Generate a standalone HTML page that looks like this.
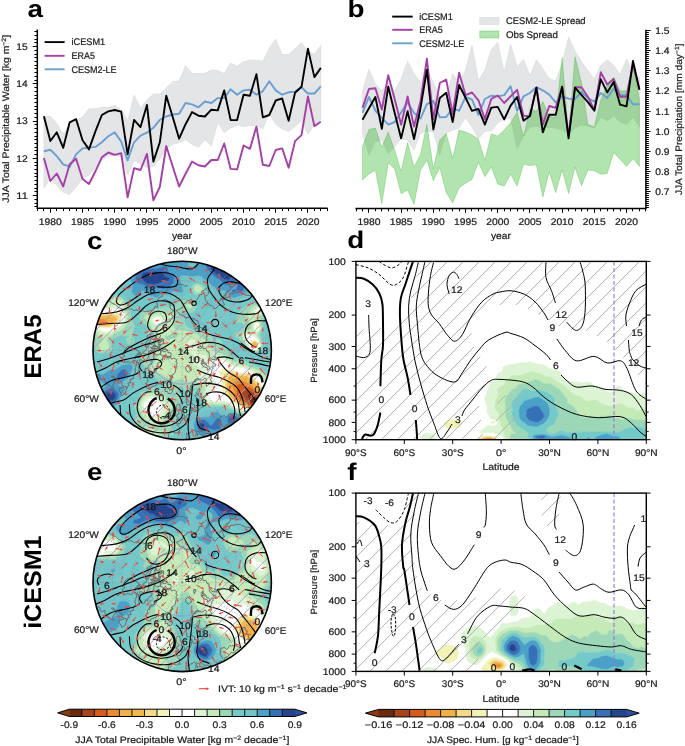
<!DOCTYPE html>
<html><head><meta charset="utf-8"><style>
html,body{margin:0;padding:0;background:#fff;}
svg{display:block;will-change:transform;}
text{font-family:'Liberation Sans',sans-serif;text-rendering:geometricPrecision;}
text:not([font-weight]){stroke:#1a1a1a;stroke-width:0.22px;}
text[font-weight]{stroke:none;}
</style></head><body>
<svg width="685" height="746" viewBox="0 0 685 746">
<rect width="685" height="746" fill="#ffffff"/>
<path d="M43.90,117.00 L50.34,116.20 L56.78,123.60 L63.22,133.90 L69.66,124.30 L76.10,120.60 L82.54,117.00 L88.98,108.80 L95.42,108.80 L101.86,107.30 L108.30,107.30 L114.74,105.40 L121.18,109.70 L127.62,120.60 L134.06,95.20 L140.50,108.50 L146.94,100.00 L153.38,94.00 L159.82,94.00 L166.26,88.00 L172.70,81.70 L179.14,80.90 L185.58,65.50 L192.02,73.30 L198.46,73.60 L204.90,73.60 L211.34,69.90 L217.78,70.60 L224.22,73.60 L230.66,63.00 L237.10,66.20 L243.54,61.80 L249.98,60.20 L256.42,60.20 L262.86,61.40 L269.30,48.10 L275.74,39.20 L282.18,54.60 L288.62,54.60 L295.06,48.80 L301.50,42.60 L307.94,51.40 L314.38,54.30 L320.82,45.50 L320.82,119.40 L314.38,125.40 L307.94,133.90 L301.50,120.60 L295.06,126.60 L288.62,131.40 L282.18,129.00 L275.74,124.20 L269.30,113.30 L262.86,129.00 L256.42,125.40 L249.98,125.40 L243.54,126.60 L237.10,125.10 L230.66,128.00 L224.22,132.50 L217.78,122.20 L211.34,145.70 L204.90,139.80 L198.46,147.20 L192.02,144.30 L185.58,139.80 L179.14,142.80 L172.70,144.30 L166.26,148.40 L159.82,159.20 L153.38,166.50 L146.94,167.70 L140.50,164.00 L134.06,160.40 L127.62,175.00 L121.18,156.80 L114.74,155.60 L108.30,155.60 L101.86,160.40 L95.42,167.70 L88.98,175.20 L82.54,178.20 L76.10,187.00 L69.66,194.40 L63.22,192.20 L56.78,185.50 L50.34,178.20 L43.90,187.80 Z" fill="#e4e5e6" stroke="#d6d6d6" stroke-width="0.6"/>
<path d="M43.90,151.30 L50.34,149.80 L56.78,156.10 L63.22,164.30 L69.66,166.70 L76.10,154.40 L82.54,148.40 L88.98,147.60 L95.42,146.90 L101.86,142.30 L108.30,136.30 L114.74,132.40 L121.18,141.60 L127.62,160.40 L134.06,142.30 L140.50,135.60 L146.94,132.70 L153.38,127.80 L159.82,119.90 L166.26,116.50 L172.70,114.50 L179.14,113.80 L185.58,103.00 L192.02,104.40 L198.46,107.30 L204.90,101.50 L211.34,103.00 L217.78,98.10 L224.22,98.10 L230.66,89.20 L237.10,94.70 L243.54,90.40 L249.98,89.70 L256.42,94.70 L262.86,91.10 L269.30,81.20 L275.74,90.40 L282.18,94.70 L288.62,92.30 L295.06,91.60 L301.50,87.20 L307.94,93.50 L314.38,93.50 L320.82,86.30" fill="none" stroke="#6a9fd2" stroke-width="1.9" stroke-linejoin="round"/>
<path d="M43.90,158.00 L50.34,181.00 L56.78,173.50 L63.22,186.50 L69.66,164.30 L76.10,158.70 L82.54,179.00 L88.98,184.00 L95.42,171.30 L101.86,157.30 L108.30,152.50 L114.74,154.90 L121.18,153.20 L127.62,197.40 L134.06,168.20 L140.50,170.00 L146.94,153.90 L153.38,200.30 L159.82,187.00 L166.26,146.00 L172.70,166.50 L179.14,186.50 L185.58,173.70 L192.02,161.60 L198.46,165.30 L204.90,166.50 L211.34,160.00 L217.78,160.00 L224.22,143.50 L230.66,168.90 L237.10,169.40 L243.54,145.50 L249.98,148.80 L256.42,126.60 L262.86,164.80 L269.30,166.00 L275.74,150.00 L282.18,148.40 L288.62,167.70 L295.06,141.10 L301.50,135.10 L307.94,96.40 L314.38,126.10 L320.82,121.80" fill="none" stroke="#a53fa8" stroke-width="1.9" stroke-linejoin="round"/>
<path d="M43.90,116.30 L50.34,141.00 L56.78,132.30 L63.22,147.80 L69.66,122.30 L76.10,119.20 L82.54,140.20 L88.98,149.40 L95.42,131.40 L101.86,115.00 L108.30,111.40 L114.74,110.00 L121.18,111.60 L127.62,154.40 L134.06,119.90 L140.50,127.10 L146.94,104.90 L153.38,161.60 L159.82,142.30 L166.26,95.70 L172.70,117.00 L179.14,138.70 L185.58,124.20 L192.02,112.10 L198.46,115.70 L204.90,116.50 L211.34,109.70 L217.78,110.40 L224.22,90.40 L230.66,120.10 L237.10,120.10 L243.54,94.70 L249.98,95.70 L256.42,74.20 L262.86,117.40 L269.30,115.00 L275.74,100.50 L282.18,98.40 L288.62,120.80 L295.06,92.80 L301.50,86.80 L307.94,48.60 L314.38,77.10 L320.82,67.90" fill="none" stroke="#000000" stroke-width="1.9" stroke-linejoin="round"/>
<path d="M37.3,29.5 L37.3,208.2 L327.6,208.2" fill="none" stroke="#000" stroke-width="1.5"/>
<line x1="34.40" y1="206.50" x2="37.3" y2="206.50" stroke="#000" stroke-width="1.0"/>
<line x1="34.40" y1="203.50" x2="37.3" y2="203.50" stroke="#000" stroke-width="1.0"/>
<line x1="34.40" y1="199.50" x2="37.3" y2="199.50" stroke="#000" stroke-width="1.0"/>
<line x1="32.80" y1="195.50" x2="37.3" y2="195.50" stroke="#000" stroke-width="1.0"/>
<line x1="34.40" y1="191.50" x2="37.3" y2="191.50" stroke="#000" stroke-width="1.0"/>
<line x1="34.40" y1="188.50" x2="37.3" y2="188.50" stroke="#000" stroke-width="1.0"/>
<line x1="34.40" y1="184.50" x2="37.3" y2="184.50" stroke="#000" stroke-width="1.0"/>
<line x1="34.40" y1="180.50" x2="37.3" y2="180.50" stroke="#000" stroke-width="1.0"/>
<line x1="34.40" y1="176.50" x2="37.3" y2="176.50" stroke="#000" stroke-width="1.0"/>
<line x1="34.40" y1="173.50" x2="37.3" y2="173.50" stroke="#000" stroke-width="1.0"/>
<line x1="34.40" y1="169.50" x2="37.3" y2="169.50" stroke="#000" stroke-width="1.0"/>
<line x1="34.40" y1="165.50" x2="37.3" y2="165.50" stroke="#000" stroke-width="1.0"/>
<line x1="34.40" y1="162.50" x2="37.3" y2="162.50" stroke="#000" stroke-width="1.0"/>
<line x1="32.80" y1="158.50" x2="37.3" y2="158.50" stroke="#000" stroke-width="1.0"/>
<line x1="34.40" y1="154.50" x2="37.3" y2="154.50" stroke="#000" stroke-width="1.0"/>
<line x1="34.40" y1="150.50" x2="37.3" y2="150.50" stroke="#000" stroke-width="1.0"/>
<line x1="34.40" y1="147.50" x2="37.3" y2="147.50" stroke="#000" stroke-width="1.0"/>
<line x1="34.40" y1="143.50" x2="37.3" y2="143.50" stroke="#000" stroke-width="1.0"/>
<line x1="34.40" y1="139.50" x2="37.3" y2="139.50" stroke="#000" stroke-width="1.0"/>
<line x1="34.40" y1="136.50" x2="37.3" y2="136.50" stroke="#000" stroke-width="1.0"/>
<line x1="34.40" y1="132.50" x2="37.3" y2="132.50" stroke="#000" stroke-width="1.0"/>
<line x1="34.40" y1="128.50" x2="37.3" y2="128.50" stroke="#000" stroke-width="1.0"/>
<line x1="34.40" y1="124.50" x2="37.3" y2="124.50" stroke="#000" stroke-width="1.0"/>
<line x1="32.80" y1="121.50" x2="37.3" y2="121.50" stroke="#000" stroke-width="1.0"/>
<line x1="34.40" y1="117.50" x2="37.3" y2="117.50" stroke="#000" stroke-width="1.0"/>
<line x1="34.40" y1="113.50" x2="37.3" y2="113.50" stroke="#000" stroke-width="1.0"/>
<line x1="34.40" y1="109.50" x2="37.3" y2="109.50" stroke="#000" stroke-width="1.0"/>
<line x1="34.40" y1="106.50" x2="37.3" y2="106.50" stroke="#000" stroke-width="1.0"/>
<line x1="34.40" y1="102.50" x2="37.3" y2="102.50" stroke="#000" stroke-width="1.0"/>
<line x1="34.40" y1="98.50" x2="37.3" y2="98.50" stroke="#000" stroke-width="1.0"/>
<line x1="34.40" y1="95.50" x2="37.3" y2="95.50" stroke="#000" stroke-width="1.0"/>
<line x1="34.40" y1="91.50" x2="37.3" y2="91.50" stroke="#000" stroke-width="1.0"/>
<line x1="34.40" y1="87.50" x2="37.3" y2="87.50" stroke="#000" stroke-width="1.0"/>
<line x1="32.80" y1="83.50" x2="37.3" y2="83.50" stroke="#000" stroke-width="1.0"/>
<line x1="34.40" y1="80.50" x2="37.3" y2="80.50" stroke="#000" stroke-width="1.0"/>
<line x1="34.40" y1="76.50" x2="37.3" y2="76.50" stroke="#000" stroke-width="1.0"/>
<line x1="34.40" y1="72.50" x2="37.3" y2="72.50" stroke="#000" stroke-width="1.0"/>
<line x1="34.40" y1="68.50" x2="37.3" y2="68.50" stroke="#000" stroke-width="1.0"/>
<line x1="34.40" y1="65.50" x2="37.3" y2="65.50" stroke="#000" stroke-width="1.0"/>
<line x1="34.40" y1="61.50" x2="37.3" y2="61.50" stroke="#000" stroke-width="1.0"/>
<line x1="34.40" y1="57.50" x2="37.3" y2="57.50" stroke="#000" stroke-width="1.0"/>
<line x1="34.40" y1="54.50" x2="37.3" y2="54.50" stroke="#000" stroke-width="1.0"/>
<line x1="34.40" y1="50.50" x2="37.3" y2="50.50" stroke="#000" stroke-width="1.0"/>
<line x1="32.80" y1="46.50" x2="37.3" y2="46.50" stroke="#000" stroke-width="1.0"/>
<line x1="34.40" y1="42.50" x2="37.3" y2="42.50" stroke="#000" stroke-width="1.0"/>
<line x1="34.40" y1="39.50" x2="37.3" y2="39.50" stroke="#000" stroke-width="1.0"/>
<line x1="34.40" y1="35.50" x2="37.3" y2="35.50" stroke="#000" stroke-width="1.0"/>
<line x1="34.40" y1="31.50" x2="37.3" y2="31.50" stroke="#000" stroke-width="1.0"/>
<text x="27.80" y="198.90" font-size="9.63" text-anchor="end" style="" fill="#1a1a1a" textLength="11.45" lengthAdjust="spacingAndGlyphs">11</text>
<text x="27.80" y="161.65" font-size="9.63" text-anchor="end" style="" fill="#1a1a1a" textLength="11.45" lengthAdjust="spacingAndGlyphs">12</text>
<text x="27.80" y="124.40" font-size="9.63" text-anchor="end" style="" fill="#1a1a1a" textLength="11.45" lengthAdjust="spacingAndGlyphs">13</text>
<text x="27.80" y="87.15" font-size="9.63" text-anchor="end" style="" fill="#1a1a1a" textLength="11.45" lengthAdjust="spacingAndGlyphs">14</text>
<text x="27.80" y="49.90" font-size="9.63" text-anchor="end" style="" fill="#1a1a1a" textLength="11.45" lengthAdjust="spacingAndGlyphs">15</text>
<line x1="37.50" y1="208.2" x2="37.50" y2="211.10" stroke="#000" stroke-width="1.0"/>
<line x1="43.50" y1="208.2" x2="43.50" y2="211.10" stroke="#000" stroke-width="1.0"/>
<line x1="50.50" y1="208.2" x2="50.50" y2="212.70" stroke="#000" stroke-width="1.0"/>
<line x1="56.50" y1="208.2" x2="56.50" y2="211.10" stroke="#000" stroke-width="1.0"/>
<line x1="63.50" y1="208.2" x2="63.50" y2="211.10" stroke="#000" stroke-width="1.0"/>
<line x1="69.50" y1="208.2" x2="69.50" y2="211.10" stroke="#000" stroke-width="1.0"/>
<line x1="76.50" y1="208.2" x2="76.50" y2="211.10" stroke="#000" stroke-width="1.0"/>
<line x1="82.50" y1="208.2" x2="82.50" y2="212.70" stroke="#000" stroke-width="1.0"/>
<line x1="88.50" y1="208.2" x2="88.50" y2="211.10" stroke="#000" stroke-width="1.0"/>
<line x1="95.50" y1="208.2" x2="95.50" y2="211.10" stroke="#000" stroke-width="1.0"/>
<line x1="101.50" y1="208.2" x2="101.50" y2="211.10" stroke="#000" stroke-width="1.0"/>
<line x1="108.50" y1="208.2" x2="108.50" y2="211.10" stroke="#000" stroke-width="1.0"/>
<line x1="114.50" y1="208.2" x2="114.50" y2="212.70" stroke="#000" stroke-width="1.0"/>
<line x1="121.50" y1="208.2" x2="121.50" y2="211.10" stroke="#000" stroke-width="1.0"/>
<line x1="127.50" y1="208.2" x2="127.50" y2="211.10" stroke="#000" stroke-width="1.0"/>
<line x1="134.50" y1="208.2" x2="134.50" y2="211.10" stroke="#000" stroke-width="1.0"/>
<line x1="140.50" y1="208.2" x2="140.50" y2="211.10" stroke="#000" stroke-width="1.0"/>
<line x1="146.50" y1="208.2" x2="146.50" y2="212.70" stroke="#000" stroke-width="1.0"/>
<line x1="153.50" y1="208.2" x2="153.50" y2="211.10" stroke="#000" stroke-width="1.0"/>
<line x1="159.50" y1="208.2" x2="159.50" y2="211.10" stroke="#000" stroke-width="1.0"/>
<line x1="166.50" y1="208.2" x2="166.50" y2="211.10" stroke="#000" stroke-width="1.0"/>
<line x1="172.50" y1="208.2" x2="172.50" y2="211.10" stroke="#000" stroke-width="1.0"/>
<line x1="179.50" y1="208.2" x2="179.50" y2="212.70" stroke="#000" stroke-width="1.0"/>
<line x1="185.50" y1="208.2" x2="185.50" y2="211.10" stroke="#000" stroke-width="1.0"/>
<line x1="192.50" y1="208.2" x2="192.50" y2="211.10" stroke="#000" stroke-width="1.0"/>
<line x1="198.50" y1="208.2" x2="198.50" y2="211.10" stroke="#000" stroke-width="1.0"/>
<line x1="204.50" y1="208.2" x2="204.50" y2="211.10" stroke="#000" stroke-width="1.0"/>
<line x1="211.50" y1="208.2" x2="211.50" y2="212.70" stroke="#000" stroke-width="1.0"/>
<line x1="217.50" y1="208.2" x2="217.50" y2="211.10" stroke="#000" stroke-width="1.0"/>
<line x1="224.50" y1="208.2" x2="224.50" y2="211.10" stroke="#000" stroke-width="1.0"/>
<line x1="230.50" y1="208.2" x2="230.50" y2="211.10" stroke="#000" stroke-width="1.0"/>
<line x1="237.50" y1="208.2" x2="237.50" y2="211.10" stroke="#000" stroke-width="1.0"/>
<line x1="243.50" y1="208.2" x2="243.50" y2="212.70" stroke="#000" stroke-width="1.0"/>
<line x1="249.50" y1="208.2" x2="249.50" y2="211.10" stroke="#000" stroke-width="1.0"/>
<line x1="256.50" y1="208.2" x2="256.50" y2="211.10" stroke="#000" stroke-width="1.0"/>
<line x1="262.50" y1="208.2" x2="262.50" y2="211.10" stroke="#000" stroke-width="1.0"/>
<line x1="269.50" y1="208.2" x2="269.50" y2="211.10" stroke="#000" stroke-width="1.0"/>
<line x1="275.50" y1="208.2" x2="275.50" y2="212.70" stroke="#000" stroke-width="1.0"/>
<line x1="282.50" y1="208.2" x2="282.50" y2="211.10" stroke="#000" stroke-width="1.0"/>
<line x1="288.50" y1="208.2" x2="288.50" y2="211.10" stroke="#000" stroke-width="1.0"/>
<line x1="295.50" y1="208.2" x2="295.50" y2="211.10" stroke="#000" stroke-width="1.0"/>
<line x1="301.50" y1="208.2" x2="301.50" y2="211.10" stroke="#000" stroke-width="1.0"/>
<line x1="307.50" y1="208.2" x2="307.50" y2="212.70" stroke="#000" stroke-width="1.0"/>
<line x1="314.50" y1="208.2" x2="314.50" y2="211.10" stroke="#000" stroke-width="1.0"/>
<line x1="320.50" y1="208.2" x2="320.50" y2="211.10" stroke="#000" stroke-width="1.0"/>
<line x1="327.50" y1="208.2" x2="327.50" y2="211.10" stroke="#000" stroke-width="1.0"/>
<text x="50.34" y="224.50" font-size="9.63" text-anchor="middle" style="" fill="#1a1a1a" textLength="22.91" lengthAdjust="spacingAndGlyphs">1980</text>
<text x="82.54" y="224.50" font-size="9.63" text-anchor="middle" style="" fill="#1a1a1a" textLength="22.91" lengthAdjust="spacingAndGlyphs">1985</text>
<text x="114.74" y="224.50" font-size="9.63" text-anchor="middle" style="" fill="#1a1a1a" textLength="22.91" lengthAdjust="spacingAndGlyphs">1990</text>
<text x="146.94" y="224.50" font-size="9.63" text-anchor="middle" style="" fill="#1a1a1a" textLength="22.91" lengthAdjust="spacingAndGlyphs">1995</text>
<text x="179.14" y="224.50" font-size="9.63" text-anchor="middle" style="" fill="#1a1a1a" textLength="22.91" lengthAdjust="spacingAndGlyphs">2000</text>
<text x="211.34" y="224.50" font-size="9.63" text-anchor="middle" style="" fill="#1a1a1a" textLength="22.91" lengthAdjust="spacingAndGlyphs">2005</text>
<text x="243.54" y="224.50" font-size="9.63" text-anchor="middle" style="" fill="#1a1a1a" textLength="22.91" lengthAdjust="spacingAndGlyphs">2010</text>
<text x="275.74" y="224.50" font-size="9.63" text-anchor="middle" style="" fill="#1a1a1a" textLength="22.91" lengthAdjust="spacingAndGlyphs">2015</text>
<text x="307.94" y="224.50" font-size="9.63" text-anchor="middle" style="" fill="#1a1a1a" textLength="22.91" lengthAdjust="spacingAndGlyphs">2020</text>

<text x="0" y="0" font-size="9.45" fill="#262626" text-anchor="middle" textLength="167.8" lengthAdjust="spacingAndGlyphs" transform="translate(8.7,118.8) rotate(-90)">JJA Total Precipitable Water [kg m<tspan font-size="6.3" dy="-3.2">−2</tspan><tspan dy="3.2">]</tspan></text>
<line x1="44.6" y1="42.1" x2="64.6" y2="42.1" stroke="#000000" stroke-width="1.9"/>
<text x="71.50" y="45.40" font-size="9.63" text-anchor="start" style="" fill="#1a1a1a" textLength="33.68" lengthAdjust="spacingAndGlyphs">iCESM1</text>
<line x1="44.6" y1="55.8" x2="64.6" y2="55.8" stroke="#a53fa8" stroke-width="1.9"/>
<text x="71.50" y="59.10" font-size="9.63" text-anchor="start" style="" fill="#1a1a1a" textLength="23.46" lengthAdjust="spacingAndGlyphs">ERA5</text>
<line x1="44.6" y1="69.3" x2="64.6" y2="69.3" stroke="#6a9fd2" stroke-width="1.9"/>
<text x="71.50" y="72.60" font-size="9.63" text-anchor="start" style="" fill="#1a1a1a" textLength="45.12" lengthAdjust="spacingAndGlyphs">CESM2-LE</text>
<path d="M362.50,91.00 L368.94,69.20 L375.38,84.00 L381.82,91.00 L388.26,82.30 L394.70,91.00 L401.14,78.80 L407.58,61.30 L414.02,73.60 L420.46,82.30 L426.90,70.00 L433.34,82.30 L439.78,96.30 L446.22,97.50 L452.66,73.90 L459.10,83.00 L465.54,70.00 L471.98,45.60 L478.42,80.40 L484.86,70.00 L491.30,49.60 L497.74,42.30 L504.18,72.60 L510.62,44.30 L517.06,66.60 L523.50,59.40 L529.94,75.80 L536.38,59.70 L542.82,68.80 L549.26,78.40 L555.70,81.00 L562.14,63.50 L568.58,37.30 L575.02,51.30 L581.46,61.80 L587.90,70.50 L594.34,79.30 L600.78,65.30 L607.22,59.70 L613.66,65.30 L620.10,74.90 L626.54,59.20 L632.98,72.30 L639.42,77.50 L639.42,126.90 L632.98,117.00 L626.54,124.40 L620.10,122.00 L613.66,115.80 L607.22,120.70 L600.78,117.00 L594.34,128.00 L587.90,126.00 L581.46,125.00 L575.02,128.00 L568.58,134.00 L562.14,130.00 L555.70,128.00 L549.26,127.00 L542.82,128.00 L536.38,126.00 L529.94,127.00 L523.50,136.00 L517.06,148.50 L510.62,118.00 L504.18,119.00 L497.74,122.90 L491.30,130.80 L484.86,131.40 L478.42,138.70 L471.98,126.80 L465.54,117.60 L459.10,128.00 L452.66,130.00 L446.22,133.00 L439.78,154.40 L433.34,132.00 L426.90,130.80 L420.46,133.40 L414.02,149.80 L407.58,140.00 L401.14,138.70 L394.70,146.50 L388.26,153.80 L381.82,140.00 L375.38,141.30 L368.94,155.10 L362.50,133.40 Z" fill="#e4e5e6" stroke="#d6d6d6" stroke-width="0.6"/>
<path d="M362.50,146.50 L368.94,129.50 L375.38,128.10 L381.82,147.20 L388.26,132.10 L394.70,150.50 L401.14,171.50 L407.58,142.60 L414.02,166.90 L420.46,154.40 L426.90,124.50 L433.34,168.90 L439.78,140.00 L446.22,133.40 L452.66,158.40 L459.10,130.10 L465.54,132.10 L471.98,134.70 L478.42,139.30 L484.86,160.30 L491.30,134.00 L497.74,136.00 L504.18,130.10 L510.62,122.90 L517.06,112.00 L523.50,136.00 L529.94,109.50 L536.38,111.30 L542.82,101.60 L549.26,116.50 L555.70,117.40 L562.14,57.40 L568.58,133.00 L575.02,56.80 L581.46,82.30 L587.90,124.40 L594.34,126.90 L600.78,100.00 L607.22,84.70 L613.66,77.30 L620.10,91.00 L626.54,91.00 L632.98,62.40 L639.42,99.60 L639.42,166.40 L632.98,158.60 L626.54,166.40 L620.10,159.40 L613.66,152.40 L607.22,173.40 L600.78,174.30 L594.34,170.80 L587.90,169.90 L581.46,185.70 L575.02,167.30 L568.58,193.60 L562.14,169.90 L555.70,192.70 L549.26,171.70 L542.82,197.10 L536.38,164.70 L529.94,165.60 L523.50,164.30 L517.06,186.00 L510.62,174.10 L504.18,186.00 L497.74,184.00 L491.30,166.90 L484.86,176.80 L478.42,162.30 L471.98,179.40 L465.54,183.30 L459.10,187.90 L452.66,203.00 L446.22,192.50 L439.78,167.60 L433.34,180.70 L426.90,160.30 L420.46,170.20 L414.02,204.40 L407.58,189.90 L401.14,193.80 L394.70,168.90 L388.26,163.00 L381.82,203.70 L375.38,170.20 L368.94,174.10 L362.50,180.00 Z" fill="#13ad0a" fill-opacity="0.33" stroke="#13ad0a" stroke-opacity="0.33" stroke-width="0.8"/>
<path d="M362.50,112.90 L368.94,97.00 L375.38,110.60 L381.82,117.90 L388.26,124.70 L394.70,122.00 L401.14,112.40 L407.58,102.20 L414.02,112.90 L420.46,118.60 L426.90,104.20 L433.34,101.00 L439.78,117.40 L446.22,117.00 L452.66,108.20 L459.10,110.80 L465.54,96.80 L471.98,99.70 L478.42,114.80 L484.86,99.00 L491.30,95.70 L497.74,96.40 L504.18,95.10 L510.62,86.30 L517.06,110.80 L523.50,96.40 L529.94,93.00 L536.38,87.10 L542.82,90.30 L549.26,94.60 L555.70,102.50 L562.14,96.40 L568.58,98.70 L575.02,99.00 L581.46,92.00 L587.90,98.10 L594.34,101.60 L600.78,92.90 L607.22,98.10 L613.66,88.50 L620.10,95.20 L626.54,95.20 L632.98,104.30 L639.42,104.30" fill="none" stroke="#6a9fd2" stroke-width="1.9" stroke-linejoin="round"/>
<path d="M362.50,107.90 L368.94,89.00 L375.38,88.30 L381.82,109.50 L388.26,75.30 L394.70,99.20 L401.14,124.70 L407.58,96.50 L414.02,126.60 L420.46,101.50 L426.90,58.70 L433.34,119.30 L439.78,83.00 L446.22,79.70 L452.66,114.10 L459.10,72.70 L465.54,95.10 L471.98,92.50 L478.42,100.30 L484.86,119.10 L491.30,99.00 L497.74,95.50 L504.18,103.00 L510.62,96.40 L517.06,89.80 L523.50,115.70 L529.94,116.30 L536.38,87.60 L542.82,124.40 L549.26,106.00 L555.70,107.80 L562.14,86.80 L568.58,135.80 L575.02,87.10 L581.46,87.20 L587.90,96.80 L594.34,109.90 L600.78,72.30 L607.22,84.50 L613.66,78.90 L620.10,96.80 L626.54,96.80 L632.98,64.40 L639.42,89.80" fill="none" stroke="#a53fa8" stroke-width="1.9" stroke-linejoin="round"/>
<path d="M362.50,119.70 L368.94,108.30 L375.38,97.00 L381.82,128.80 L388.26,86.70 L394.70,112.90 L401.14,138.40 L407.58,111.10 L414.02,139.10 L420.46,108.30 L426.90,69.60 L433.34,129.50 L439.78,98.00 L446.22,92.80 L452.66,122.00 L459.10,85.00 L465.54,97.70 L471.98,110.80 L478.42,108.90 L484.86,124.60 L491.30,107.60 L497.74,106.90 L504.18,119.40 L510.62,105.60 L517.06,97.00 L523.50,120.70 L529.94,116.00 L536.38,87.60 L542.82,132.30 L549.26,114.80 L555.70,114.80 L562.14,86.80 L568.58,138.40 L575.02,87.60 L581.46,95.00 L587.90,102.10 L594.34,110.80 L600.78,79.30 L607.22,92.40 L613.66,81.90 L620.10,104.70 L626.54,106.40 L632.98,60.90 L639.42,89.80" fill="none" stroke="#000000" stroke-width="1.9" stroke-linejoin="round"/>
<path d="M355.4,208.4 L645.9,208.4 L645.9,29.8" fill="none" stroke="#000" stroke-width="1.5"/>
<line x1="645.9" y1="207.50" x2="648.90" y2="207.50" stroke="#000" stroke-width="1.0"/>
<line x1="645.9" y1="205.50" x2="648.90" y2="205.50" stroke="#000" stroke-width="1.0"/>
<line x1="645.9" y1="203.50" x2="648.90" y2="203.50" stroke="#000" stroke-width="1.0"/>
<line x1="645.9" y1="201.50" x2="648.90" y2="201.50" stroke="#000" stroke-width="1.0"/>
<line x1="645.9" y1="199.50" x2="648.90" y2="199.50" stroke="#000" stroke-width="1.0"/>
<line x1="645.9" y1="197.50" x2="648.90" y2="197.50" stroke="#000" stroke-width="1.0"/>
<line x1="645.9" y1="195.50" x2="648.90" y2="195.50" stroke="#000" stroke-width="1.0"/>
<line x1="645.9" y1="193.50" x2="648.90" y2="193.50" stroke="#000" stroke-width="1.0"/>
<line x1="645.9" y1="191.50" x2="650.60" y2="191.50" stroke="#000" stroke-width="1.0"/>
<line x1="645.9" y1="189.50" x2="648.90" y2="189.50" stroke="#000" stroke-width="1.0"/>
<line x1="645.9" y1="187.50" x2="648.90" y2="187.50" stroke="#000" stroke-width="1.0"/>
<line x1="645.9" y1="185.50" x2="648.90" y2="185.50" stroke="#000" stroke-width="1.0"/>
<line x1="645.9" y1="183.50" x2="648.90" y2="183.50" stroke="#000" stroke-width="1.0"/>
<line x1="645.9" y1="181.50" x2="648.90" y2="181.50" stroke="#000" stroke-width="1.0"/>
<line x1="645.9" y1="179.50" x2="648.90" y2="179.50" stroke="#000" stroke-width="1.0"/>
<line x1="645.9" y1="177.50" x2="648.90" y2="177.50" stroke="#000" stroke-width="1.0"/>
<line x1="645.9" y1="175.50" x2="648.90" y2="175.50" stroke="#000" stroke-width="1.0"/>
<line x1="645.9" y1="173.50" x2="648.90" y2="173.50" stroke="#000" stroke-width="1.0"/>
<line x1="645.9" y1="171.50" x2="650.60" y2="171.50" stroke="#000" stroke-width="1.0"/>
<line x1="645.9" y1="169.50" x2="648.90" y2="169.50" stroke="#000" stroke-width="1.0"/>
<line x1="645.9" y1="167.50" x2="648.90" y2="167.50" stroke="#000" stroke-width="1.0"/>
<line x1="645.9" y1="165.50" x2="648.90" y2="165.50" stroke="#000" stroke-width="1.0"/>
<line x1="645.9" y1="163.50" x2="648.90" y2="163.50" stroke="#000" stroke-width="1.0"/>
<line x1="645.9" y1="161.50" x2="648.90" y2="161.50" stroke="#000" stroke-width="1.0"/>
<line x1="645.9" y1="159.50" x2="648.90" y2="159.50" stroke="#000" stroke-width="1.0"/>
<line x1="645.9" y1="157.50" x2="648.90" y2="157.50" stroke="#000" stroke-width="1.0"/>
<line x1="645.9" y1="155.50" x2="648.90" y2="155.50" stroke="#000" stroke-width="1.0"/>
<line x1="645.9" y1="153.50" x2="648.90" y2="153.50" stroke="#000" stroke-width="1.0"/>
<line x1="645.9" y1="151.50" x2="650.60" y2="151.50" stroke="#000" stroke-width="1.0"/>
<line x1="645.9" y1="149.50" x2="648.90" y2="149.50" stroke="#000" stroke-width="1.0"/>
<line x1="645.9" y1="147.50" x2="648.90" y2="147.50" stroke="#000" stroke-width="1.0"/>
<line x1="645.9" y1="145.50" x2="648.90" y2="145.50" stroke="#000" stroke-width="1.0"/>
<line x1="645.9" y1="143.50" x2="648.90" y2="143.50" stroke="#000" stroke-width="1.0"/>
<line x1="645.9" y1="141.50" x2="648.90" y2="141.50" stroke="#000" stroke-width="1.0"/>
<line x1="645.9" y1="139.50" x2="648.90" y2="139.50" stroke="#000" stroke-width="1.0"/>
<line x1="645.9" y1="137.50" x2="648.90" y2="137.50" stroke="#000" stroke-width="1.0"/>
<line x1="645.9" y1="135.50" x2="648.90" y2="135.50" stroke="#000" stroke-width="1.0"/>
<line x1="645.9" y1="133.50" x2="648.90" y2="133.50" stroke="#000" stroke-width="1.0"/>
<line x1="645.9" y1="131.50" x2="650.60" y2="131.50" stroke="#000" stroke-width="1.0"/>
<line x1="645.9" y1="129.50" x2="648.90" y2="129.50" stroke="#000" stroke-width="1.0"/>
<line x1="645.9" y1="127.50" x2="648.90" y2="127.50" stroke="#000" stroke-width="1.0"/>
<line x1="645.9" y1="125.50" x2="648.90" y2="125.50" stroke="#000" stroke-width="1.0"/>
<line x1="645.9" y1="123.50" x2="648.90" y2="123.50" stroke="#000" stroke-width="1.0"/>
<line x1="645.9" y1="121.50" x2="648.90" y2="121.50" stroke="#000" stroke-width="1.0"/>
<line x1="645.9" y1="119.50" x2="648.90" y2="119.50" stroke="#000" stroke-width="1.0"/>
<line x1="645.9" y1="117.50" x2="648.90" y2="117.50" stroke="#000" stroke-width="1.0"/>
<line x1="645.9" y1="115.50" x2="648.90" y2="115.50" stroke="#000" stroke-width="1.0"/>
<line x1="645.9" y1="113.50" x2="648.90" y2="113.50" stroke="#000" stroke-width="1.0"/>
<line x1="645.9" y1="111.50" x2="650.60" y2="111.50" stroke="#000" stroke-width="1.0"/>
<line x1="645.9" y1="109.50" x2="648.90" y2="109.50" stroke="#000" stroke-width="1.0"/>
<line x1="645.9" y1="107.50" x2="648.90" y2="107.50" stroke="#000" stroke-width="1.0"/>
<line x1="645.9" y1="105.50" x2="648.90" y2="105.50" stroke="#000" stroke-width="1.0"/>
<line x1="645.9" y1="103.50" x2="648.90" y2="103.50" stroke="#000" stroke-width="1.0"/>
<line x1="645.9" y1="101.50" x2="648.90" y2="101.50" stroke="#000" stroke-width="1.0"/>
<line x1="645.9" y1="99.50" x2="648.90" y2="99.50" stroke="#000" stroke-width="1.0"/>
<line x1="645.9" y1="97.50" x2="648.90" y2="97.50" stroke="#000" stroke-width="1.0"/>
<line x1="645.9" y1="95.50" x2="648.90" y2="95.50" stroke="#000" stroke-width="1.0"/>
<line x1="645.9" y1="93.50" x2="648.90" y2="93.50" stroke="#000" stroke-width="1.0"/>
<line x1="645.9" y1="91.50" x2="650.60" y2="91.50" stroke="#000" stroke-width="1.0"/>
<line x1="645.9" y1="89.50" x2="648.90" y2="89.50" stroke="#000" stroke-width="1.0"/>
<line x1="645.9" y1="87.50" x2="648.90" y2="87.50" stroke="#000" stroke-width="1.0"/>
<line x1="645.9" y1="85.50" x2="648.90" y2="85.50" stroke="#000" stroke-width="1.0"/>
<line x1="645.9" y1="83.50" x2="648.90" y2="83.50" stroke="#000" stroke-width="1.0"/>
<line x1="645.9" y1="81.50" x2="648.90" y2="81.50" stroke="#000" stroke-width="1.0"/>
<line x1="645.9" y1="79.50" x2="648.90" y2="79.50" stroke="#000" stroke-width="1.0"/>
<line x1="645.9" y1="76.50" x2="648.90" y2="76.50" stroke="#000" stroke-width="1.0"/>
<line x1="645.9" y1="74.50" x2="648.90" y2="74.50" stroke="#000" stroke-width="1.0"/>
<line x1="645.9" y1="72.50" x2="648.90" y2="72.50" stroke="#000" stroke-width="1.0"/>
<line x1="645.9" y1="70.50" x2="650.60" y2="70.50" stroke="#000" stroke-width="1.0"/>
<line x1="645.9" y1="68.50" x2="648.90" y2="68.50" stroke="#000" stroke-width="1.0"/>
<line x1="645.9" y1="66.50" x2="648.90" y2="66.50" stroke="#000" stroke-width="1.0"/>
<line x1="645.9" y1="64.50" x2="648.90" y2="64.50" stroke="#000" stroke-width="1.0"/>
<line x1="645.9" y1="62.50" x2="648.90" y2="62.50" stroke="#000" stroke-width="1.0"/>
<line x1="645.9" y1="60.50" x2="648.90" y2="60.50" stroke="#000" stroke-width="1.0"/>
<line x1="645.9" y1="58.50" x2="648.90" y2="58.50" stroke="#000" stroke-width="1.0"/>
<line x1="645.9" y1="56.50" x2="648.90" y2="56.50" stroke="#000" stroke-width="1.0"/>
<line x1="645.9" y1="54.50" x2="648.90" y2="54.50" stroke="#000" stroke-width="1.0"/>
<line x1="645.9" y1="52.50" x2="648.90" y2="52.50" stroke="#000" stroke-width="1.0"/>
<line x1="645.9" y1="50.50" x2="650.60" y2="50.50" stroke="#000" stroke-width="1.0"/>
<line x1="645.9" y1="48.50" x2="648.90" y2="48.50" stroke="#000" stroke-width="1.0"/>
<line x1="645.9" y1="46.50" x2="648.90" y2="46.50" stroke="#000" stroke-width="1.0"/>
<line x1="645.9" y1="44.50" x2="648.90" y2="44.50" stroke="#000" stroke-width="1.0"/>
<line x1="645.9" y1="42.50" x2="648.90" y2="42.50" stroke="#000" stroke-width="1.0"/>
<line x1="645.9" y1="40.50" x2="648.90" y2="40.50" stroke="#000" stroke-width="1.0"/>
<line x1="645.9" y1="38.50" x2="648.90" y2="38.50" stroke="#000" stroke-width="1.0"/>
<line x1="645.9" y1="36.50" x2="648.90" y2="36.50" stroke="#000" stroke-width="1.0"/>
<line x1="645.9" y1="34.50" x2="648.90" y2="34.50" stroke="#000" stroke-width="1.0"/>
<line x1="645.9" y1="32.50" x2="648.90" y2="32.50" stroke="#000" stroke-width="1.0"/>
<line x1="645.9" y1="30.50" x2="650.60" y2="30.50" stroke="#000" stroke-width="1.0"/>
<text x="655.30" y="195.15" font-size="9.63" text-anchor="start" style="" fill="#1a1a1a" textLength="14.31" lengthAdjust="spacingAndGlyphs">0.7</text>
<text x="655.30" y="175.00" font-size="9.63" text-anchor="start" style="" fill="#1a1a1a" textLength="14.31" lengthAdjust="spacingAndGlyphs">0.8</text>
<text x="655.30" y="154.85" font-size="9.63" text-anchor="start" style="" fill="#1a1a1a" textLength="14.31" lengthAdjust="spacingAndGlyphs">0.9</text>
<text x="655.30" y="134.70" font-size="9.63" text-anchor="start" style="" fill="#1a1a1a" textLength="14.31" lengthAdjust="spacingAndGlyphs">1.0</text>
<text x="655.30" y="114.55" font-size="9.63" text-anchor="start" style="" fill="#1a1a1a" textLength="14.31" lengthAdjust="spacingAndGlyphs">1.1</text>
<text x="655.30" y="94.40" font-size="9.63" text-anchor="start" style="" fill="#1a1a1a" textLength="14.31" lengthAdjust="spacingAndGlyphs">1.2</text>
<text x="655.30" y="74.25" font-size="9.63" text-anchor="start" style="" fill="#1a1a1a" textLength="14.31" lengthAdjust="spacingAndGlyphs">1.3</text>
<text x="655.30" y="54.10" font-size="9.63" text-anchor="start" style="" fill="#1a1a1a" textLength="14.31" lengthAdjust="spacingAndGlyphs">1.4</text>
<text x="655.30" y="33.95" font-size="9.63" text-anchor="start" style="" fill="#1a1a1a" textLength="14.31" lengthAdjust="spacingAndGlyphs">1.5</text>
<line x1="356.50" y1="208.4" x2="356.50" y2="211.30" stroke="#000" stroke-width="1.0"/>
<line x1="362.50" y1="208.4" x2="362.50" y2="211.30" stroke="#000" stroke-width="1.0"/>
<line x1="368.50" y1="208.4" x2="368.50" y2="212.90" stroke="#000" stroke-width="1.0"/>
<line x1="375.50" y1="208.4" x2="375.50" y2="211.30" stroke="#000" stroke-width="1.0"/>
<line x1="381.50" y1="208.4" x2="381.50" y2="211.30" stroke="#000" stroke-width="1.0"/>
<line x1="388.50" y1="208.4" x2="388.50" y2="211.30" stroke="#000" stroke-width="1.0"/>
<line x1="394.50" y1="208.4" x2="394.50" y2="211.30" stroke="#000" stroke-width="1.0"/>
<line x1="401.50" y1="208.4" x2="401.50" y2="212.90" stroke="#000" stroke-width="1.0"/>
<line x1="407.50" y1="208.4" x2="407.50" y2="211.30" stroke="#000" stroke-width="1.0"/>
<line x1="414.50" y1="208.4" x2="414.50" y2="211.30" stroke="#000" stroke-width="1.0"/>
<line x1="420.50" y1="208.4" x2="420.50" y2="211.30" stroke="#000" stroke-width="1.0"/>
<line x1="426.50" y1="208.4" x2="426.50" y2="211.30" stroke="#000" stroke-width="1.0"/>
<line x1="433.50" y1="208.4" x2="433.50" y2="212.90" stroke="#000" stroke-width="1.0"/>
<line x1="439.50" y1="208.4" x2="439.50" y2="211.30" stroke="#000" stroke-width="1.0"/>
<line x1="446.50" y1="208.4" x2="446.50" y2="211.30" stroke="#000" stroke-width="1.0"/>
<line x1="452.50" y1="208.4" x2="452.50" y2="211.30" stroke="#000" stroke-width="1.0"/>
<line x1="459.50" y1="208.4" x2="459.50" y2="211.30" stroke="#000" stroke-width="1.0"/>
<line x1="465.50" y1="208.4" x2="465.50" y2="212.90" stroke="#000" stroke-width="1.0"/>
<line x1="471.50" y1="208.4" x2="471.50" y2="211.30" stroke="#000" stroke-width="1.0"/>
<line x1="478.50" y1="208.4" x2="478.50" y2="211.30" stroke="#000" stroke-width="1.0"/>
<line x1="484.50" y1="208.4" x2="484.50" y2="211.30" stroke="#000" stroke-width="1.0"/>
<line x1="491.50" y1="208.4" x2="491.50" y2="211.30" stroke="#000" stroke-width="1.0"/>
<line x1="497.50" y1="208.4" x2="497.50" y2="212.90" stroke="#000" stroke-width="1.0"/>
<line x1="504.50" y1="208.4" x2="504.50" y2="211.30" stroke="#000" stroke-width="1.0"/>
<line x1="510.50" y1="208.4" x2="510.50" y2="211.30" stroke="#000" stroke-width="1.0"/>
<line x1="517.50" y1="208.4" x2="517.50" y2="211.30" stroke="#000" stroke-width="1.0"/>
<line x1="523.50" y1="208.4" x2="523.50" y2="211.30" stroke="#000" stroke-width="1.0"/>
<line x1="529.50" y1="208.4" x2="529.50" y2="212.90" stroke="#000" stroke-width="1.0"/>
<line x1="536.50" y1="208.4" x2="536.50" y2="211.30" stroke="#000" stroke-width="1.0"/>
<line x1="542.50" y1="208.4" x2="542.50" y2="211.30" stroke="#000" stroke-width="1.0"/>
<line x1="549.50" y1="208.4" x2="549.50" y2="211.30" stroke="#000" stroke-width="1.0"/>
<line x1="555.50" y1="208.4" x2="555.50" y2="211.30" stroke="#000" stroke-width="1.0"/>
<line x1="562.50" y1="208.4" x2="562.50" y2="212.90" stroke="#000" stroke-width="1.0"/>
<line x1="568.50" y1="208.4" x2="568.50" y2="211.30" stroke="#000" stroke-width="1.0"/>
<line x1="575.50" y1="208.4" x2="575.50" y2="211.30" stroke="#000" stroke-width="1.0"/>
<line x1="581.50" y1="208.4" x2="581.50" y2="211.30" stroke="#000" stroke-width="1.0"/>
<line x1="587.50" y1="208.4" x2="587.50" y2="211.30" stroke="#000" stroke-width="1.0"/>
<line x1="594.50" y1="208.4" x2="594.50" y2="212.90" stroke="#000" stroke-width="1.0"/>
<line x1="600.50" y1="208.4" x2="600.50" y2="211.30" stroke="#000" stroke-width="1.0"/>
<line x1="607.50" y1="208.4" x2="607.50" y2="211.30" stroke="#000" stroke-width="1.0"/>
<line x1="613.50" y1="208.4" x2="613.50" y2="211.30" stroke="#000" stroke-width="1.0"/>
<line x1="620.50" y1="208.4" x2="620.50" y2="211.30" stroke="#000" stroke-width="1.0"/>
<line x1="626.50" y1="208.4" x2="626.50" y2="212.90" stroke="#000" stroke-width="1.0"/>
<line x1="632.50" y1="208.4" x2="632.50" y2="211.30" stroke="#000" stroke-width="1.0"/>
<line x1="639.50" y1="208.4" x2="639.50" y2="211.30" stroke="#000" stroke-width="1.0"/>
<line x1="645.50" y1="208.4" x2="645.50" y2="211.30" stroke="#000" stroke-width="1.0"/>
<text x="368.94" y="224.50" font-size="9.63" text-anchor="middle" style="" fill="#1a1a1a" textLength="22.91" lengthAdjust="spacingAndGlyphs">1980</text>
<text x="401.14" y="224.50" font-size="9.63" text-anchor="middle" style="" fill="#1a1a1a" textLength="22.91" lengthAdjust="spacingAndGlyphs">1985</text>
<text x="433.34" y="224.50" font-size="9.63" text-anchor="middle" style="" fill="#1a1a1a" textLength="22.91" lengthAdjust="spacingAndGlyphs">1990</text>
<text x="465.54" y="224.50" font-size="9.63" text-anchor="middle" style="" fill="#1a1a1a" textLength="22.91" lengthAdjust="spacingAndGlyphs">1995</text>
<text x="497.74" y="224.50" font-size="9.63" text-anchor="middle" style="" fill="#1a1a1a" textLength="22.91" lengthAdjust="spacingAndGlyphs">2000</text>
<text x="529.94" y="224.50" font-size="9.63" text-anchor="middle" style="" fill="#1a1a1a" textLength="22.91" lengthAdjust="spacingAndGlyphs">2005</text>
<text x="562.14" y="224.50" font-size="9.63" text-anchor="middle" style="" fill="#1a1a1a" textLength="22.91" lengthAdjust="spacingAndGlyphs">2010</text>
<text x="594.34" y="224.50" font-size="9.63" text-anchor="middle" style="" fill="#1a1a1a" textLength="22.91" lengthAdjust="spacingAndGlyphs">2015</text>
<text x="626.54" y="224.50" font-size="9.63" text-anchor="middle" style="" fill="#1a1a1a" textLength="22.91" lengthAdjust="spacingAndGlyphs">2020</text>
<text x="0" y="0" font-size="9.45" fill="#262626" text-anchor="middle" textLength="151.6" lengthAdjust="spacingAndGlyphs" transform="translate(681.8,119.3) rotate(-90)">JJA Total Precipitation [mm day<tspan font-size="6.3" dy="-3.2">−1</tspan><tspan dy="3.2">]</tspan></text>
<line x1="392.2" y1="16.6" x2="412.7" y2="16.6" stroke="#000000" stroke-width="1.9"/>
<text x="419.20" y="19.90" font-size="9.63" text-anchor="start" style="" fill="#1a1a1a" textLength="33.68" lengthAdjust="spacingAndGlyphs">iCESM1</text>
<line x1="392.2" y1="29.8" x2="412.7" y2="29.8" stroke="#a53fa8" stroke-width="1.9"/>
<text x="419.20" y="33.10" font-size="9.63" text-anchor="start" style="" fill="#1a1a1a" textLength="23.46" lengthAdjust="spacingAndGlyphs">ERA5</text>
<line x1="392.2" y1="43.3" x2="412.7" y2="43.3" stroke="#6a9fd2" stroke-width="1.9"/>
<text x="419.20" y="46.60" font-size="9.63" text-anchor="start" style="" fill="#1a1a1a" textLength="45.12" lengthAdjust="spacingAndGlyphs">CESM2-LE</text>
<rect x="479.8" y="17.5" width="19.1" height="7" fill="#e4e5e6" stroke="#d6d6d6" stroke-width="0.6"/>
<rect x="479.8" y="31" width="19.1" height="7" fill="#13ad0a" fill-opacity="0.33" stroke="#13ad0a" stroke-opacity="0.33" stroke-width="0.8"/>
<text x="505.90" y="24.30" font-size="9.63" text-anchor="start" style="" fill="#1a1a1a" textLength="79.68" lengthAdjust="spacingAndGlyphs">CESM2-LE Spread</text>
<text x="505.90" y="37.80" font-size="9.63" text-anchor="start" style="" fill="#1a1a1a" textLength="52.04" lengthAdjust="spacingAndGlyphs">Obs Spread</text>
<path d="M57.70,712.85 L69.80,709.20 L69.80,716.50 Z" fill="#8a3a14"/>
<path d="M306.90,712.85 L294.30,709.20 L294.30,716.50 Z" fill="#2b509e"/>
<rect x="69.30" y="709.20" width="12.83" height="7.30" fill="#6b2a0e"/>
<rect x="81.83" y="709.20" width="12.83" height="7.30" fill="#a8441a"/>
<rect x="94.36" y="709.20" width="12.83" height="7.30" fill="#d65c1c"/>
<rect x="106.88" y="709.20" width="12.83" height="7.30" fill="#ec8a30"/>
<rect x="119.41" y="709.20" width="12.83" height="7.30" fill="#f0b048"/>
<rect x="131.94" y="709.20" width="12.83" height="7.30" fill="#f1b84e"/>
<rect x="144.47" y="709.20" width="12.83" height="7.30" fill="#f2da88"/>
<rect x="156.99" y="709.20" width="12.83" height="7.30" fill="#f3f3b8"/>
<rect x="169.52" y="709.20" width="12.83" height="7.30" fill="#ffffff"/>
<rect x="182.05" y="709.20" width="12.83" height="7.30" fill="#ffffff"/>
<rect x="194.58" y="709.20" width="12.83" height="7.30" fill="#ddf4d4"/>
<rect x="207.11" y="709.20" width="12.83" height="7.30" fill="#c4eab8"/>
<rect x="219.63" y="709.20" width="12.83" height="7.30" fill="#9cd8b8"/>
<rect x="232.16" y="709.20" width="12.83" height="7.30" fill="#74cac8"/>
<rect x="244.69" y="709.20" width="12.83" height="7.30" fill="#72c4c8"/>
<rect x="257.22" y="709.20" width="12.83" height="7.30" fill="#4ba0c8"/>
<rect x="269.74" y="709.20" width="12.83" height="7.30" fill="#3670b6"/>
<rect x="282.27" y="709.20" width="12.83" height="7.30" fill="#24458c"/>
<line x1="81.83" y1="709.20" x2="81.83" y2="716.50" stroke="#000" stroke-width="0.9"/>
<line x1="94.36" y1="709.20" x2="94.36" y2="716.50" stroke="#000" stroke-width="0.9"/>
<line x1="106.88" y1="709.20" x2="106.88" y2="716.50" stroke="#000" stroke-width="0.9"/>
<line x1="119.41" y1="709.20" x2="119.41" y2="716.50" stroke="#000" stroke-width="0.9"/>
<line x1="131.94" y1="709.20" x2="131.94" y2="716.50" stroke="#000" stroke-width="0.9"/>
<line x1="144.47" y1="709.20" x2="144.47" y2="716.50" stroke="#000" stroke-width="0.9"/>
<line x1="156.99" y1="709.20" x2="156.99" y2="716.50" stroke="#000" stroke-width="0.9"/>
<line x1="169.52" y1="709.20" x2="169.52" y2="716.50" stroke="#000" stroke-width="0.9"/>
<line x1="182.05" y1="709.20" x2="182.05" y2="716.50" stroke="#000" stroke-width="0.9"/>
<line x1="194.58" y1="709.20" x2="194.58" y2="716.50" stroke="#000" stroke-width="0.9"/>
<line x1="207.11" y1="709.20" x2="207.11" y2="716.50" stroke="#000" stroke-width="0.9"/>
<line x1="219.63" y1="709.20" x2="219.63" y2="716.50" stroke="#000" stroke-width="0.9"/>
<line x1="232.16" y1="709.20" x2="232.16" y2="716.50" stroke="#000" stroke-width="0.9"/>
<line x1="244.69" y1="709.20" x2="244.69" y2="716.50" stroke="#000" stroke-width="0.9"/>
<line x1="257.22" y1="709.20" x2="257.22" y2="716.50" stroke="#000" stroke-width="0.9"/>
<line x1="269.74" y1="709.20" x2="269.74" y2="716.50" stroke="#000" stroke-width="0.9"/>
<line x1="282.27" y1="709.20" x2="282.27" y2="716.50" stroke="#000" stroke-width="0.9"/>
<path d="M57.70,712.85 L69.30,709.20 L294.80,709.20 L306.90,712.85 L294.80,716.50 L69.30,716.50 Z" fill="none" stroke="#000" stroke-width="1.0"/>
<text x="69.30" y="728.40" font-size="9.50" text-anchor="middle" style="" fill="#1a1a1a" textLength="17.56" lengthAdjust="spacingAndGlyphs">-0.9</text>
<text x="106.88" y="728.40" font-size="9.50" text-anchor="middle" style="" fill="#1a1a1a" textLength="17.56" lengthAdjust="spacingAndGlyphs">-0.6</text>
<text x="144.46" y="728.40" font-size="9.50" text-anchor="middle" style="" fill="#1a1a1a" textLength="17.56" lengthAdjust="spacingAndGlyphs">-0.3</text>
<text x="182.04" y="728.40" font-size="9.50" text-anchor="middle" style="" fill="#1a1a1a" textLength="14.31" lengthAdjust="spacingAndGlyphs">0.0</text>
<text x="219.62" y="728.40" font-size="9.50" text-anchor="middle" style="" fill="#1a1a1a" textLength="14.31" lengthAdjust="spacingAndGlyphs">0.3</text>
<text x="257.20" y="728.40" font-size="9.50" text-anchor="middle" style="" fill="#1a1a1a" textLength="14.31" lengthAdjust="spacingAndGlyphs">0.6</text>
<text x="294.78" y="728.40" font-size="9.50" text-anchor="middle" style="" fill="#1a1a1a" textLength="14.31" lengthAdjust="spacingAndGlyphs">0.9</text>
<text x="182.25" y="743.2" font-size="9.45" fill="#1a1a1a" text-anchor="middle" textLength="214.1" lengthAdjust="spacingAndGlyphs">JJA Total Precipitable Water [kg m<tspan font-size="6.3" dy="-3.2">−2</tspan><tspan dy="3.2"> decade</tspan><tspan font-size="6.3" dy="-3.2">−1</tspan><tspan dy="3.2">]</tspan></text>
<path d="M365.40,713.15 L379.10,709.40 L379.10,716.90 Z" fill="#8a3a14"/>
<path d="M639.20,713.15 L626.10,709.40 L626.10,716.90 Z" fill="#2b509e"/>
<rect x="378.60" y="709.40" width="15.80" height="7.50" fill="#6b2a0e"/>
<rect x="394.10" y="709.40" width="15.80" height="7.50" fill="#a8441a"/>
<rect x="409.60" y="709.40" width="15.80" height="7.50" fill="#d65c1c"/>
<rect x="425.10" y="709.40" width="15.80" height="7.50" fill="#ec8a30"/>
<rect x="440.60" y="709.40" width="15.80" height="7.50" fill="#f0b048"/>
<rect x="456.10" y="709.40" width="15.80" height="7.50" fill="#f2da88"/>
<rect x="471.60" y="709.40" width="15.80" height="7.50" fill="#f3f3b8"/>
<rect x="487.10" y="709.40" width="15.80" height="7.50" fill="#ffffff"/>
<rect x="502.60" y="709.40" width="15.80" height="7.50" fill="#ffffff"/>
<rect x="518.10" y="709.40" width="15.80" height="7.50" fill="#ddf4d4"/>
<rect x="533.60" y="709.40" width="15.80" height="7.50" fill="#c4eab8"/>
<rect x="549.10" y="709.40" width="15.80" height="7.50" fill="#9cd8b8"/>
<rect x="564.60" y="709.40" width="15.80" height="7.50" fill="#74cac8"/>
<rect x="580.10" y="709.40" width="15.80" height="7.50" fill="#4ba0c8"/>
<rect x="595.60" y="709.40" width="15.80" height="7.50" fill="#3670b6"/>
<rect x="611.10" y="709.40" width="15.80" height="7.50" fill="#24458c"/>
<line x1="394.10" y1="709.40" x2="394.10" y2="716.90" stroke="#000" stroke-width="0.9"/>
<line x1="409.60" y1="709.40" x2="409.60" y2="716.90" stroke="#000" stroke-width="0.9"/>
<line x1="425.10" y1="709.40" x2="425.10" y2="716.90" stroke="#000" stroke-width="0.9"/>
<line x1="440.60" y1="709.40" x2="440.60" y2="716.90" stroke="#000" stroke-width="0.9"/>
<line x1="456.10" y1="709.40" x2="456.10" y2="716.90" stroke="#000" stroke-width="0.9"/>
<line x1="471.60" y1="709.40" x2="471.60" y2="716.90" stroke="#000" stroke-width="0.9"/>
<line x1="487.10" y1="709.40" x2="487.10" y2="716.90" stroke="#000" stroke-width="0.9"/>
<line x1="502.60" y1="709.40" x2="502.60" y2="716.90" stroke="#000" stroke-width="0.9"/>
<line x1="518.10" y1="709.40" x2="518.10" y2="716.90" stroke="#000" stroke-width="0.9"/>
<line x1="533.60" y1="709.40" x2="533.60" y2="716.90" stroke="#000" stroke-width="0.9"/>
<line x1="549.10" y1="709.40" x2="549.10" y2="716.90" stroke="#000" stroke-width="0.9"/>
<line x1="564.60" y1="709.40" x2="564.60" y2="716.90" stroke="#000" stroke-width="0.9"/>
<line x1="580.10" y1="709.40" x2="580.10" y2="716.90" stroke="#000" stroke-width="0.9"/>
<line x1="595.60" y1="709.40" x2="595.60" y2="716.90" stroke="#000" stroke-width="0.9"/>
<line x1="611.10" y1="709.40" x2="611.10" y2="716.90" stroke="#000" stroke-width="0.9"/>
<path d="M365.40,713.15 L378.60,709.40 L626.60,709.40 L639.20,713.15 L626.60,716.90 L378.60,716.90 Z" fill="none" stroke="#000" stroke-width="1.0"/>
<text x="378.60" y="728.40" font-size="9.50" text-anchor="middle" style="" fill="#1a1a1a" textLength="27.58" lengthAdjust="spacingAndGlyphs">−0.16</text>
<text x="409.60" y="728.40" font-size="9.50" text-anchor="middle" style="" fill="#1a1a1a" textLength="27.58" lengthAdjust="spacingAndGlyphs">−0.12</text>
<text x="440.60" y="728.40" font-size="9.50" text-anchor="middle" style="" fill="#1a1a1a" textLength="27.58" lengthAdjust="spacingAndGlyphs">−0.08</text>
<text x="471.60" y="728.40" font-size="9.50" text-anchor="middle" style="" fill="#1a1a1a" textLength="27.58" lengthAdjust="spacingAndGlyphs">−0.04</text>
<text x="502.60" y="728.40" font-size="9.50" text-anchor="middle" style="" fill="#1a1a1a" textLength="20.04" lengthAdjust="spacingAndGlyphs">0.00</text>
<text x="533.60" y="728.40" font-size="9.50" text-anchor="middle" style="" fill="#1a1a1a" textLength="20.04" lengthAdjust="spacingAndGlyphs">0.04</text>
<text x="564.60" y="728.40" font-size="9.50" text-anchor="middle" style="" fill="#1a1a1a" textLength="20.04" lengthAdjust="spacingAndGlyphs">0.08</text>
<text x="595.60" y="728.40" font-size="9.50" text-anchor="middle" style="" fill="#1a1a1a" textLength="20.04" lengthAdjust="spacingAndGlyphs">0.12</text>
<text x="626.60" y="728.40" font-size="9.50" text-anchor="middle" style="" fill="#1a1a1a" textLength="20.04" lengthAdjust="spacingAndGlyphs">0.16</text>
<text x="502.95" y="743.2" font-size="9.45" fill="#1a1a1a" text-anchor="middle" textLength="151.9" lengthAdjust="spacingAndGlyphs">JJA Spec. Hum. [g kg<tspan font-size="6.3" dy="-3.2">−1</tspan><tspan dy="3.2"> decade</tspan><tspan font-size="6.3" dy="-3.2">−1</tspan><tspan dy="3.2">]</tspan></text>
<text x="0" y="0" font-size="24" font-weight="bold" fill="#000" transform="translate(27.6,17.4) scale(1.16,1)">a</text>
<text x="0" y="0" font-size="24" font-weight="bold" fill="#000" transform="translate(347.6,17.2) scale(1.16,1)">b</text>
<text x="0" y="0" font-size="24" font-weight="bold" fill="#000" transform="translate(86.9,248.6) scale(1.16,1)">c</text>
<text x="0" y="0" font-size="24" font-weight="bold" fill="#000" transform="translate(347.2,248.4) scale(1.16,1)">d</text>
<text x="0" y="0" font-size="24" font-weight="bold" fill="#000" transform="translate(86.9,479.6) scale(1.16,1)">e</text>
<text x="0" y="0" font-size="24" font-weight="bold" fill="#000" transform="translate(347.3,479.5) scale(1.16,1)">f</text>
<text x="182.00" y="239.00" font-size="9.63" text-anchor="middle" style="" fill="#1a1a1a" textLength="20.08" lengthAdjust="spacingAndGlyphs">year</text>
<text x="501.00" y="239.00" font-size="9.63" text-anchor="middle" style="" fill="#1a1a1a" textLength="20.08" lengthAdjust="spacingAndGlyphs">year</text>
<text x="0" y="0" font-size="24" font-weight="bold" fill="#000" text-anchor="middle" transform="translate(41.2,346.5) rotate(-90)">ERA5</text>
<text x="0" y="0" font-size="24" font-weight="bold" fill="#000" text-anchor="middle" textLength="93.3" lengthAdjust="spacingAndGlyphs" transform="translate(41.0,582.2) rotate(-90)">iCESM1</text>
<clipPath id="clipc"><circle cx="182.2" cy="350.5" r="89.2"/></clipPath>
<g clip-path="url(#clipc)">
<path fill="#6b2a0e" stroke="#6b2a0e" stroke-width="0.5" fill-rule="evenodd" d="M249.1,393.3 252.0,393.8 257.0,398.5 259.0,402.3 258.0,405.0 256.0,405.5 254.0,405.1 252.0,403.7 249.2,400.3 247.5,396.3 247.9,394.3 249.1,393.3Z"/>
<path fill="#a8441a" stroke="#a8441a" stroke-width="0.5" fill-rule="evenodd" d="M245.0,390.3 248.0,389.8 251.0,390.4 257.0,395.8 259.6,399.3 260.7,402.3 260.6,404.3 259.3,406.3 257.0,407.1 252.9,406.3 244.7,399.3 241.9,393.3 242.6,391.3 245.0,390.3ZM250.0,393.2 248.0,394.2 247.6,395.3 248.5,399.3 253.0,404.5 256.0,405.5 258.0,405.0 259.0,402.3 257.6,399.3 253.0,394.5 250.0,393.2Z"/>
<path fill="#d65c1c" stroke="#d65c1c" stroke-width="0.5" fill-rule="evenodd" d="M237.5,384.3 239.0,383.6 241.0,383.6 245.0,385.6 250.0,387.0 253.0,389.0 258.1,394.3 261.0,399.2 262.1,403.3 261.0,406.5 258.0,408.1 253.0,407.5 242.6,401.3 239.1,398.3 237.3,396.3 236.6,394.3 236.5,386.3 237.5,384.3ZM245.0,390.3 242.6,391.3 241.9,393.3 244.7,399.3 252.9,406.3 257.0,407.1 259.3,406.3 260.6,404.3 260.7,402.3 259.6,399.3 257.5,396.3 251.0,390.4 248.0,389.8 245.0,390.3Z"/>
<path fill="#ec8a30" stroke="#ec8a30" stroke-width="0.5" fill-rule="evenodd" d="M99.4,319.3 101.0,318.7 104.0,319.0 106.3,320.3 106.7,321.3 104.7,323.3 101.0,323.9 98.7,322.3 98.6,320.3 99.4,319.3ZM237.5,380.3 242.8,380.3 251.0,384.5 258.9,392.3 260.7,395.3 263.2,402.3 263.1,405.3 261.8,407.3 258.0,409.1 252.0,408.1 241.0,402.4 235.3,397.3 233.7,394.3 233.5,390.3 231.9,385.3 233.0,382.3 235.0,380.9 237.5,380.3ZM238.0,384.0 236.5,386.3 236.6,394.3 237.3,396.3 239.0,398.2 242.6,401.3 253.0,407.5 258.0,408.1 261.0,406.5 262.1,403.3 261.0,399.2 258.1,394.3 253.0,389.0 250.0,387.0 245.0,385.6 241.0,383.6 238.0,384.0Z"/>
<path fill="#f0b048" stroke="#f0b048" stroke-width="0.5" fill-rule="evenodd" d="M100.4,317.3 107.0,316.4 110.0,316.6 113.7,318.3 113.9,320.3 112.0,322.7 109.0,324.3 101.0,325.3 98.0,323.7 97.0,321.3 98.0,318.7 100.4,317.3ZM100.0,319.0 99.0,319.7 98.4,321.3 100.0,323.5 102.0,324.0 104.0,323.6 106.7,321.3 104.9,319.3 102.0,318.7 100.0,319.0ZM253.2,343.3 255.0,342.4 256.0,342.7 257.1,344.3 256.5,346.3 255.0,347.0 253.3,346.3 252.8,345.3 253.2,343.3ZM231.8,378.3 234.0,377.4 245.0,377.7 247.0,378.5 253.0,383.2 260.5,391.3 261.7,393.3 264.6,403.3 264.4,405.3 263.3,407.3 261.0,409.1 259.0,409.8 253.0,409.3 241.0,404.0 234.1,398.3 231.0,394.3 228.9,387.3 229.5,382.3 231.8,378.3ZM238.0,380.2 234.0,381.4 232.1,384.3 232.0,386.3 233.5,390.3 233.7,394.3 235.3,397.3 241.0,402.4 252.0,408.1 258.0,409.1 261.8,407.3 263.1,405.3 263.2,402.3 260.7,395.3 259.0,392.4 251.0,384.5 242.8,380.3 238.0,380.2Z"/>
<path fill="#f1b84e" stroke="#f1b84e" stroke-width="0.5" fill-rule="evenodd" d="M103.5,315.3 109.0,314.4 113.5,315.3 117.0,317.2 117.5,319.3 115.3,322.3 111.0,325.4 107.0,326.2 100.0,326.0 98.0,325.0 96.5,323.3 96.0,321.3 96.4,319.3 99.0,316.6 103.5,315.3ZM101.0,317.1 98.0,318.7 97.0,321.3 98.0,323.7 101.0,325.3 109.0,324.3 112.0,322.7 113.9,320.3 113.7,318.3 110.0,316.6 101.0,317.1ZM252.6,342.3 255.0,341.4 257.0,342.3 258.0,344.3 257.0,347.1 255.0,347.9 253.0,347.3 251.7,345.3 252.6,342.3ZM254.0,342.6 252.7,344.3 253.0,345.9 254.0,346.8 256.0,346.7 257.1,345.3 257.0,343.9 256.0,342.7 254.0,342.6ZM230.6,374.3 233.0,373.7 239.0,375.7 247.0,375.7 254.7,382.3 261.9,390.3 263.0,392.3 266.1,403.3 265.4,406.3 263.9,408.3 262.0,409.7 259.0,410.7 256.0,410.7 251.0,409.5 240.0,404.8 230.8,397.3 227.4,391.3 226.5,385.3 228.0,377.8 230.6,374.3ZM232.0,378.1 229.5,382.3 228.9,387.3 231.0,394.3 234.1,398.3 241.0,404.0 253.0,409.3 259.0,409.8 261.0,409.1 263.3,407.3 264.4,405.3 264.6,403.3 261.7,393.3 260.5,391.3 253.0,383.2 247.0,378.5 245.0,377.7 234.0,377.4 232.0,378.1Z"/>
<path fill="#f2da88" stroke="#f2da88" stroke-width="0.5" fill-rule="evenodd" d="M106.1,313.3 110.0,312.8 117.0,314.4 119.8,317.3 119.4,320.3 115.2,324.3 110.0,327.2 102.0,327.2 98.6,326.3 95.6,323.3 95.2,320.3 96.0,318.1 99.0,315.3 106.1,313.3ZM104.0,315.2 99.0,316.6 96.4,319.3 96.0,321.3 96.5,323.3 98.0,325.0 100.0,326.0 107.0,326.2 111.0,325.4 115.3,322.3 117.5,319.3 117.0,317.2 113.5,315.3 109.0,314.4 104.0,315.2ZM252.2,341.3 255.0,340.5 257.9,342.3 258.6,345.3 257.0,348.0 254.0,348.5 251.9,347.3 250.8,344.3 252.2,341.3ZM253.0,341.9 251.7,344.3 252.1,346.3 254.0,347.8 256.8,347.3 258.0,345.3 257.0,342.3 255.0,341.4 253.0,341.9ZM230.8,371.3 234.0,371.7 240.0,373.9 245.0,373.7 248.0,374.3 256.2,381.3 263.1,389.3 264.6,392.3 265.5,397.3 267.6,403.3 266.9,406.3 264.5,409.3 262.0,410.8 259.0,411.6 251.0,410.3 240.0,406.1 228.6,397.3 224.9,390.3 223.5,374.3 225.0,372.9 230.8,371.3ZM231.0,374.1 228.2,377.3 226.5,385.3 227.4,391.3 230.8,397.3 240.0,404.8 251.0,409.5 256.0,410.7 259.0,410.7 262.0,409.7 263.9,408.3 265.4,406.3 266.1,403.3 263.0,392.3 261.9,390.3 254.7,382.3 247.0,375.7 239.0,375.7 233.0,373.7 231.0,374.1Z"/>
<path fill="#f3f3b8" stroke="#f3f3b8" stroke-width="0.5" fill-rule="evenodd" d="M105.1,312.3 110.0,311.4 118.0,312.8 120.0,314.2 121.4,316.3 121.7,318.3 121.2,320.3 118.0,323.8 111.0,328.3 108.0,328.8 103.0,328.3 98.0,326.9 95.9,325.3 94.7,323.3 94.4,320.3 95.4,317.3 99.0,314.0 105.1,312.3ZM107.0,313.1 100.0,314.9 96.5,317.3 95.2,321.3 95.6,323.3 97.1,325.3 101.0,327.1 109.4,327.3 113.0,325.8 118.7,321.3 120.0,318.3 119.3,316.3 118.0,315.0 111.0,313.0 107.0,313.1ZM255.8,325.3 257.0,324.6 258.0,325.0 258.6,326.3 258.4,328.3 257.0,329.4 255.6,328.3 255.8,325.3ZM251.7,340.3 255.0,339.6 258.0,341.4 259.1,343.3 259.3,345.3 257.6,348.3 256.0,349.1 254.0,349.1 251.1,347.3 250.0,343.3 251.7,340.3ZM253.0,340.8 250.9,343.3 251.3,346.3 253.4,348.3 256.4,348.3 258.4,346.3 258.4,343.3 256.0,340.8 253.0,340.8ZM222.8,368.3 224.0,367.9 233.0,369.7 240.0,371.9 247.0,372.4 250.0,373.9 257.7,380.3 265.0,389.3 267.1,397.3 269.0,401.5 268.8,405.3 266.0,409.5 263.5,411.3 260.0,412.4 257.0,412.5 252.0,411.5 239.9,407.3 228.4,399.3 221.9,392.3 221.7,381.3 218.8,373.3 220.0,370.7 222.8,368.3ZM231.0,371.3 225.0,372.9 223.5,374.3 224.9,390.3 228.6,397.3 240.0,406.1 251.0,410.3 259.0,411.6 262.0,410.8 264.5,409.3 266.9,406.3 267.6,403.3 265.5,397.3 264.6,392.3 263.1,389.3 256.2,381.3 248.0,374.3 245.0,373.7 240.0,373.9 234.0,371.7 231.0,371.3Z"/>
<path fill="#ffffff" stroke="#ffffff" stroke-width="0.5" fill-rule="evenodd" d="M109.0,308.3 117.0,308.4 120.0,309.2 123.5,313.3 124.5,316.3 124.5,319.3 123.8,321.3 121.5,324.3 114.0,330.1 110.0,331.7 105.0,331.9 99.0,329.9 94.4,326.3 92.8,323.3 92.9,318.3 94.3,314.3 97.0,311.7 109.0,308.3ZM106.0,312.0 99.0,314.0 95.4,317.3 94.4,320.3 94.7,323.3 95.9,325.3 98.0,326.9 103.0,328.3 108.0,328.8 111.0,328.3 118.0,323.8 121.2,320.3 121.7,318.3 121.4,316.3 120.0,314.2 118.0,312.8 111.0,311.4 106.0,312.0ZM256.4,309.3 259.0,308.7 260.0,309.3 260.1,311.3 259.0,312.1 257.0,312.2 255.8,311.3 256.4,309.3ZM156.1,317.3 159.0,317.2 161.0,318.7 161.5,321.3 160.0,323.3 157.0,323.7 153.6,321.3 153.3,319.3 156.1,317.3ZM255.3,323.3 257.0,322.6 258.0,322.8 259.8,325.3 259.5,329.3 257.0,331.4 255.0,330.6 253.9,328.3 254.0,325.3 255.3,323.3ZM256.0,325.1 255.3,327.3 256.0,328.9 257.0,329.4 258.4,328.3 258.6,326.3 258.0,325.0 257.0,324.6 256.0,325.1ZM248.1,334.3 251.0,334.8 257.0,338.6 259.0,340.5 260.3,343.3 260.4,345.3 259.9,347.3 258.0,349.5 256.0,350.3 253.0,350.1 249.6,347.3 246.0,337.3 246.6,335.3 248.1,334.3ZM252.0,340.1 250.2,342.3 250.5,346.3 253.0,348.8 255.0,349.2 257.0,348.7 259.0,346.3 259.3,344.3 258.6,342.3 256.0,339.9 254.0,339.5 252.0,340.1ZM219.8,359.3 222.0,359.1 224.0,359.8 229.0,364.4 232.3,366.3 243.0,368.1 249.0,370.1 261.0,378.6 267.9,387.3 270.3,395.3 273.0,401.1 272.6,404.3 267.0,412.2 265.0,413.6 262.0,414.4 258.0,414.7 255.0,414.2 238.0,408.9 233.0,405.4 225.0,401.1 216.0,401.8 210.3,400.3 208.0,398.8 206.7,396.3 207.0,393.2 211.0,390.1 213.0,386.7 215.6,384.3 216.2,382.3 215.0,379.9 209.9,376.3 209.1,373.3 209.3,370.3 210.6,367.3 213.0,364.1 219.8,359.3ZM223.0,368.2 219.6,371.3 218.8,374.3 221.7,381.3 221.9,392.3 228.4,399.3 239.9,407.3 252.0,411.5 257.0,412.5 260.0,412.4 263.5,411.3 266.0,409.5 268.8,405.3 269.0,401.5 267.1,397.3 265.0,389.3 257.7,380.3 250.0,373.9 247.0,372.4 240.0,371.9 233.0,369.7 223.0,368.2ZM147.5,399.3 150.0,398.5 156.0,399.3 159.0,400.7 161.0,402.7 162.3,405.3 162.3,408.3 161.0,412.0 159.0,414.4 157.0,415.3 152.0,415.7 150.0,415.1 147.9,413.3 143.6,406.3 144.3,403.3 147.5,399.3Z"/>
<path fill="#ddf4d4" stroke="#ddf4d4" stroke-width="0.5" fill-rule="evenodd" d="M119.0,302.3 121.3,303.3 125.6,314.3 126.1,319.3 124.4,323.3 120.0,327.8 114.0,332.0 111.0,333.4 105.0,334.6 99.0,332.3 94.0,327.7 91.8,324.3 91.7,317.3 93.5,312.3 95.0,310.7 97.0,309.7 102.0,309.1 108.0,306.3 115.3,305.3 119.0,302.3ZM109.0,308.3 97.0,311.7 94.3,314.3 92.9,318.3 92.8,323.3 94.4,326.3 99.0,329.9 105.0,331.9 110.0,331.7 114.0,330.1 121.5,324.3 123.8,321.3 124.5,319.3 124.5,316.3 123.5,313.3 120.0,309.2 117.0,308.4 109.0,308.3ZM255.3,307.3 258.0,306.5 261.0,307.5 262.3,310.3 261.0,313.3 259.0,314.4 257.0,314.6 253.6,313.3 253.0,310.3 255.3,307.3ZM257.0,308.9 255.8,310.3 256.0,311.5 258.0,312.4 260.0,311.4 260.0,309.2 259.0,308.7 257.0,308.9ZM157.1,315.3 160.0,315.5 161.6,316.3 163.6,318.3 164.5,320.3 163.6,323.3 161.0,325.8 159.0,326.6 157.0,326.4 154.0,325.0 152.0,323.1 150.7,320.3 150.8,318.3 151.6,317.3 157.1,315.3ZM157.0,317.1 154.1,318.3 153.2,320.3 154.0,321.8 155.8,323.3 159.0,323.7 161.0,322.3 161.3,319.3 159.1,317.3 157.0,317.1ZM254.9,322.3 257.0,321.5 258.9,322.3 260.2,324.3 260.7,326.3 259.8,330.3 258.0,332.1 256.0,332.8 254.0,331.6 253.1,328.3 253.4,324.3 254.9,322.3ZM256.0,322.8 254.4,324.3 253.8,327.3 254.8,330.3 257.0,331.4 259.5,329.3 260.0,326.3 258.6,323.3 256.0,322.8ZM247.1,332.3 250.0,331.8 253.0,332.7 259.7,340.3 260.9,343.3 260.9,346.3 260.0,348.4 258.0,350.2 256.0,350.9 253.0,350.8 250.3,349.3 248.7,347.3 243.8,337.3 244.5,334.3 247.1,332.3ZM249.0,334.2 246.6,335.3 246.0,337.3 249.6,347.3 253.0,350.1 256.0,350.3 258.0,349.5 260.2,346.3 260.3,343.3 259.5,341.3 256.0,337.9 251.0,334.8 249.0,334.2ZM190.6,339.3 195.0,339.4 200.2,343.3 200.7,344.3 200.3,346.3 196.9,350.3 196.1,353.3 199.3,354.3 206.0,354.8 206.9,356.3 208.0,361.2 209.0,361.2 213.0,358.6 218.0,356.9 223.0,356.9 225.6,358.3 233.0,364.4 241.0,365.5 247.0,367.4 252.0,369.7 259.0,374.1 262.0,376.7 269.2,385.3 273.0,396.5 273.0,401.1 270.3,395.3 268.7,389.3 267.3,386.3 260.7,378.3 252.0,371.8 245.0,368.6 232.0,366.2 229.0,364.4 224.0,359.8 221.0,359.0 217.8,360.3 213.0,364.1 210.6,367.3 209.3,370.3 209.1,373.3 209.9,376.3 215.0,379.9 216.2,382.3 215.6,384.3 213.0,386.7 211.0,390.1 207.0,393.2 206.7,396.3 208.0,398.8 210.3,400.3 216.0,401.8 225.0,401.1 239.0,409.3 251.0,413.2 258.0,414.7 263.0,414.2 266.0,413.0 269.0,409.8 273.0,403.1 273.0,406.8 268.2,413.3 264.0,415.5 256.0,415.7 238.0,410.2 231.9,406.3 225.0,403.0 214.0,403.4 209.4,402.3 207.0,400.9 205.3,398.3 204.5,394.3 206.3,385.3 205.9,384.3 199.8,380.3 198.4,378.3 198.6,377.3 201.5,373.3 201.3,370.3 200.0,368.3 197.0,365.7 190.1,362.3 192.2,359.3 193.3,355.3 192.9,354.3 188.3,351.3 185.3,348.3 187.3,342.3 189.0,340.0 190.6,339.3ZM147.4,396.3 152.0,395.7 158.0,396.4 161.0,398.1 167.2,404.3 167.1,406.3 163.8,415.3 162.0,417.6 158.0,420.3 154.0,420.6 149.0,418.0 146.1,415.3 141.4,408.3 140.9,406.3 141.6,403.3 145.0,398.1 147.4,396.3ZM148.0,399.0 145.0,402.1 143.6,405.3 144.0,407.3 147.9,413.3 150.0,415.1 152.0,415.7 157.0,415.3 159.0,414.4 161.0,412.0 162.3,408.3 162.3,405.3 161.0,402.7 159.0,400.7 156.1,399.3 150.0,398.5 148.0,399.0Z"/>
<path fill="#c4eab8" stroke="#c4eab8" stroke-width="0.5" fill-rule="evenodd" d="M196.2,285.3 199.0,285.2 201.8,287.3 202.3,290.3 200.3,292.3 197.0,292.8 194.9,291.3 193.9,289.3 194.0,287.6 196.2,285.3ZM115.2,298.3 118.0,297.9 120.0,298.3 122.9,300.3 124.5,302.3 127.7,315.3 128.0,322.3 126.4,325.3 122.7,329.3 107.2,338.3 107.0,340.3 109.4,346.3 108.5,349.3 106.0,350.3 101.4,350.3 99.4,348.3 98.7,344.3 102.3,340.3 102.6,338.3 101.0,336.8 97.0,335.2 91.0,326.4 91.0,311.6 93.0,308.9 96.0,307.8 102.0,307.1 106.0,303.2 110.0,301.7 115.2,298.3ZM119.0,302.3 115.3,305.3 108.0,306.3 102.0,309.1 97.0,309.7 95.0,310.7 93.5,312.3 91.7,317.3 91.8,324.3 94.0,327.7 99.0,332.3 105.0,334.6 111.0,333.4 114.0,332.0 120.0,327.8 124.4,323.3 126.1,319.3 125.6,314.3 121.3,303.3 119.0,302.3ZM186.6,304.3 191.2,304.3 192.2,305.3 192.0,307.7 191.0,308.5 188.9,308.3 186.4,306.3 185.9,305.3 186.6,304.3ZM255.9,305.3 259.0,305.1 261.0,305.8 263.0,307.7 263.7,310.3 263.5,312.3 262.0,314.8 259.0,316.8 254.9,318.3 259.0,320.3 261.2,324.3 261.4,328.3 258.1,334.3 258.1,335.3 260.7,340.3 261.7,344.3 261.4,347.3 260.3,349.3 258.0,351.1 255.0,351.8 251.0,350.8 248.3,348.3 242.6,339.3 241.5,335.3 244.0,332.0 251.0,328.3 251.0,324.1 248.1,321.3 247.5,317.3 249.8,310.3 253.0,306.8 255.9,305.3ZM256.0,306.9 254.1,308.3 253.0,310.3 253.6,313.3 256.0,314.5 260.0,314.0 262.2,311.3 261.7,308.3 259.0,306.6 256.0,306.9ZM255.0,322.2 253.4,324.3 253.1,328.3 254.0,331.6 256.0,332.8 258.0,332.1 259.8,330.3 260.7,326.3 259.0,322.4 257.0,321.5 255.0,322.2ZM248.0,332.0 245.0,333.7 243.7,336.3 244.5,339.3 248.1,346.3 250.0,349.0 252.0,350.4 255.0,351.0 258.0,350.2 260.0,348.4 260.9,346.3 260.9,343.3 260.0,340.8 253.9,333.3 251.0,332.0 248.0,332.0ZM158.3,312.3 161.0,312.5 167.0,314.3 171.0,313.2 173.1,313.3 175.0,315.3 175.5,317.3 173.1,323.3 173.1,325.3 176.0,330.1 177.0,330.8 180.0,330.3 187.0,330.9 196.6,334.3 206.0,340.1 212.0,348.6 216.0,352.6 225.0,354.9 230.0,359.4 234.0,361.8 240.0,362.6 259.0,370.1 262.5,373.3 271.8,385.3 273.0,389.3 273.0,396.5 270.2,387.3 268.4,384.3 261.0,375.7 252.0,369.7 242.0,365.8 233.0,364.4 225.0,357.8 222.0,356.6 219.0,356.7 215.0,357.9 209.0,361.2 208.0,361.2 206.9,356.3 206.0,354.8 199.3,354.3 196.1,353.3 196.9,350.3 200.3,346.3 200.7,344.3 200.2,343.3 195.0,339.4 191.0,339.2 189.0,340.0 187.9,341.3 186.3,344.3 185.3,348.3 188.3,351.3 192.9,354.3 193.3,355.3 192.2,359.3 190.1,362.3 197.0,365.7 200.0,368.3 201.3,370.3 201.5,373.3 198.6,377.3 198.4,378.3 199.8,380.3 205.9,384.3 206.3,385.3 204.5,394.3 205.3,398.3 207.0,400.9 209.4,402.3 214.0,403.4 225.0,403.0 231.9,406.3 238.0,410.2 250.0,414.1 258.0,416.0 264.0,415.5 266.9,414.3 269.1,412.3 273.0,406.8 273.0,410.1 270.9,413.3 268.0,415.7 265.0,417.1 257.0,417.5 237.0,411.2 230.7,407.3 225.0,404.8 213.0,405.0 207.0,403.7 204.3,401.3 202.7,395.3 201.5,386.3 198.7,383.3 193.0,381.5 187.0,382.3 183.0,379.0 180.0,379.2 174.0,381.1 166.0,377.3 161.0,374.2 151.0,369.9 150.2,368.3 150.7,366.3 154.0,363.2 157.9,357.3 157.8,356.3 153.9,350.3 154.1,348.3 157.0,347.1 160.0,348.4 162.0,348.6 163.0,348.1 163.8,346.3 163.0,344.4 159.0,343.6 158.0,342.5 156.9,339.3 157.6,334.3 157.1,332.3 152.0,329.3 148.0,321.0 144.3,318.3 143.6,316.3 144.9,314.3 146.0,313.9 152.0,314.4 158.3,312.3ZM176.0,332.1 170.0,335.2 166.0,335.4 165.0,336.3 164.9,337.3 165.7,339.3 167.0,340.1 168.0,339.9 171.0,338.7 175.0,338.4 176.9,337.3 177.8,336.3 178.2,334.3 177.0,332.3 176.0,332.1ZM158.0,315.2 152.0,317.0 150.6,319.3 151.5,322.3 153.0,324.2 156.0,326.1 159.0,326.6 161.0,325.8 163.6,323.3 164.5,320.3 162.0,316.6 158.0,315.2ZM167.0,355.9 166.0,357.3 166.4,358.3 168.0,359.7 169.0,359.7 170.0,358.5 169.8,357.3 169.0,356.2 167.0,355.9ZM152.8,392.3 155.0,392.2 164.0,393.8 166.6,399.3 169.0,400.6 173.0,401.5 173.9,403.3 173.0,406.7 169.0,413.3 167.1,419.3 162.0,422.2 159.0,425.2 157.0,425.9 152.0,425.1 142.9,417.3 138.5,407.3 139.3,403.3 144.0,395.5 147.0,393.8 152.8,392.3ZM148.0,396.1 145.0,398.1 142.0,402.6 140.9,405.3 141.4,408.3 146.1,415.3 149.0,418.0 154.0,420.6 158.0,420.3 162.0,417.6 163.8,415.3 167.1,406.3 167.2,404.3 161.0,398.1 158.0,396.4 154.0,395.7 148.0,396.1ZM145.5,427.3 151.0,427.3 157.0,431.2 161.0,430.1 163.0,432.1 162.9,434.3 161.0,435.3 158.0,435.0 153.0,437.8 147.0,436.3 142.0,439.2 139.0,439.1 133.8,436.3 133.1,434.3 134.0,431.3 136.0,430.0 141.0,429.3 145.5,427.3Z"/>
<path fill="#9cd8b8" stroke="#9cd8b8" stroke-width="0.5" fill-rule="evenodd" d="M195.4,283.3 199.0,283.1 204.0,286.3 205.4,289.3 204.6,292.3 202.0,294.0 198.0,295.4 196.0,295.5 194.0,294.2 192.0,290.3 191.7,287.3 193.0,285.0 195.4,283.3ZM197.0,285.1 194.7,286.3 193.9,289.3 196.0,292.4 199.0,292.8 201.6,291.3 202.3,290.3 202.3,288.3 200.0,285.7 197.0,285.1ZM113.0,295.3 117.0,295.0 120.0,296.1 125.4,300.3 127.5,303.3 130.6,310.3 131.0,315.6 134.7,324.3 132.7,335.3 134.6,342.3 133.0,344.1 129.0,344.2 127.0,342.8 126.0,340.3 126.4,338.3 128.0,336.3 119.0,336.1 112.3,339.3 111.5,340.3 112.6,347.3 112.3,349.3 111.0,351.4 108.0,353.0 99.0,353.6 96.1,351.3 91.6,341.3 91.0,338.3 92.1,333.3 91.0,330.3 91.0,326.4 97.0,335.2 101.0,336.8 102.6,338.3 102.3,340.3 98.7,344.3 100.0,349.3 102.0,350.5 106.0,350.3 108.5,349.3 109.4,347.3 109.0,344.5 107.0,340.3 107.2,338.3 122.7,329.3 126.4,325.3 128.0,322.3 127.9,316.3 124.9,303.3 122.9,300.3 119.0,298.0 116.0,298.1 113.0,299.3 110.0,301.7 106.0,303.2 102.0,307.1 94.0,308.4 92.4,309.3 91.0,311.6 91.0,306.2 100.0,304.7 103.0,299.7 109.6,296.3 113.0,295.3ZM188.0,299.3 194.0,298.5 196.0,300.3 196.9,303.3 195.8,309.3 193.0,312.1 188.0,312.9 183.0,310.7 181.5,311.3 181.7,313.3 184.7,318.3 185.6,324.3 186.6,326.3 189.0,327.8 197.0,330.4 201.0,330.7 206.0,330.0 209.0,331.1 211.8,333.3 213.2,335.3 214.0,338.3 213.7,342.3 214.3,342.3 215.4,340.3 217.0,339.2 219.0,338.9 221.0,340.0 223.1,345.3 227.4,349.3 229.1,354.3 231.0,356.6 233.0,357.4 240.0,358.6 261.7,368.3 264.9,371.3 269.7,379.3 273.0,382.9 273.0,389.3 272.3,386.3 271.1,384.3 262.0,372.7 259.0,370.1 240.0,362.6 234.0,361.8 230.0,359.4 225.0,354.9 216.0,352.6 212.0,348.6 206.0,340.1 196.6,334.3 187.0,330.9 180.0,330.3 177.0,330.8 176.0,330.1 173.9,327.3 172.9,324.3 175.4,318.3 175.4,316.3 174.0,314.0 172.0,313.1 167.0,314.3 159.0,312.2 152.0,314.4 146.0,313.9 143.9,315.3 144.0,318.0 148.0,321.0 152.0,329.3 157.1,332.3 157.6,334.3 156.9,339.3 158.0,342.5 159.0,343.6 163.0,344.4 163.8,346.3 163.0,348.1 162.0,348.6 160.0,348.4 157.0,347.1 154.1,348.3 153.9,350.3 157.8,356.3 157.9,357.3 154.0,363.2 150.7,366.3 150.5,369.3 152.0,370.6 161.0,374.2 166.0,377.3 174.0,381.1 180.0,379.2 183.0,379.0 187.0,382.3 193.0,381.5 198.7,383.3 201.5,386.3 202.7,395.3 204.3,401.3 207.0,403.7 213.0,405.0 225.0,404.8 230.7,407.3 237.0,411.2 257.0,417.5 264.0,417.3 267.0,416.3 270.9,413.3 273.0,410.1 273.0,415.2 265.0,419.8 253.0,419.2 251.0,418.8 245.0,415.3 236.0,412.1 225.0,407.0 221.0,406.5 212.0,406.8 205.0,406.0 203.0,405.0 201.7,403.3 200.9,397.3 200.0,394.7 198.0,391.9 197.0,391.6 193.0,393.8 190.0,392.7 187.0,392.4 182.2,387.3 181.0,386.7 179.0,387.8 178.0,390.3 178.4,392.3 181.9,395.3 182.4,397.3 178.0,406.0 178.7,412.3 176.1,416.3 175.8,420.3 171.7,424.3 170.8,426.3 171.4,428.3 174.5,432.3 174.0,433.9 169.0,435.7 165.0,438.8 159.0,439.6 155.2,441.3 150.1,441.3 147.0,440.4 144.3,441.3 136.2,441.3 131.0,438.8 129.9,437.3 129.6,435.3 130.6,429.3 134.5,426.3 135.7,424.3 134.7,420.3 136.2,413.3 134.2,407.3 134.7,404.3 138.1,400.3 140.4,393.3 142.0,391.6 148.0,390.0 154.0,387.3 161.0,388.4 162.7,387.3 163.0,386.3 162.6,383.3 161.8,382.3 158.0,379.9 154.0,375.7 148.0,372.8 145.0,367.3 141.0,362.3 140.4,354.3 144.5,351.3 146.9,345.3 151.0,341.7 151.8,339.3 151.0,336.5 148.0,334.1 147.1,327.3 146.2,325.3 140.0,321.3 139.1,318.3 139.6,315.3 142.0,311.3 144.0,310.1 150.0,310.5 158.0,307.7 168.0,306.3 174.0,306.3 179.0,301.8 184.0,299.9 188.0,299.3ZM174.0,393.2 172.0,394.0 171.0,395.4 173.4,395.3 174.6,394.3 174.0,393.2ZM193.0,387.3 191.1,389.3 191.0,390.8 193.0,390.6 195.2,389.3 195.0,387.5 193.0,387.3ZM153.0,392.2 147.0,393.8 144.0,395.5 139.3,403.3 138.5,407.3 142.9,417.3 152.0,425.1 157.0,425.9 159.0,425.2 162.0,422.2 167.1,419.3 169.0,413.3 173.0,406.7 173.9,403.3 173.0,401.5 169.0,400.6 166.6,399.3 164.0,393.8 153.0,392.2ZM187.0,304.1 185.9,305.3 188.0,307.7 190.0,308.6 192.0,307.7 192.0,304.8 191.0,304.2 187.0,304.1ZM146.0,427.1 141.0,429.3 136.0,430.0 134.0,431.3 133.1,434.3 133.8,436.3 139.0,439.1 142.0,439.2 147.0,436.3 153.0,437.8 158.0,435.0 161.0,435.3 162.9,434.3 163.0,432.1 161.0,430.1 157.0,431.2 151.0,427.3 146.0,427.1ZM251.1,304.3 257.0,303.4 261.0,304.0 264.1,306.3 265.4,310.3 265.6,316.3 264.0,319.3 263.0,328.3 260.7,334.3 262.5,342.3 262.4,347.3 261.7,349.3 260.0,351.1 256.0,352.7 253.0,352.6 249.0,350.8 240.0,339.4 234.4,336.3 233.6,335.3 234.5,333.3 242.4,329.3 244.2,327.3 243.8,325.3 242.0,323.0 236.4,322.3 234.6,321.3 234.6,319.3 238.9,311.3 243.0,308.9 246.0,305.5 251.1,304.3ZM256.0,305.3 253.6,306.3 250.5,309.3 249.3,311.3 247.5,317.3 248.1,321.3 251.0,324.1 251.0,328.3 244.0,332.0 241.5,335.3 242.6,339.3 248.3,348.3 251.0,350.8 255.0,351.8 258.0,351.1 260.3,349.3 261.4,347.3 261.7,344.3 260.7,340.3 258.1,335.3 258.1,334.3 261.4,328.3 261.2,324.3 259.0,320.3 254.9,318.3 259.0,316.8 262.0,314.8 263.5,312.3 263.7,310.3 263.0,307.7 261.0,305.8 259.0,305.1 256.0,305.3ZM175.5,332.3 177.0,332.3 178.2,334.3 177.8,336.3 176.9,337.3 175.0,338.4 171.0,338.7 168.0,339.9 167.0,340.1 165.7,339.3 164.9,337.3 165.0,336.3 166.0,335.4 170.0,335.2 175.5,332.3ZM166.5,356.3 168.0,355.8 169.0,356.2 170.0,358.3 169.5,359.3 168.0,359.7 167.0,359.1 166.0,357.3 166.5,356.3ZM185.9,405.3 187.1,405.3 188.6,407.3 188.5,410.3 187.0,412.4 186.0,412.5 185.0,411.3 185.0,407.3 185.9,405.3Z"/>
<path fill="#74cac8" stroke="#74cac8" stroke-width="0.5" fill-rule="evenodd" d="M115.9,259.3 119.1,259.3 118.0,262.1 116.5,261.3 115.9,259.3ZM129.3,259.3 137.0,259.3 136.0,262.3 134.0,263.2 131.3,262.3 129.3,259.3ZM225.8,259.3 233.6,259.3 231.0,261.5 229.0,261.1 225.8,259.3ZM240.0,259.3 248.9,259.3 245.2,261.3 242.0,262.0 240.9,261.3 240.0,259.3ZM103.6,269.3 106.0,269.0 108.0,270.0 108.8,271.3 108.4,273.3 107.0,274.0 105.0,272.9 103.1,270.3 103.6,269.3ZM194.6,280.3 198.0,279.7 206.0,284.8 208.2,287.3 210.6,292.3 210.5,296.3 207.0,300.2 205.0,300.9 204.0,300.3 204.7,298.3 204.0,297.8 202.5,298.3 203.0,300.2 203.8,300.3 200.9,305.3 201.0,308.8 202.0,309.0 205.0,307.5 211.0,308.3 216.0,306.7 221.0,306.8 223.0,305.5 224.8,301.3 228.0,300.7 229.7,302.3 230.3,304.3 228.2,313.3 228.7,316.3 230.0,317.3 232.0,316.6 234.0,314.4 235.1,307.3 239.0,301.3 241.6,299.3 251.0,294.5 254.0,294.6 258.0,296.4 265.0,294.4 266.9,295.3 266.9,301.3 269.0,309.9 269.9,311.3 273.0,313.5 273.0,320.4 272.3,322.3 273.0,323.5 273.0,333.4 270.0,333.8 267.0,333.2 264.7,334.3 264.1,336.3 264.7,341.3 264.3,347.3 265.1,349.3 271.0,354.1 273.0,354.8 273.0,369.2 270.6,370.3 269.7,372.3 271.0,375.9 273.0,379.2 273.0,382.9 269.7,379.3 264.9,371.3 261.0,367.8 240.0,358.6 233.0,357.4 230.6,356.3 229.1,354.3 227.4,349.3 223.1,345.3 221.0,340.0 219.0,338.9 217.0,339.2 215.4,340.3 214.3,342.3 213.7,342.3 213.6,336.3 212.0,333.5 210.0,331.8 206.0,330.0 201.0,330.7 197.0,330.4 189.0,327.8 186.6,326.3 185.6,324.3 184.7,318.3 181.7,313.3 181.5,311.3 183.0,310.7 187.0,312.7 190.0,312.9 193.0,312.1 195.0,310.5 196.4,307.3 196.8,302.3 196.0,300.3 194.0,298.5 182.7,300.3 178.2,302.3 175.7,305.3 174.0,306.3 168.0,306.3 158.0,307.7 150.0,310.5 144.0,310.1 142.0,311.3 139.6,315.3 139.3,319.3 140.8,322.3 145.0,324.1 146.2,325.3 147.1,327.3 148.0,334.1 151.0,336.5 151.8,339.3 151.0,341.7 146.9,345.3 144.5,351.3 140.4,354.3 141.0,362.3 145.0,367.3 148.5,373.3 154.0,375.7 158.0,379.9 162.0,382.5 162.8,384.3 162.7,387.3 160.0,388.5 154.0,387.3 148.0,390.0 142.0,391.6 140.4,393.3 138.1,400.3 134.7,404.3 134.2,407.3 136.2,413.3 134.7,420.3 135.7,424.3 134.5,426.3 130.6,429.3 129.6,435.3 129.9,437.3 131.0,438.8 136.2,441.3 110.8,441.3 110.0,440.0 108.0,438.9 101.0,441.2 100.0,441.0 96.0,435.2 91.0,434.9 91.0,424.4 92.1,423.3 92.1,422.3 94.0,421.3 98.0,423.6 100.0,424.0 105.0,423.2 107.0,421.9 113.0,414.3 118.0,409.4 120.9,403.3 126.0,395.9 132.0,390.9 136.2,386.3 136.7,384.3 134.3,380.3 135.4,376.3 137.0,374.9 141.0,374.8 142.0,374.1 142.8,372.3 141.7,369.3 137.7,366.3 136.1,364.3 133.0,357.1 132.0,356.2 124.0,360.8 122.0,361.3 120.3,360.3 121.1,352.3 123.8,348.3 123.6,346.3 122.0,345.1 118.6,346.3 115.3,352.3 110.0,356.8 103.0,356.0 91.0,361.1 91.0,330.3 92.1,333.3 91.1,337.3 91.3,340.3 96.1,351.3 99.0,353.6 107.0,353.1 110.0,352.2 112.3,349.3 112.5,346.3 111.4,341.3 112.0,339.6 119.0,336.1 128.0,336.3 126.0,339.3 126.2,341.3 127.4,343.3 129.0,344.2 131.0,344.4 134.2,343.3 134.6,341.3 132.7,335.3 134.8,325.3 131.0,315.6 130.6,310.3 127.5,303.3 125.4,300.3 120.0,296.1 116.0,294.9 110.0,296.2 103.0,299.7 100.0,304.7 91.0,306.2 91.0,298.6 105.4,292.3 106.2,291.3 104.7,287.3 107.1,284.3 109.0,283.7 114.0,284.4 119.0,281.8 121.0,282.4 122.9,284.3 122.9,285.3 120.1,290.3 120.8,293.3 123.4,296.3 133.0,303.7 137.0,304.9 138.2,304.3 141.0,300.6 143.0,300.1 148.0,300.4 153.0,304.3 157.0,304.4 160.0,302.7 162.0,299.2 164.0,297.4 166.0,297.1 171.0,298.8 175.0,296.5 181.0,297.0 188.3,295.3 189.5,294.3 190.0,292.3 187.8,286.3 188.2,285.3 194.6,280.3ZM196.0,283.0 193.0,285.0 191.7,287.3 192.0,290.3 194.0,294.2 195.0,295.1 197.0,295.6 200.0,294.8 204.0,292.8 205.4,290.3 205.2,288.3 204.0,286.3 200.0,283.4 196.0,283.0ZM229.0,341.7 229.0,343.3 229.9,344.3 231.0,344.8 231.8,344.3 231.0,341.9 230.0,341.4 229.0,341.7ZM252.0,304.0 246.0,305.5 243.0,308.9 238.9,311.3 234.6,319.3 234.6,321.3 236.4,322.3 242.0,323.0 243.8,325.3 244.2,327.3 242.4,329.3 234.5,333.3 233.6,335.3 234.4,336.3 240.0,339.4 249.0,350.8 251.0,352.0 255.0,352.8 260.0,351.1 262.1,348.3 262.6,343.3 260.7,334.3 263.0,328.3 264.0,319.3 265.8,315.3 265.1,308.3 263.0,305.2 259.0,303.5 252.0,304.0ZM141.0,330.3 138.9,331.3 138.5,332.3 139.0,333.5 140.8,333.3 142.2,332.3 142.5,331.3 142.0,330.4 141.0,330.3ZM116.0,417.1 114.0,418.3 113.7,419.3 114.6,422.3 116.0,423.2 118.0,421.8 119.0,419.3 118.0,417.5 116.0,417.1ZM198.0,313.0 190.0,316.5 189.2,318.3 190.0,320.3 192.0,321.1 196.0,320.7 199.0,322.1 200.0,322.1 201.0,321.3 201.8,318.3 201.2,315.3 200.0,313.0 198.0,313.0ZM234.0,346.2 233.0,346.4 232.6,347.3 233.1,352.3 236.0,354.1 238.0,354.2 240.1,353.3 241.9,349.3 241.2,346.3 239.0,345.5 234.0,346.2ZM251.0,354.3 249.2,355.3 249.6,357.3 250.6,358.3 258.9,363.3 262.0,364.4 264.1,364.3 264.7,362.3 264.0,360.3 260.0,355.2 258.0,354.4 251.0,354.3ZM91.0,289.3 92.2,290.3 92.7,292.3 92.1,294.3 91.0,295.0 91.0,289.3ZM213.9,298.3 217.1,299.3 216.9,300.3 214.4,300.3 213.6,299.3 213.9,298.3ZM110.1,359.3 112.0,358.6 115.0,359.9 116.5,361.3 116.2,363.3 113.0,365.6 109.9,365.3 108.6,363.3 110.1,359.3ZM91.0,382.3 91.0,381.6 91.4,382.3 91.8,384.3 91.0,386.0 91.0,382.3ZM179.5,387.3 181.0,386.7 182.0,387.1 186.0,391.8 192.0,393.7 194.0,393.6 197.0,391.6 198.0,391.9 200.0,394.7 200.9,397.3 201.7,403.3 203.0,405.0 205.0,406.0 212.0,406.8 221.0,406.5 225.0,407.0 236.0,412.1 245.0,415.3 251.0,418.8 253.0,419.2 265.0,419.8 273.0,415.2 273.0,430.2 269.0,429.7 265.0,426.3 259.0,423.3 256.0,423.1 252.0,425.0 249.0,424.2 246.7,422.3 244.0,417.8 234.0,412.6 229.0,411.0 225.0,410.7 219.0,408.7 209.0,409.2 205.3,410.3 200.0,413.7 198.0,414.1 195.0,413.2 193.0,414.0 187.7,419.3 188.2,423.3 187.8,425.3 183.3,428.3 179.4,436.3 176.0,440.0 172.0,440.4 170.2,441.3 155.2,441.3 159.0,439.6 165.0,438.8 169.0,435.7 173.0,434.6 174.4,433.3 174.0,431.3 171.4,428.3 170.8,426.3 171.7,424.3 175.8,420.3 176.1,416.3 178.7,412.3 177.9,407.3 178.2,405.3 181.3,400.3 182.4,397.3 181.9,395.3 178.4,392.3 178.1,391.3 178.2,389.3 179.5,387.3ZM186.0,405.2 185.0,407.2 185.0,411.3 186.0,412.5 187.0,412.4 188.1,411.3 188.7,408.3 188.0,406.0 186.0,405.2ZM178.0,425.7 177.2,426.3 178.0,427.4 180.6,427.3 180.0,426.2 178.0,425.7ZM193.0,387.3 195.0,387.5 195.2,389.3 193.0,390.6 191.0,390.8 191.1,389.3 193.0,387.3ZM173.6,393.3 174.3,393.3 174.6,394.3 173.4,395.3 171.0,395.4 171.6,394.3 173.6,393.3ZM91.0,395.3 91.4,396.3 91.0,396.8 91.0,395.3ZM256.0,429.3 259.0,428.5 260.2,429.3 260.4,430.3 260.0,431.3 259.0,431.8 257.0,431.7 255.6,430.3 256.0,429.3ZM245.6,437.3 247.0,436.4 248.0,436.4 248.6,437.3 248.1,441.3 243.9,441.3 245.6,437.3ZM264.6,437.3 265.0,436.7 269.0,437.6 273.0,437.6 273.0,441.3 265.7,441.3 264.6,437.3ZM144.3,441.3 147.0,440.4 150.1,441.3 144.3,441.3Z"/>
<path fill="#72c4c8" stroke="#72c4c8" stroke-width="0.5" fill-rule="evenodd" d="M91.0,259.3 115.9,259.3 116.5,261.3 118.0,262.1 119.1,259.3 129.3,259.3 131.3,262.3 134.0,263.2 136.0,262.3 137.0,259.3 154.9,259.3 153.0,260.5 147.0,261.8 145.0,265.3 140.0,264.9 134.0,268.2 128.0,265.4 126.0,265.4 124.6,266.3 124.2,268.3 128.2,273.3 129.8,278.3 132.8,284.3 131.9,291.3 133.3,294.3 135.0,295.8 137.0,295.9 139.0,294.8 142.0,290.3 144.0,291.0 147.0,293.5 156.0,297.5 158.0,296.9 162.0,293.6 169.0,293.6 174.0,290.7 179.0,292.4 182.0,292.3 182.9,291.3 182.8,290.3 181.1,283.3 179.2,279.3 179.1,278.3 180.2,276.3 183.0,275.1 192.0,276.3 199.0,275.4 201.0,275.9 204.2,279.3 209.0,282.1 211.0,284.5 215.8,288.3 219.0,292.2 222.0,290.2 225.0,290.2 231.0,296.2 234.0,297.9 236.0,297.7 245.0,294.0 252.1,289.3 252.8,288.3 252.7,286.3 250.0,281.0 245.4,277.3 242.0,272.2 236.0,267.8 230.0,265.5 218.5,259.3 225.8,259.3 229.0,261.1 231.0,261.5 233.6,259.3 240.0,259.3 240.9,261.3 242.0,262.0 245.2,261.3 248.9,259.3 273.0,259.3 273.0,280.0 271.0,278.9 266.0,274.5 262.0,272.4 260.9,273.3 260.3,279.3 261.2,281.3 266.0,282.6 269.0,282.6 273.0,281.5 273.0,313.5 269.2,310.3 266.9,301.3 267.0,295.6 266.0,294.5 265.0,294.4 259.0,296.4 254.0,294.6 251.0,294.5 241.0,299.6 239.0,301.3 235.6,306.3 234.8,308.3 234.1,314.3 231.0,317.0 229.0,316.9 228.4,315.3 228.4,311.3 230.3,304.3 229.7,302.3 228.0,300.7 224.8,301.3 223.0,305.5 221.0,306.8 216.0,306.7 211.0,308.3 205.0,307.5 202.0,309.0 201.0,308.8 200.9,305.3 203.8,300.3 203.0,300.2 202.5,298.3 204.0,297.8 204.7,298.3 204.0,300.3 205.0,300.9 206.8,300.3 210.5,296.3 210.8,293.3 208.8,288.3 206.6,285.3 199.0,280.1 197.0,279.6 194.0,280.7 188.2,285.3 187.8,286.3 190.0,292.3 189.5,294.3 188.3,295.3 181.0,297.0 175.0,296.5 171.0,298.8 166.0,297.1 164.0,297.4 162.0,299.2 160.0,302.7 157.0,304.4 153.0,304.3 148.0,300.4 143.0,300.1 141.0,300.6 138.2,304.3 137.0,304.9 133.0,303.7 123.4,296.3 120.8,293.3 120.1,290.3 122.9,285.3 122.9,284.3 121.0,282.4 119.0,281.8 114.0,284.4 109.0,283.7 107.1,284.3 104.7,287.3 106.2,291.3 105.4,292.3 91.0,298.6 91.0,295.0 92.1,294.3 92.7,292.3 92.2,290.3 91.0,289.1 91.0,259.3ZM104.0,269.2 103.1,270.3 105.0,272.9 107.0,274.0 108.4,273.3 108.8,271.3 108.0,270.0 106.0,269.0 104.0,269.2ZM214.0,298.3 213.6,299.3 214.4,300.3 216.9,300.3 217.1,299.3 214.0,298.3ZM172.2,259.3 176.0,259.3 172.2,259.3ZM186.7,259.3 198.2,259.3 195.4,265.3 194.0,266.8 192.0,267.6 190.0,267.0 188.1,265.3 186.7,259.3ZM197.6,313.3 199.0,312.7 200.0,313.0 201.0,314.8 201.8,318.3 201.0,321.3 200.0,322.1 199.0,322.1 196.0,320.7 192.0,321.1 190.0,320.3 189.2,318.3 190.0,316.5 197.6,313.3ZM272.4,321.3 273.0,320.4 273.0,323.5 272.4,321.3ZM140.9,330.3 142.0,330.4 142.5,331.3 142.2,332.3 140.8,333.3 139.0,333.5 138.5,332.3 138.9,331.3 140.9,330.3ZM266.0,333.3 270.0,333.8 273.0,333.4 273.0,354.8 270.0,353.4 264.5,348.3 264.7,341.3 264.1,336.3 264.7,334.3 266.0,333.3ZM228.8,342.3 230.0,341.4 231.0,341.9 231.8,344.3 231.0,344.8 230.0,344.4 228.8,342.3ZM120.4,345.3 122.5,345.3 123.9,347.3 123.3,349.3 121.1,352.3 120.3,360.3 122.0,361.3 124.0,360.8 132.0,356.2 133.0,357.1 136.8,365.3 142.0,369.7 142.7,371.3 142.5,373.3 141.0,374.8 137.0,374.9 135.4,376.3 134.3,380.3 136.7,384.3 136.2,386.3 132.0,390.9 126.0,395.9 120.9,403.3 118.0,409.4 113.0,414.3 107.0,421.9 105.0,423.2 100.0,424.0 98.0,423.6 95.0,421.6 93.0,421.5 91.0,424.4 91.0,396.8 91.4,396.3 91.0,386.0 91.8,384.3 91.0,381.6 91.0,361.1 103.0,356.0 110.0,356.8 111.0,356.3 116.0,351.3 118.0,346.9 120.4,345.3ZM127.0,364.1 120.5,366.3 115.0,369.9 109.0,370.5 103.0,374.8 98.0,373.7 95.5,374.3 94.9,376.3 96.1,379.3 98.0,380.8 106.0,384.3 105.3,386.3 98.7,392.3 97.3,398.3 94.8,402.3 94.6,403.3 96.0,405.2 107.0,408.7 114.0,407.1 116.3,405.3 120.1,399.3 125.0,389.3 124.0,387.3 119.0,386.1 117.9,385.3 129.1,377.3 130.4,375.3 131.0,371.1 132.4,368.3 132.4,366.3 131.0,364.6 129.0,363.9 127.0,364.1ZM111.0,358.6 109.0,361.1 108.9,364.3 111.0,365.6 114.0,365.3 116.2,363.3 116.5,361.3 114.0,359.3 111.0,358.6ZM233.5,346.3 239.0,345.5 241.0,346.1 241.7,347.3 241.9,349.3 240.1,353.3 237.0,354.2 234.0,353.3 232.7,351.3 232.5,349.3 232.6,347.3 233.5,346.3ZM250.9,354.3 258.0,354.4 260.0,355.2 264.0,360.3 264.7,362.3 264.1,364.3 262.0,364.4 258.9,363.3 250.6,358.3 249.6,357.3 249.2,355.3 250.9,354.3ZM272.7,369.3 273.0,379.2 271.0,375.9 269.7,372.3 270.6,370.3 272.7,369.3ZM208.6,409.3 219.0,408.7 225.0,410.7 230.0,411.3 236.0,413.3 243.3,417.3 245.0,418.9 247.0,422.6 250.0,424.6 252.0,425.0 256.0,423.1 259.1,423.3 265.0,426.3 269.0,429.7 273.0,430.2 273.0,437.6 269.0,437.6 265.0,436.7 264.6,437.3 265.7,441.3 248.1,441.3 248.6,437.3 248.0,436.4 247.0,436.4 245.0,438.0 243.9,441.3 170.2,441.3 172.0,440.4 176.0,440.0 178.0,438.3 181.7,432.3 183.3,428.3 187.8,425.3 188.2,423.3 187.7,419.3 193.0,414.0 195.0,413.2 198.0,414.1 200.0,413.7 205.3,410.3 208.6,409.3ZM215.0,412.1 211.0,414.3 209.0,417.3 200.0,417.8 196.0,419.8 194.4,422.3 193.9,424.3 194.6,431.3 198.0,434.4 208.0,437.4 209.0,437.3 213.0,434.1 217.0,433.7 220.3,435.3 223.0,439.2 225.0,439.4 226.2,437.3 226.3,430.3 228.0,429.0 235.0,428.7 237.3,425.3 240.4,423.3 240.4,420.3 238.2,416.3 234.0,413.8 230.0,413.5 226.0,416.3 224.0,416.7 222.0,415.7 218.8,412.3 217.0,411.7 215.0,412.1ZM256.0,429.3 255.6,430.3 257.0,431.7 259.0,431.8 260.0,431.3 260.4,430.3 260.2,429.3 259.0,428.5 256.0,429.3ZM115.2,417.3 118.0,417.5 119.0,419.3 118.0,421.8 116.0,423.2 114.6,422.3 113.7,420.3 114.0,418.3 115.2,417.3ZM177.2,426.3 179.0,425.7 180.6,427.3 178.0,427.4 177.2,426.3ZM91.0,435.3 94.0,434.8 96.0,435.2 100.0,441.0 101.0,441.2 108.0,438.9 110.0,440.0 110.8,441.3 91.4,441.3 91.0,435.3Z"/>
<path fill="#4ba0c8" stroke="#4ba0c8" stroke-width="0.5" fill-rule="evenodd" d="M153.5,260.3 154.9,259.3 186.7,259.3 188.1,265.3 190.0,267.0 192.0,267.6 194.0,266.8 195.4,265.3 198.2,259.3 218.5,259.3 230.0,265.5 236.0,267.8 242.0,272.2 245.4,277.3 250.0,281.0 252.7,286.3 252.8,288.3 250.8,290.3 244.0,294.6 234.0,297.9 231.0,296.2 225.0,290.2 222.0,290.2 219.0,292.2 215.0,287.5 211.8,285.3 208.0,281.3 204.2,279.3 201.0,275.9 198.0,275.4 192.0,276.3 183.0,275.1 180.2,276.3 179.1,278.3 181.1,283.3 182.8,290.3 182.9,291.3 182.0,292.3 179.0,292.4 174.0,290.7 169.0,293.6 162.0,293.6 158.0,296.9 156.0,297.5 147.0,293.5 144.0,291.0 142.0,290.3 139.0,294.8 137.0,295.9 135.0,295.8 133.3,294.3 131.9,291.3 132.8,284.3 129.8,278.3 128.2,273.3 124.2,268.3 124.6,266.3 126.0,265.4 128.0,265.4 134.0,268.2 140.0,264.9 145.0,265.3 147.0,261.8 153.5,260.3ZM162.0,267.1 156.0,268.9 150.0,268.4 141.0,269.9 140.0,270.5 135.7,277.3 135.3,279.3 135.9,281.3 138.0,283.3 142.0,284.1 146.4,286.3 151.0,289.8 157.0,287.2 163.0,288.8 168.0,288.5 173.6,282.3 173.6,276.3 173.0,275.1 168.0,272.0 167.0,267.1 166.0,266.5 162.0,267.1ZM207.0,260.0 205.0,261.2 204.6,262.3 206.5,268.3 208.7,271.3 215.0,276.8 220.0,279.9 225.0,284.5 229.0,285.1 234.0,284.1 236.7,285.3 237.3,287.3 236.0,290.1 232.0,289.0 232.0,291.3 234.0,292.2 236.0,290.6 241.0,291.6 243.2,290.3 243.9,288.3 243.7,286.3 241.4,282.3 239.0,275.9 235.6,272.3 230.0,268.3 223.0,264.6 210.0,260.1 207.0,260.0ZM260.9,273.3 262.0,272.4 265.0,273.8 273.0,280.0 273.0,281.5 267.0,282.8 261.2,281.3 260.3,279.3 260.9,273.3ZM272.9,345.3 273.0,346.9 272.9,345.3ZM126.2,364.3 129.0,363.9 131.0,364.6 132.4,366.3 132.4,368.3 131.0,371.1 130.4,375.3 129.1,377.3 117.9,385.3 119.0,386.1 124.0,387.3 125.0,389.3 117.0,404.3 114.0,407.1 107.0,408.7 96.0,405.2 94.6,403.3 94.8,402.3 97.3,398.3 98.7,392.3 105.3,386.3 106.0,384.3 98.0,380.8 96.1,379.3 94.9,376.3 95.5,374.3 98.0,373.7 103.0,374.8 109.0,370.5 115.0,369.9 120.5,366.3 126.2,364.3ZM111.0,388.0 105.0,391.0 101.5,394.3 99.7,400.3 100.0,401.9 101.0,403.0 105.0,404.1 112.0,403.6 114.7,402.3 117.0,399.5 118.3,396.3 117.6,392.3 114.0,388.8 111.0,388.0ZM122.0,370.0 118.5,373.3 116.7,376.3 117.6,378.3 119.0,379.0 121.0,379.2 124.0,378.3 127.5,375.3 127.6,372.3 126.0,369.9 124.0,369.3 122.0,370.0ZM214.4,412.3 218.0,411.9 222.0,415.7 224.0,416.7 226.0,416.3 230.0,413.5 234.0,413.8 238.2,416.3 240.4,420.3 240.4,423.3 237.3,425.3 235.0,428.7 228.0,429.0 226.3,430.3 226.2,437.3 225.0,439.4 223.0,439.2 220.3,435.3 217.0,433.7 213.0,434.1 209.0,437.3 208.0,437.4 198.0,434.4 194.6,431.3 193.9,424.3 194.4,422.3 196.0,419.8 200.0,417.8 209.0,417.3 211.0,414.3 214.4,412.3ZM217.0,418.2 213.7,423.3 211.0,425.6 210.0,425.6 207.0,421.4 205.1,420.3 202.0,419.8 199.0,420.5 197.3,422.3 196.8,424.3 198.0,428.8 200.0,431.1 202.0,431.7 205.0,431.0 209.0,428.3 214.0,430.0 219.0,428.9 220.4,427.3 221.0,421.3 219.0,418.6 217.0,418.2ZM231.0,415.1 229.0,416.8 227.4,420.3 227.7,422.3 230.0,423.5 233.0,423.1 235.0,422.1 237.2,419.3 236.9,417.3 235.0,415.5 231.0,415.1ZM91.0,441.3 91.0,440.7 91.0,441.3Z"/>
<path fill="#3670b6" stroke="#3670b6" stroke-width="0.5" fill-rule="evenodd" d="M206.1,260.3 209.0,259.9 218.0,262.6 226.0,266.0 234.4,271.3 239.2,276.3 241.4,282.3 243.7,286.3 243.9,288.3 243.2,290.3 241.0,291.6 236.0,290.6 234.0,292.2 232.0,291.3 232.0,289.0 236.0,290.1 237.3,287.3 236.7,285.3 234.0,284.1 229.0,285.1 225.0,284.5 220.0,279.9 215.0,276.8 207.1,269.3 204.6,262.3 206.1,260.3ZM210.0,265.2 210.2,267.3 213.3,271.3 224.0,278.7 226.0,279.6 228.0,279.6 231.7,277.3 232.1,275.3 230.7,272.3 226.0,268.6 223.0,267.2 215.7,265.3 212.0,264.5 210.0,265.2ZM161.2,267.3 165.0,266.5 167.0,267.1 168.0,272.0 173.0,275.1 173.6,276.3 173.6,282.3 168.0,288.5 163.0,288.8 157.0,287.2 151.0,289.8 146.4,286.3 142.0,284.1 138.0,283.3 135.9,281.3 135.3,279.3 135.7,277.3 140.0,270.5 141.0,269.9 150.0,268.4 156.0,268.9 161.2,267.3ZM146.0,272.2 143.0,273.3 141.8,275.3 141.9,277.3 144.4,281.3 148.0,283.4 154.0,284.0 160.0,282.6 164.0,280.3 168.0,280.7 169.3,279.3 169.2,278.3 168.0,277.4 165.0,276.8 162.8,273.3 161.0,272.0 146.0,272.2ZM121.5,370.3 124.0,369.3 126.0,369.9 127.6,372.3 127.5,375.3 124.0,378.3 121.0,379.2 119.0,379.0 117.6,378.3 116.7,376.3 118.5,373.3 121.5,370.3ZM110.0,388.3 113.0,388.2 117.6,392.3 118.4,395.3 117.2,399.3 114.7,402.3 112.0,403.6 105.0,404.1 101.0,403.0 100.0,401.9 99.7,400.3 101.5,394.3 105.0,391.0 110.0,388.3ZM109.0,392.0 105.0,394.1 103.0,396.3 102.4,399.3 104.0,401.3 107.0,401.6 111.0,400.9 113.0,400.1 115.0,398.0 115.6,395.3 114.0,392.7 112.0,391.7 109.0,392.0ZM230.6,415.3 234.5,415.3 236.1,416.3 237.2,418.3 236.9,420.3 236.0,421.4 234.0,422.7 231.0,423.5 229.0,423.2 227.3,421.3 228.6,417.3 230.6,415.3ZM232.0,417.6 231.0,419.3 231.9,420.3 233.0,420.3 234.2,419.3 234.3,418.3 233.0,417.4 232.0,417.6ZM216.9,418.3 219.0,418.6 221.0,421.3 220.4,427.3 219.0,428.9 214.0,430.0 209.0,428.3 205.0,431.0 202.0,431.7 200.0,431.1 198.0,428.8 196.8,424.3 197.3,422.3 199.0,420.5 202.0,419.8 205.1,420.3 207.0,421.4 210.0,425.6 211.0,425.6 213.7,423.3 216.9,418.3ZM201.0,423.1 199.9,424.3 200.2,426.3 202.0,427.8 203.9,427.3 204.5,426.3 204.0,424.4 201.0,423.1Z"/>
<path fill="#24458c" stroke="#24458c" stroke-width="0.5" fill-rule="evenodd" d="M210.0,265.3 211.0,264.5 213.0,264.7 222.0,266.9 226.0,268.6 230.7,272.3 232.1,275.3 231.7,277.3 228.0,279.6 226.0,279.6 224.0,278.7 214.0,272.0 210.7,268.3 210.0,265.3ZM145.5,272.3 161.0,272.0 162.8,273.3 165.0,276.8 168.0,277.4 169.2,278.3 169.3,279.3 168.0,280.7 164.0,280.3 160.0,282.6 154.0,284.0 148.0,283.4 144.4,281.3 141.9,277.3 142.2,274.3 143.0,273.3 145.5,272.3ZM108.3,392.3 111.0,391.6 114.0,392.7 115.6,395.3 115.3,397.3 114.0,399.3 112.0,400.6 107.0,401.6 104.0,401.3 102.4,399.3 103.0,396.3 105.0,394.1 108.3,392.3ZM231.2,418.3 233.0,417.4 234.3,418.3 234.2,419.3 232.0,420.3 231.0,419.3 231.2,418.3ZM200.6,423.3 202.0,423.2 204.0,424.4 204.5,426.3 203.9,427.3 202.0,427.8 201.0,427.3 199.9,425.3 200.6,423.3Z"/>
<clipPath id="clipch"><path d="M93.00,298.00 L110.00,294.00 L128.00,304.00 L133.00,325.00 L126.00,346.00 L110.00,356.00 L93.00,352.00 ZM205.00,330.00 L215.00,300.00 L230.00,283.00 L250.00,284.00 L272.00,300.00 L272.00,395.00 L258.00,412.00 L240.00,412.00 L222.00,405.00 L205.00,398.00 L200.00,375.00 L205.00,355.00 ZM160.00,318.00 L180.00,312.00 L200.00,318.00 L205.00,335.00 L190.00,345.00 L168.00,340.00 ZM135.00,388.00 L150.00,380.00 L175.00,382.00 L185.00,395.00 L185.00,425.00 L170.00,437.00 L140.00,435.00 L130.00,420.00 Z"/></clipPath>
<g clip-path="url(#clipch)"><path d="M-93.9,439.7 L84.5,261.3 M-77.9,439.7 L100.5,261.3 M-61.9,439.7 L116.5,261.3 M-45.9,439.7 L132.5,261.3 M-29.9,439.7 L148.5,261.3 M-13.9,439.7 L164.5,261.3 M2.1,439.7 L180.5,261.3 M18.1,439.7 L196.5,261.3 M34.1,439.7 L212.5,261.3 M50.1,439.7 L228.5,261.3 M66.1,439.7 L244.5,261.3 M82.1,439.7 L260.5,261.3 M98.1,439.7 L276.5,261.3 M114.1,439.7 L292.5,261.3 M130.1,439.7 L308.5,261.3 M146.1,439.7 L324.5,261.3 M162.1,439.7 L340.5,261.3 M178.1,439.7 L356.5,261.3 M194.1,439.7 L372.5,261.3 M210.1,439.7 L388.5,261.3 M226.1,439.7 L404.5,261.3 M242.1,439.7 L420.5,261.3 M258.1,439.7 L436.5,261.3" fill="none" stroke="#aaa4bb" stroke-width="1.0"/></g>
<circle cx="182.2" cy="350.5" r="69.62" fill="none" stroke="#8c8c8c" stroke-width="0.6" stroke-dasharray="1.2,1.8"/>
<circle cx="182.2" cy="350.5" r="51.26" fill="none" stroke="#8c8c8c" stroke-width="0.6" stroke-dasharray="1.2,1.8"/>
<circle cx="182.2" cy="350.5" r="16.74" fill="none" stroke="#8c8c8c" stroke-width="0.6" stroke-dasharray="1.2,1.8"/>
<line x1="182.2" y1="350.5" x2="182.20" y2="439.70" stroke="#8c8c8c" stroke-width="0.6" stroke-dasharray="1.2,1.8"/>
<line x1="182.2" y1="350.5" x2="226.80" y2="427.75" stroke="#8c8c8c" stroke-width="0.6" stroke-dasharray="1.2,1.8"/>
<line x1="182.2" y1="350.5" x2="259.45" y2="395.10" stroke="#8c8c8c" stroke-width="0.6" stroke-dasharray="1.2,1.8"/>
<line x1="182.2" y1="350.5" x2="271.40" y2="350.50" stroke="#8c8c8c" stroke-width="0.6" stroke-dasharray="1.2,1.8"/>
<line x1="182.2" y1="350.5" x2="259.45" y2="305.90" stroke="#8c8c8c" stroke-width="0.6" stroke-dasharray="1.2,1.8"/>
<line x1="182.2" y1="350.5" x2="226.80" y2="273.25" stroke="#8c8c8c" stroke-width="0.6" stroke-dasharray="1.2,1.8"/>
<line x1="182.2" y1="350.5" x2="182.20" y2="261.30" stroke="#8c8c8c" stroke-width="0.6" stroke-dasharray="1.2,1.8"/>
<line x1="182.2" y1="350.5" x2="137.60" y2="273.25" stroke="#8c8c8c" stroke-width="0.6" stroke-dasharray="1.2,1.8"/>
<line x1="182.2" y1="350.5" x2="104.95" y2="305.90" stroke="#8c8c8c" stroke-width="0.6" stroke-dasharray="1.2,1.8"/>
<line x1="182.2" y1="350.5" x2="93.00" y2="350.50" stroke="#8c8c8c" stroke-width="0.6" stroke-dasharray="1.2,1.8"/>
<line x1="182.2" y1="350.5" x2="104.95" y2="395.10" stroke="#8c8c8c" stroke-width="0.6" stroke-dasharray="1.2,1.8"/>
<line x1="182.2" y1="350.5" x2="137.60" y2="427.75" stroke="#8c8c8c" stroke-width="0.6" stroke-dasharray="1.2,1.8"/>
<circle cx="182.2" cy="350.5" r="33.73" fill="none" stroke="#9c8fd6" stroke-width="0.8"/>
<path d="M108.4,300.4 110.0,301.6 111.6,302.9 113.4,303.8 115.3,304.4 116.7,305.8 118.1,307.3 120.3,308.3 122.5,309.1 122.2,311.5 123.8,310.1 126.1,310.0 127.7,308.7 129.4,309.2 131.4,308.8 132.9,310.1 134.6,310.5 136.9,309.8 138.8,311.0 140.8,311.9 142.7,310.6 144.7,311.7 147.0,311.3 149.3,311.2 151.0,310.7 152.6,309.9 154.2,309.0 155.0,306.3 157.5,307.7 157.3,305.7 157.3,303.7 156.2,301.8 157.8,300.4 158.5,298.2 160.6,297.1 162.4,296.4 162.0,294.0 163.6,293.1 165.4,292.9 166.4,291.4 M161.3,301.2 163.4,300.1 165.5,299.2 167.3,300.6 169.2,301.9 169.6,303.6 170.1,305.3 170.0,308.0 172.2,310.2 173.6,310.0 172.6,312.0 170.8,313.3 171.7,315.0 173.5,315.8 172.3,318.2 170.7,319.6 169.9,321.5 167.0,321.9 164.9,322.5 162.9,322.9 160.1,324.1 157.5,325.8 156.4,327.7 155.6,329.7 153.9,330.7 151.5,332.8 150.3,334.2 148.5,334.8 147.1,336.0 147.3,337.8 148.4,339.5 147.1,341.1 145.6,342.9 145.0,345.3 146.9,347.4 146.5,349.0 145.9,350.5 143.8,351.4 142.5,353.3 144.8,353.4 146.9,354.2 145.4,355.7 143.8,356.6 142.0,356.9 141.3,355.3 139.9,354.2 139.0,352.8 138.0,350.5 136.3,349.6 134.4,349.1 132.8,347.9 131.3,346.6 129.3,346.3 127.1,346.9 125.6,348.5 124.2,350.3 124.7,352.5 123.6,353.9 124.7,356.1 122.7,357.2 122.5,358.9 121.8,361.3 119.6,360.7 118.3,362.0 116.4,362.1 118.1,364.1 119.7,361.3 121.3,361.5 123.0,362.0 124.8,362.5 126.7,361.9 128.6,361.8 130.4,362.7 132.3,362.0 133.5,360.4 135.5,360.4 136.2,362.0 136.9,363.5 136.1,365.4 135.7,367.4 134.9,369.8 135.7,372.2 134.7,373.5 134.3,375.1 133.0,376.2 133.5,378.5 131.0,378.9 129.9,380.2 131.1,382.8 127.9,383.0 129.2,385.6 127.0,386.4 127.1,388.3 125.7,386.7 123.7,386.2 121.9,385.3 122.1,383.2 121.4,381.5 119.4,380.5 118.6,378.8 116.7,378.3 114.7,378.4 113.5,376.0 111.4,376.3 112.7,377.5 114.4,378.2 115.6,379.5 116.5,381.1 114.5,381.4 114.1,383.4 112.7,384.4 113.2,386.4 113.8,388.4 112.3,387.8 110.8,387.1 109.8,385.7 108.3,385.1 107.1,383.9 105.3,382.6 105.0,380.7 105.0,378.6 102.2,379.6 100.3,379.1 100.0,377.0 99.5,375.1 97.4,374.8 M119.3,388.3 121.1,388.0 123.0,387.5 124.8,386.4 126.8,387.9 126.3,389.8 125.6,391.6 125.1,393.5 123.3,394.4 122.0,395.8 121.2,394.0 120.5,392.1 118.9,390.6 119.3,388.3 M139.3,371.4 138.6,369.8 139.0,368.1 138.4,366.5 138.2,364.8 138.3,362.9 139.8,361.4 139.9,359.5 141.5,359.9 143.1,360.7 144.8,361.2 146.6,360.0 147.6,358.2 148.6,356.4 147.8,354.3 149.4,352.8 151.2,352.3 151.9,350.5 153.1,352.1 154.9,352.9 153.7,354.8 154.0,357.0 153.3,359.2 151.9,360.9 152.1,363.0 150.4,364.0 149.1,365.4 148.0,366.8 147.8,368.8 145.7,368.0 144.7,370.8 143.2,371.8 140.8,370.2 139.3,371.4 M170.4,356.8 171.2,354.5 170.7,352.7 167.9,352.8 168.0,350.5 165.6,348.8 163.8,349.4 162.2,350.4 160.4,350.9 160.9,352.8 159.9,354.4 161.8,355.0 163.7,355.8 165.6,354.6 167.0,356.7 168.7,356.5 170.4,356.8 M149.0,344.6 149.0,342.7 150.1,341.3 150.7,339.6 151.6,338.1 153.3,337.1 153.9,335.5 155.3,336.6 157.0,337.1 154.5,338.2 155.3,340.7 153.3,342.0 152.6,344.2 150.8,344.4 149.0,344.6 M155.5,338.1 155.5,336.2 156.9,334.6 156.7,332.6 158.0,333.7 159.6,334.4 160.9,335.6 159.7,337.3 158.5,338.9 155.5,338.1 M156.6,355.0 154.7,353.3 153.4,351.6 156.2,349.6 158.3,350.9 160.4,349.7 161.0,351.6 160.3,353.2 159.1,354.6 156.6,355.0 M152.0,347.9 154.0,345.5 155.7,346.1 157.3,346.7 158.9,347.2 157.9,348.8 156.0,348.3 153.8,349.1 152.0,347.9 M158.7,344.2 158.8,342.3 161.0,341.1 160.7,339.1 162.2,339.9 163.5,341.0 163.4,343.4 161.2,344.5 158.7,344.2 M137.3,353.6 137.0,355.5 135.3,356.8 135.2,358.8 135.3,355.9 138.2,357.0 139.4,355.8 140.9,354.8 138.8,355.2 137.3,353.6 M163.0,356.4 164.9,356.4 166.7,357.8 168.7,357.3 170.6,357.2 171.6,359.1 173.9,358.1 175.4,358.9 176.8,359.9 175.8,361.9 177.6,363.1 176.4,364.5 176.2,366.2 176.2,367.9 175.7,369.5 175.5,371.2 174.8,372.8 173.7,374.2 171.7,375.1 171.7,377.0 171.3,378.8 170.9,380.5 169.6,381.8 167.7,380.4 166.0,381.4 164.3,381.9 162.5,382.0 161.3,383.7 159.3,383.5 157.3,383.5 156.2,385.3 154.5,385.9 152.8,386.6 151.1,387.0 150.1,389.2 147.9,388.6 146.4,387.3 147.0,384.9 145.4,383.6 146.6,382.4 148.1,381.3 147.3,379.2 147.8,377.6 149.2,376.5 149.7,375.0 150.3,373.1 152.5,372.8 154.7,372.5 154.5,369.8 155.7,368.6 157.1,367.4 158.1,366.1 157.5,364.0 158.4,362.6 161.0,362.0 160.7,360.1 162.7,358.7 163.0,356.4 M165.3,388.4 167.2,387.6 168.6,388.5 169.8,390.2 171.9,388.9 172.3,391.7 170.7,393.7 168.2,393.5 167.4,391.4 165.2,391.6 165.3,388.4 M186.0,370.2 188.4,372.3 189.7,370.9 191.4,370.3 190.9,367.7 189.4,366.4 187.6,365.4 185.5,367.3 186.0,370.2 M207.4,370.2 208.9,369.2 210.1,367.9 208.5,366.4 206.4,365.6 206.1,363.7 204.9,362.3 202.6,361.3 203.2,359.0 201.4,360.7 203.0,362.4 202.1,364.5 203.0,366.3 204.9,367.2 207.2,367.7 207.4,370.2 M194.4,361.9 195.2,359.6 195.5,357.6 193.8,357.8 193.7,360.2 194.4,361.9 M200.5,348.9 202.0,347.0 199.2,346.0 197.0,347.9 199.1,347.4 200.5,348.9 M199.4,332.1 198.8,329.3 196.9,328.0 194.8,328.7 195.7,331.3 197.6,331.3 199.4,332.1 M187.0,405.1 186.7,403.4 186.3,401.6 186.2,399.8 186.4,398.0 186.5,395.8 189.2,395.8 189.9,394.0 190.4,392.4 191.5,390.9 189.5,388.7 191.4,387.4 192.3,385.5 192.9,383.4 193.6,381.9 195.5,381.4 195.7,379.5 197.6,378.4 199.6,379.4 201.3,380.2 203.1,379.9 204.9,377.9 206.7,379.6 205.8,381.4 206.1,383.4 206.4,386.4 208.8,384.6 208.4,382.7 212.1,382.1 210.4,379.7 211.6,377.4 209.8,375.4 210.8,373.7 211.6,371.8 211.9,369.9 212.9,368.2 213.0,366.2 215.7,366.0 215.9,364.1 213.8,363.7 212.5,362.1 211.0,360.9 209.7,359.4 209.1,357.4 209.5,355.3 209.0,353.6 209.0,351.9 207.1,351.8 206.5,349.9 205.8,348.3 203.2,348.9 202.8,346.9 202.4,345.1 203.0,343.3 205.3,343.3 205.6,341.3 207.1,340.4 206.3,338.3 207.0,336.2 206.7,334.1 206.1,332.0 206.7,329.9 204.8,329.4 203.2,328.1 201.1,327.9 199.3,326.7 199.1,324.5 198.2,322.8 197.5,320.6 194.8,320.1 194.0,318.0 191.9,319.3 190.1,316.9 188.1,317.3 185.5,318.1 184.1,315.8 182.2,315.0 179.7,314.9 178.9,312.6 177.2,311.9 176.5,310.2 178.8,309.5 180.7,308.1 182.2,308.1 183.5,306.1 183.8,303.7 185.8,303.0 187.0,300.9 189.2,300.6 191.4,299.1 193.3,302.5 195.5,301.0 197.0,299.7 198.2,298.0 198.9,296.4 199.3,294.6 202.0,294.5 201.9,291.1 204.1,290.4 205.5,288.8 207.1,287.9 209.2,288.4 207.9,289.8 208.7,292.1 208.4,294.0 206.9,295.4 204.7,296.6 205.2,298.7 205.4,300.5 207.4,301.7 207.1,303.7 209.0,303.9 209.9,305.4 211.9,305.5 213.0,306.9 213.8,308.6 215.6,308.8 216.8,307.2 218.2,306.3 219.4,304.9 221.4,305.7 223.0,305.5 224.6,305.0 223.5,302.9 222.5,300.8 223.8,299.4 225.2,298.1 227.4,297.7 229.2,296.8 229.4,294.2 231.1,293.3 233.0,293.6 234.8,292.8 236.6,292.3 238.5,292.6 240.3,292.4 241.9,293.8 244.0,294.2 245.7,295.3 247.8,295.3 249.9,295.6 251.5,294.5 253.3,295.0 M229.8,289.6 228.6,291.2 226.6,292.0 225.2,293.4 225.1,295.6 222.9,296.3 222.8,298.6 221.2,299.7 219.6,300.9 221.0,298.3 223.7,299.3 224.6,298.0 225.3,296.5 226.0,294.9 226.9,293.6 227.3,291.9 228.7,290.9 229.8,289.6 M236.4,283.5 234.7,283.4 232.8,284.4 231.1,283.1 229.3,283.2 229.8,285.0 230.4,286.9 230.4,288.8 230.9,286.6 233.4,287.2 234.5,285.9 236.4,283.5 M239.5,282.2 237.7,281.6 235.9,281.8 237.6,284.5 M187.0,405.1 189.8,404.8 191.4,402.7 193.1,404.3 195.0,405.5 194.4,407.7 196.6,408.1 198.1,405.8 198.4,403.9 196.8,402.0 198.3,400.1 196.7,397.8 194.7,395.7 197.5,394.4 196.1,392.4 197.7,390.9 198.3,389.2 199.8,388.1 199.7,390.3 199.1,392.3 198.0,394.8 199.9,396.7 202.2,397.7 204.0,396.6 205.5,394.8 207.8,394.9 206.1,395.7 204.7,396.9 203.5,398.3 202.3,399.8 203.5,401.8 202.5,403.4 202.5,405.3 203.8,406.8 201.7,407.0 200.3,408.5 199.0,410.0 197.2,410.8 195.0,411.7 192.8,410.8 192.5,409.1 191.3,408.0 190.6,406.5 192.2,408.1 191.1,409.7 191.4,411.3 191.0,413.0 190.1,415.5 187.8,414.3 186.3,415.6 186.3,417.6 184.0,418.6 182.5,419.8 181.0,421.1 179.6,424.2 176.5,422.7 177.3,424.7 178.5,426.5 180.2,427.8 179.1,429.4 179.8,431.0 180.0,432.7 178.2,431.9 176.4,433.1 174.6,432.7 172.8,431.8 171.0,430.9 169.2,432.7 168.9,434.6 168.4,436.6 168.2,438.6 M176.1,419.9 177.7,419.5 179.5,420.5 180.7,418.0 182.4,418.4 184.0,418.2 184.6,416.3 183.9,414.5 181.7,414.0 181.7,411.7 181.5,410.1 180.1,408.8 180.2,407.1 179.4,404.2 177.5,404.1 176.4,405.8 176.2,407.8 176.9,410.6 178.9,412.6 178.9,413.9 177.1,414.7 176.4,416.7 178.7,417.4 177.9,419.1 176.1,419.9 M175.3,416.0 175.8,413.9 175.8,411.8 173.9,409.9 171.4,411.7 170.2,413.8 170.6,416.1 173.0,415.7 175.3,416.0 M183.0,439.7 185.7,439.7 186.8,438.1 186.7,435.6 186.5,433.2 188.8,434.0 190.3,432.1 192.2,431.7 194.1,430.0 195.5,431.0 197.2,431.3 199.5,431.5 199.9,433.8 201.4,435.3 203.8,435.1 205.3,436.7 M210.5,435.1 210.4,433.0 209.9,431.0 208.2,430.8 206.7,429.6 204.7,430.2 203.2,428.9 201.2,428.2 200.4,426.2 200.1,428.0 199.8,429.8 201.4,430.7 202.6,432.2 204.1,433.3 206.0,433.3 208.2,433.3 209.6,434.9 M212.7,434.3 216.0,434.9 216.7,431.7 218.6,430.4 220.6,429.2 223.5,429.5 224.5,426.7 225.5,425.2 227.9,424.9 228.7,423.2 230.2,422.0 231.1,420.3 233.5,421.0 235.0,420.1 236.3,418.3 238.0,417.6 239.4,416.3 239.3,415.0 237.3,414.7 235.4,413.7 233.3,413.6 231.6,414.0 229.9,413.8 228.5,414.8 228.1,416.6 226.5,417.4 224.3,415.3 222.7,416.1 220.9,416.3 219.8,418.2 220.8,420.1 220.0,422.2 221.2,423.9 222.7,426.6 M240.1,404.5 238.7,402.7 239.7,401.1 240.7,399.6 241.1,397.5 242.4,395.8 245.0,395.6 245.5,398.2 247.4,399.1 246.7,401.3 247.7,402.6 248.4,404.1 248.9,405.9 249.3,407.8 247.2,407.0 245.2,408.4 243.5,406.7 242.7,404.2 240.1,404.5 M197.3,436.4 197.7,434.0 195.9,432.5 196.1,434.7 195.1,436.7 M165.3,291.6 166.7,290.6 168.2,289.5 169.5,288.3 171.1,287.5 172.7,286.5 174.6,286.1 176.0,284.6 178.0,284.6 179.9,284.3 181.5,284.5 183.1,284.7 184.6,285.7 186.1,286.1 187.9,285.8 M138.1,353.6 138.1,355.6 137.7,357.5 140.4,357.5 141.1,355.8 141.7,354.0 139.8,352.0 138.1,353.6 M153.0,346.4 154.2,344.6 155.8,345.4 155.2,347.2 153.0,346.4 M151.9,348.9 150.4,347.2 152.3,348.2 154.6,348.1 155.0,350.0 152.8,350.5 151.9,348.9 M159.1,346.4 158.6,344.6 161.0,345.6 159.1,346.4 M158.2,342.7 158.2,340.3 160.2,338.6 161.9,340.6 160.6,342.6 158.2,342.7 M161.3,339.8 162.3,338.1 164.1,340.0 162.6,340.9 161.3,339.8 M163.0,351.8 162.1,349.8 164.7,348.7 167.2,350.0 165.5,351.7 163.0,351.8 M157.1,348.3 157.3,347.0 159.8,347.3 159.6,348.9 157.1,348.3 M146.1,346.7 145.5,344.7 148.1,344.5 148.3,346.9 146.1,346.7 M148.7,354.6 148.5,351.7 151.0,350.5 152.0,352.6 150.4,354.4 148.7,354.6 M138.1,359.9 136.6,361.0 138.1,363.2 139.5,361.9 M157.0,368.8 155.9,371.1 153.9,370.3 154.4,373.0 153.0,374.5 151.1,373.9 150.7,375.5 149.8,376.9 149.0,378.3 M172.1,375.4 172.9,377.5 169.9,378.2 170.7,380.4 168.3,380.3 M154.9,383.0 157.5,383.3 160.1,383.2 162.2,385.2 163.6,382.7 166.3,383.1 M162.2,361.1 162.8,358.3 162.9,357.2 M154.5,343.6 153.1,342.1 155.8,341.9 154.5,343.6 M148.5,336.9 150.9,335.9 150.9,333.9 M205.5,363.9 202.8,363.4 201.2,364.3 201.4,362.5 203.3,360.8 202.4,358.7 M213.7,356.1 214.7,357.4 216.8,358.0 216.3,360.3 214.2,359.2 212.0,359.6 210.3,357.5 M193.7,382.2 195.2,379.7 197.4,379.1 199.2,380.0 M190.7,390.3 191.6,388.3 190.4,385.9 192.2,385.4 192.7,382.9" fill="none" stroke="#686868" stroke-width="0.95" stroke-linejoin="round"/>
<path d="M141.10,293.80 C139.88,294.65 136.48,297.20 133.80,298.90 C131.12,300.60 127.43,303.03 125.00,304.00 C122.57,304.97 120.65,305.18 119.20,304.70 C117.75,304.22 116.30,302.80 116.30,301.10 C116.30,299.40 117.25,296.82 119.20,294.50 C121.15,292.18 124.83,289.63 128.00,287.20 C131.17,284.77 134.80,281.97 138.20,279.90 C141.60,277.83 145.00,276.02 148.40,274.80 C151.80,273.58 155.20,272.85 158.60,272.60 C162.00,272.35 165.88,272.57 168.80,273.30 C171.72,274.03 174.63,275.42 176.10,277.00 C177.57,278.58 177.83,281.22 177.60,282.80 C177.37,284.38 176.65,285.77 174.70,286.50 C172.75,287.23 168.85,287.17 165.90,287.20 C162.95,287.23 158.48,286.78 157.00,286.70 M158.00,263.50 C159.80,263.92 165.53,265.45 168.80,266.00 C172.07,266.55 175.10,266.43 177.60,266.80 C180.10,267.17 181.57,267.83 183.80,268.20 C186.03,268.57 189.07,269.23 191.00,269.00 C192.93,268.77 194.17,267.72 195.40,266.80 C196.63,265.88 197.90,264.05 198.40,263.50 M93.50,313.80 C95.35,313.75 100.80,313.80 104.60,313.50 C108.40,313.20 112.40,312.98 116.30,312.00 C120.20,311.02 124.35,309.55 128.00,307.60 C131.65,305.65 134.80,302.48 138.20,300.30 C141.60,298.12 144.77,295.83 148.40,294.50 C152.03,293.17 156.35,292.42 160.00,292.30 C163.65,292.18 167.13,292.70 170.30,293.80 C173.47,294.90 176.82,297.08 179.00,298.90 C181.18,300.72 182.17,302.75 183.40,304.70 C184.63,306.65 184.88,307.92 186.40,310.60 C187.92,313.28 190.82,318.40 192.50,320.80 C194.18,323.20 195.83,324.30 196.50,325.00 M205.00,331.50 C205.60,331.90 206.30,333.02 208.60,333.90 C210.90,334.78 215.40,335.95 218.80,336.80 C222.20,337.65 225.83,338.02 229.00,339.00 C232.17,339.98 235.37,341.37 237.80,342.70 C240.23,344.03 241.42,345.55 243.60,347.00 C245.78,348.45 248.70,350.17 250.90,351.40 C253.10,352.63 254.95,353.47 256.80,354.40 C258.65,355.33 259.47,356.07 262.00,357.00 C264.53,357.93 270.33,359.50 272.00,360.00 M93.00,324.60 C95.83,324.42 104.42,323.90 110.00,323.50 C115.58,323.10 122.05,323.63 126.50,322.20 C130.95,320.77 133.53,317.57 136.70,314.90 C139.87,312.23 142.58,308.38 145.50,306.20 C148.42,304.02 150.80,302.65 154.20,301.80 C157.60,300.95 162.73,300.62 165.90,301.10 C169.07,301.58 171.73,302.88 173.20,304.70 C174.67,306.52 174.58,309.32 174.70,312.00 C174.82,314.68 174.63,318.37 173.90,320.80 C173.17,323.23 172.12,324.65 170.30,326.60 C168.48,328.55 166.17,330.80 163.00,332.50 C159.83,334.20 155.43,335.10 151.30,336.80 C147.17,338.50 142.08,340.75 138.20,342.70 C134.32,344.65 130.68,346.55 128.00,348.50 C125.32,350.45 123.08,353.42 122.10,354.40 M162.00,328.50 C161.43,328.92 160.38,330.58 158.60,331.00 C156.82,331.42 153.12,331.73 151.30,331.00 C149.48,330.27 148.18,328.30 147.70,326.60 C147.22,324.90 147.80,322.87 148.40,320.80 C149.00,318.73 149.83,315.78 151.30,314.20 C152.77,312.62 155.00,311.55 157.20,311.30 C159.40,311.05 162.93,311.60 164.50,312.70 C166.07,313.80 166.38,316.43 166.60,317.90 C166.82,319.37 165.93,320.90 165.80,321.50 M213.70,263.00 C213.70,264.12 214.68,267.13 213.70,269.70 C212.72,272.27 208.65,275.23 207.80,278.40 C206.95,281.57 207.62,285.65 208.60,288.70 C209.58,291.75 211.52,293.78 213.70,296.70 C215.88,299.62 218.67,303.65 221.70,306.20 C224.73,308.75 228.25,310.67 231.90,312.00 C235.55,313.33 239.45,313.95 243.60,314.20 C247.75,314.45 253.88,314.23 256.80,313.50 C259.72,312.77 259.23,311.05 261.10,309.80 C262.97,308.55 266.85,306.63 268.00,306.00 M218.80,287.20 C219.77,286.47 222.17,283.65 224.60,282.80 C227.03,281.95 230.23,281.73 233.40,282.10 C236.57,282.47 240.68,283.42 243.60,285.00 C246.52,286.58 249.68,289.53 250.90,291.60 C252.12,293.67 252.12,295.82 250.90,297.40 C249.68,298.98 246.52,300.37 243.60,301.10 C240.68,301.83 236.57,302.17 233.40,301.80 C230.23,301.43 226.92,300.37 224.60,298.90 C222.28,297.43 220.47,294.95 219.50,293.00 C218.53,291.05 218.92,288.17 218.80,287.20 M270.00,318.00 C269.25,318.47 267.70,320.33 265.50,320.80 C263.30,321.27 259.72,320.10 256.80,320.80 C253.88,321.50 249.97,323.05 248.00,325.00 C246.03,326.95 245.25,330.03 245.00,332.50 C244.75,334.97 245.27,337.62 246.50,339.80 C247.73,341.98 250.73,344.40 252.40,345.60 C254.07,346.80 255.82,346.77 256.50,347.00 M185.00,348.00 C186.50,347.60 190.80,346.48 194.00,345.60 C197.20,344.72 200.80,343.18 204.20,342.70 C207.60,342.22 211.23,342.22 214.40,342.70 C217.57,343.18 220.03,343.90 223.20,345.60 C226.37,347.30 230.73,350.83 233.40,352.90 C236.07,354.97 238.23,357.15 239.20,358.00 M94.00,373.00 C96.00,372.13 102.28,369.63 106.00,367.80 C109.72,365.97 112.63,363.47 116.30,362.00 C119.97,360.53 124.35,359.85 128.00,359.00 C131.65,358.15 134.32,357.87 138.20,356.90 C142.08,355.93 147.42,354.55 151.30,353.20 C155.18,351.85 158.58,350.25 161.50,348.80 C164.42,347.35 166.55,345.97 168.80,344.50 C171.05,343.03 173.97,340.75 175.00,340.00 M97.00,362.00 C98.75,361.50 103.80,360.22 107.50,359.00 C111.20,357.78 115.30,356.15 119.20,354.70 C123.10,353.25 127.25,351.77 130.90,350.30 C134.55,348.83 137.70,347.12 141.10,345.90 C144.50,344.68 148.15,343.98 151.30,343.00 C154.45,342.02 158.55,340.50 160.00,340.00 M142.00,371.00 C141.60,370.33 139.75,368.35 139.60,367.00 C139.45,365.65 139.63,364.03 141.10,362.90 C142.57,361.77 145.72,360.77 148.40,360.20 C151.08,359.63 155.02,359.13 157.20,359.50 C159.38,359.87 161.03,361.18 161.50,362.40 C161.97,363.62 161.22,365.62 160.00,366.80 C158.78,367.98 155.17,369.05 154.20,369.50 M97.00,410.00 C99.48,408.82 107.47,404.57 111.90,402.90 C116.33,401.23 119.95,401.72 123.60,400.00 C127.25,398.28 129.67,395.05 133.80,392.60 C137.93,390.15 144.37,387.00 148.40,385.30 C152.43,383.60 156.40,382.88 158.00,382.40 M173.00,385.00 C173.83,385.50 176.50,386.83 178.00,388.00 C179.50,389.17 181.33,391.33 182.00,392.00 M151.50,391.80 C150.50,391.93 147.72,391.00 145.50,392.60 C143.28,394.20 139.42,398.00 138.20,401.40 C136.98,404.80 136.98,409.60 138.20,413.00 C139.42,416.40 142.10,419.60 145.50,421.80 C148.90,424.00 154.22,425.72 158.60,426.20 C162.98,426.68 168.15,425.92 171.80,424.70 C175.45,423.48 178.67,420.68 180.50,418.90 C182.33,417.12 182.42,414.82 182.80,414.00 M182.50,404.00 C182.08,402.83 181.08,398.83 180.00,397.00 C178.92,395.17 176.67,393.67 176.00,393.00 M129.40,404.30 C129.65,406.25 129.20,412.35 130.90,416.00 C132.60,419.65 135.72,423.53 139.60,426.20 C143.48,428.87 148.83,431.03 154.20,432.00 C159.57,432.97 166.68,433.22 171.80,432.00 C176.92,430.78 182.20,427.03 184.90,424.70 C187.60,422.37 187.48,419.12 188.00,418.00 M120.00,405.00 C120.25,407.17 120.17,414.17 121.50,418.00 C122.83,421.83 124.92,425.00 128.00,428.00 C131.08,431.00 136.00,434.08 140.00,436.00 C144.00,437.92 150.00,438.92 152.00,439.50 M101.70,386.80 C103.15,385.83 107.00,382.47 110.40,381.00 C113.80,379.53 118.20,378.98 122.10,378.00 C126.00,377.02 130.82,376.18 133.80,375.10 C136.78,374.02 138.97,372.10 140.00,371.50 M217.30,357.60 C218.52,357.48 221.92,356.67 224.60,356.90 C227.28,357.13 231.93,358.65 233.40,359.00 M249.00,362.00 C250.30,362.23 253.30,362.67 256.80,363.40 C260.30,364.13 267.80,365.90 270.00,366.40 M217.30,357.60 C218.03,358.82 219.83,362.47 221.70,364.90 C223.57,367.33 225.82,370.02 228.50,372.20 C231.18,374.38 235.28,375.82 237.80,378.00 C240.32,380.18 241.65,382.87 243.60,385.30 C245.55,387.73 247.77,390.40 249.50,392.60 C251.23,394.80 252.58,396.60 254.00,398.50 C255.42,400.40 257.33,403.08 258.00,404.00 M196.90,370.00 C198.85,370.73 204.95,373.18 208.60,374.40 C212.25,375.62 215.63,376.20 218.80,377.30 C221.97,378.40 224.68,379.42 227.60,381.00 C230.52,382.58 234.12,384.62 236.30,386.80 C238.48,388.98 239.48,391.42 240.70,394.10 C241.92,396.78 242.88,399.92 243.60,402.90 C244.32,405.88 244.77,410.48 245.00,412.00 M192.50,385.30 C194.45,384.93 200.07,383.22 204.20,383.10 C208.33,382.98 213.65,383.73 217.30,384.60 C220.95,385.47 223.42,386.72 226.10,388.30 C228.78,389.88 231.45,391.92 233.40,394.10 C235.35,396.28 236.83,398.75 237.80,401.40 C238.77,404.05 238.72,407.57 239.20,410.00 C239.68,412.43 240.45,415.00 240.70,416.00 M206.00,394.10 C207.17,393.75 210.38,392.25 213.00,392.00 C215.62,391.75 219.03,391.77 221.70,392.60 C224.37,393.43 227.05,395.05 229.00,397.00 C230.95,398.95 232.43,401.87 233.40,404.30 C234.37,406.73 234.80,409.15 234.80,411.60 C234.80,414.05 233.63,417.77 233.40,419.00 M192.50,386.00 C192.25,388.57 191.48,396.90 191.00,401.40 C190.52,405.90 190.08,408.87 189.60,413.00 C189.12,417.13 188.10,421.70 188.10,426.20 C188.10,430.70 189.35,437.70 189.60,440.00 M196.90,398.00 C197.07,400.00 197.90,406.27 197.90,410.00 C197.90,413.73 196.58,417.45 196.90,420.40 C197.22,423.35 198.10,426.00 199.80,427.70 C201.50,429.40 205.57,429.97 207.10,430.60 C208.63,431.23 208.68,431.35 209.00,431.50 M240.70,343.00 C242.40,344.22 248.52,348.80 250.90,350.30 C253.28,351.80 254.32,351.72 255.00,352.00 M245.00,357.60 C246.97,357.97 252.63,359.07 256.80,359.80 C260.97,360.53 267.80,361.63 270.00,362.00" fill="none" stroke="#000" stroke-width="1.1"/>
<path d="M167.7,398.6 A13.1,13.1 0 1 1 156.6,398.1" fill="none" stroke="#000" stroke-width="2.4"/>
<path d="M250.90,383.90 C251.02,382.68 250.62,378.18 251.60,376.60 C252.58,375.02 255.22,374.40 256.80,374.40 C258.38,374.40 260.13,375.27 261.10,376.60 C262.07,377.93 262.35,381.43 262.60,382.40" fill="none" stroke="#000" stroke-width="2.4"/>
<circle cx="163" cy="411.6" r="6.6" fill="none" stroke="#000" stroke-width="1.0" stroke-dasharray="2.2,1.6"/>
<circle cx="194" cy="303.3" r="2.2" fill="none" stroke="#000" stroke-width="1.1"/>
<circle cx="215.1" cy="323.0" r="3.6" fill="none" stroke="#000" stroke-width="1.1"/>
<path d="M240.1,410.3 L244.6,405.6 M250.5,399.0 L251.8,395.0 M258.1,386.6 L257.9,382.7 M265.4,374.5 L260.0,368.3 M267.6,356.6 L262.6,358.3 M268.5,343.4 L261.7,343.3 M262.8,327.4 L262.5,331.5 M258.5,312.8 L257.4,319.5 M254.5,302.3 L247.6,305.4 M246.0,294.7 L238.4,291.0 M234.6,284.3 L228.5,282.9 M220.4,278.7 L218.7,273.7 M208.0,272.7 L204.9,269.2 M196.5,268.7 L188.8,267.3 M180.6,265.3 L176.5,269.5 M163.5,267.6 L165.7,270.8 M152.2,270.7 L150.0,276.0 M141.6,278.1 L135.5,281.3 M131.1,287.6 L123.2,288.7 M117.8,296.5 L117.0,300.1 M109.6,307.4 L109.4,312.6 M99.7,323.3 L107.7,322.5 M98.1,338.1 L102.3,335.0 M96.9,350.5 L101.2,350.7 M98.7,362.2 L101.8,367.1 M103.5,376.4 L104.1,380.2 M107.4,388.0 L111.9,394.3 M115.1,402.4 L120.0,403.3 M125.9,411.6 L128.7,414.4 M137.1,420.5 L140.3,422.2 M148.4,427.6 L154.2,427.9 M164.4,435.4 L165.1,428.3 M178.5,435.5 L179.0,431.7 M193.8,436.9 L191.9,429.1 M208.5,433.3 L204.8,426.7 M220.3,426.6 L219.1,422.8 M232.6,419.6 L230.8,415.0 M108.8,337.4 L114.0,343.1 M111.4,351.8 L110.2,356.7 M113.9,364.0 L111.9,372.2 M116.7,378.9 L118.6,383.7 M122.9,391.8 L126.9,394.8 M132.5,403.8 L136.2,403.5 M142.9,411.7 L148.4,412.3 M158.8,421.8 L157.9,414.1 M175.0,421.9 L168.9,420.7 M187.4,425.1 L184.5,418.8 M202.1,423.2 L197.5,416.4 M214.7,417.9 L211.3,412.2 M225.8,410.5 L224.2,405.1 M233.8,402.0 L236.9,394.7 M243.2,388.8 L244.1,385.3 M250.9,376.1 L248.3,372.6 M253.8,362.7 L252.2,358.8 M256.3,346.6 L251.0,346.9 M255.4,332.9 L247.6,332.9 M248.4,318.3 L245.1,321.1 M241.2,306.8 L237.8,308.6 M230.8,299.5 L229.3,295.1 M220.5,290.1 L217.0,288.0 M208.9,284.9 L203.3,281.3 M195.4,281.4 L189.5,278.0 M180.2,280.1 L176.7,278.0 M167.2,282.0 L162.0,280.3 M153.4,286.1 L149.4,285.8 M141.2,290.6 L137.6,295.8 M130.2,298.8 L127.9,306.5 M121.3,312.1 L120.2,315.8 M114.8,323.2 L114.7,330.1 M229.3,389.6 L229.9,385.9 M236.8,379.4 L237.0,372.3 M243.3,365.6 L239.3,359.5 M245.0,351.3 L239.9,345.9 M241.9,333.3 L238.9,336.2 M237.1,319.4 L233.3,324.1 M230.4,310.3 L223.9,310.2 M218.9,301.8 L214.5,300.2 M205.5,296.8 L203.2,292.0 M191.2,293.2 L190.3,288.4 M179.5,291.2 L174.1,289.7 M166.4,294.2 L159.8,292.4 M152.7,298.7 L148.1,299.8 M139.8,306.0 L139.1,309.9 M133.1,316.9 L128.4,321.0 M126.4,330.1 L123.4,333.2 M125.1,347.5 L119.1,343.3 M125.2,362.4 L119.9,356.4 M127.0,375.3 L125.4,370.6 M132.7,387.8 L133.1,382.6 M139.2,398.2 L145.2,393.1 M156.5,401.3 L150.9,406.0 M169.7,411.1 L163.8,406.5 M183.5,412.0 L177.7,409.6 M197.1,411.3 L192.0,407.8 M210.1,407.8 L205.6,402.4 M220.5,400.6 L219.0,394.8 M150.8,390.1 L146.5,383.5 M161.9,395.9 L158.6,393.8 M176.4,400.1 L170.9,398.4 M189.3,403.2 L186.1,396.1 M201.9,399.4 L200.7,392.9 M212.1,391.7 L214.7,386.1 M220.7,380.5 L225.2,376.5 M228.6,367.6 L229.8,364.2 M231.9,355.0 L231.4,349.2 M230.3,336.2 L229.9,339.9 M222.4,323.0 L226.9,327.2 M215.7,311.4 L215.9,316.9 M201.5,308.5 L206.8,303.8 M192.8,300.4 L188.7,303.2 M180.4,300.0 L173.0,302.7 M165.9,304.3 L160.3,305.5 M153.6,309.7 L148.4,314.5 M142.3,320.7 L140.6,324.2 M137.8,335.6 L132.6,334.5 M134.2,350.2 L131.3,347.7 M135.6,364.8 L133.0,361.0 M140.6,379.4 L138.9,372.4 M159.2,320.1 L155.6,320.9 M151.9,330.1 L144.6,332.9 M145.5,346.9 L141.8,343.1 M146.7,362.6 L141.9,356.0 M151.7,375.6 L148.4,369.2 M159.3,384.5 L161.0,380.6 M173.1,390.3 L173.3,386.4 M187.5,392.8 L187.4,385.3 M201.7,387.3 L200.4,381.7 M208.7,377.6 L215.5,373.3 M218.4,366.3 L219.8,359.6 M218.9,348.4 L223.2,349.2 M214.7,333.1 L220.9,336.6 M206.4,322.4 L213.2,323.7 M195.7,313.3 L200.3,316.6 M186.1,310.8 L182.1,312.5 M171.4,312.1 L168.4,315.1 M173.3,378.4 L169.2,375.4 M186.7,382.0 L185.2,375.7 M200.2,375.2 L199.0,371.2 M208.6,364.2 L208.6,358.7 M207.5,347.0 L213.6,346.5 M201.2,331.5 L208.6,334.7 M191.1,321.0 L195.2,327.2 M181.4,323.1 L175.6,321.2 M167.5,327.2 L162.1,328.4 M159.5,339.8 L152.1,339.3 M155.4,355.2 L152.3,353.3 M162.6,369.7 L156.5,366.1 M192.8,333.1 L186.0,334.0 M177.1,333.4 L173.5,333.5 M168.3,342.9 L162.2,343.7 M164.1,360.0 L166.2,354.8 M175.9,369.0 L174.1,365.9 M190.8,370.3 L187.4,364.8 M200.8,358.7 L197.5,356.7 M200.5,346.0 L198.1,341.2 M193.1,347.5 L185.6,344.8 M175.3,348.7 L174.5,344.3 M184.0,359.5 L180.8,358.2" stroke="#ea4a44" stroke-width="1.0" fill="none"/>
<path d="M245.0,405.2 L243.9,408.0 L242.2,406.4Z M252.0,394.4 L252.2,397.4 L250.0,396.7Z M257.9,382.1 L259.2,384.9 L256.9,385.0Z M259.6,367.8 L262.3,369.2 L260.6,370.7Z M262.0,358.5 L264.3,356.5 L265.0,358.7Z M261.1,343.3 L263.9,342.2 L263.8,344.5Z M262.5,332.1 L261.5,329.3 L263.8,329.4Z M257.3,320.1 L256.6,317.2 L258.9,317.6Z M247.0,305.6 L249.1,303.4 L250.1,305.5Z M237.9,290.8 L240.9,291.0 L239.9,293.0Z M227.9,282.7 L230.9,282.2 L230.4,284.5Z M218.6,273.1 L220.5,275.4 L218.3,276.1Z M204.5,268.8 L207.2,270.1 L205.5,271.6Z M188.2,267.2 L191.2,266.5 L190.8,268.8Z M176.1,269.9 L177.2,267.1 L178.9,268.7Z M166.0,271.3 L163.5,269.7 L165.4,268.4Z M149.8,276.5 L149.8,273.5 L151.9,274.4Z M134.9,281.6 L136.9,279.3 L137.9,281.3Z M122.6,288.8 L125.2,287.2 L125.5,289.5Z M116.9,300.7 L116.4,297.7 L118.6,298.2Z M109.4,313.2 L108.4,310.4 L110.7,310.5Z M108.3,322.4 L105.7,323.9 L105.4,321.6Z M102.8,334.6 L101.2,337.2 L99.8,335.4Z M101.8,350.8 L98.9,351.7 L99.0,349.4Z M102.1,367.6 L99.6,365.9 L101.6,364.6Z M104.2,380.8 L102.6,378.2 L104.9,377.8Z M112.2,394.8 L109.7,393.2 L111.5,391.8Z M120.6,403.4 L117.7,404.0 L118.1,401.8Z M129.1,414.8 L126.3,413.6 L128.0,412.0Z M140.8,422.5 L137.8,422.2 L138.9,420.2Z M154.8,427.9 L151.9,428.9 L152.1,426.6Z M165.2,427.7 L166.1,430.6 L163.8,430.3Z M179.1,431.1 L179.9,434.1 L177.6,433.7Z M191.8,428.5 L193.6,431.0 L191.3,431.5Z M204.5,426.2 L206.9,428.1 L204.9,429.2Z M219.0,422.3 L220.9,424.6 L218.7,425.3Z M230.6,414.4 L232.7,416.6 L230.6,417.5Z M114.4,343.6 L111.7,342.3 L113.4,340.7Z M110.0,357.3 L109.6,354.3 L111.8,354.9Z M111.7,372.8 L111.3,369.8 L113.5,370.3Z M118.8,384.3 L116.7,382.1 L118.9,381.2Z M127.4,395.2 L124.5,394.4 L125.9,392.6Z M136.8,403.5 L134.1,404.8 L133.9,402.5Z M149.0,412.4 L146.1,413.2 L146.3,410.9Z M157.8,413.5 L159.3,416.1 L157.0,416.4Z M168.3,420.5 L171.3,420.0 L170.8,422.2Z M184.2,418.2 L186.5,420.3 L184.4,421.2Z M197.2,415.9 L199.7,417.6 L197.8,418.9Z M210.9,411.7 L213.4,413.5 L211.4,414.7Z M224.0,404.5 L225.9,406.8 L223.7,407.5Z M237.2,394.1 L237.1,397.2 L235.0,396.3Z M244.3,384.7 L244.7,387.7 L242.5,387.1Z M248.0,372.2 L250.6,373.7 L248.7,375.1Z M251.9,358.3 L254.1,360.4 L252.0,361.3Z M250.4,346.9 L253.1,345.6 L253.2,347.9Z M247.0,332.9 L249.8,331.7 L249.8,334.0Z M244.6,321.5 L246.0,318.8 L247.5,320.5Z M237.2,308.9 L239.2,306.6 L240.3,308.6Z M229.1,294.6 L231.1,296.8 L228.9,297.6Z M216.5,287.6 L219.5,288.1 L218.3,290.1Z M202.8,280.9 L205.7,281.5 L204.5,283.4Z M189.0,277.7 L192.0,278.1 L190.9,280.1Z M176.1,277.7 L179.1,278.2 L178.0,280.1Z M161.4,280.2 L164.4,279.9 L163.7,282.1Z M148.8,285.7 L151.7,284.8 L151.5,287.1Z M137.2,296.3 L137.9,293.3 L139.8,294.6Z M127.7,307.1 L127.4,304.1 L129.6,304.7Z M120.0,316.3 L119.7,313.3 L121.9,314.0Z M114.7,330.7 L113.6,327.9 L115.9,327.9Z M230.0,385.3 L230.7,388.3 L228.4,387.9Z M237.0,371.7 L238.1,374.5 L235.8,374.5Z M239.0,359.0 L241.5,360.7 L239.5,362.0Z M239.5,345.4 L242.3,346.7 L240.6,348.3Z M238.5,336.6 L239.7,333.9 L241.3,335.5Z M233.0,324.5 L233.8,321.6 L235.6,323.1Z M223.3,310.2 L226.1,309.1 L226.1,311.4Z M213.9,299.9 L216.9,299.9 L216.1,302.0Z M202.9,291.5 L205.2,293.5 L203.1,294.5Z M190.2,287.8 L191.9,290.3 L189.6,290.7Z M173.5,289.5 L176.5,289.2 L175.9,291.4Z M159.2,292.2 L162.2,291.9 L161.6,294.1Z M147.5,299.9 L150.0,298.2 L150.5,300.4Z M139.0,310.5 L138.3,307.6 L140.6,308.0Z M128.0,321.4 L129.3,318.7 L130.8,320.4Z M123.0,333.6 L124.1,330.8 L125.8,332.4Z M118.6,342.9 L121.5,343.6 L120.2,345.5Z M119.5,355.9 L122.2,357.3 L120.5,358.8Z M125.2,370.0 L127.2,372.2 L125.0,373.0Z M133.2,382.0 L134.1,384.9 L131.8,384.7Z M145.7,392.7 L144.3,395.4 L142.8,393.7Z M150.5,406.4 L151.9,403.7 L153.4,405.5Z M163.3,406.1 L166.3,407.0 L164.8,408.8Z M177.1,409.3 L180.2,409.4 L179.3,411.5Z M191.5,407.4 L194.4,408.1 L193.1,409.9Z M205.2,402.0 L207.9,403.4 L206.1,404.8Z M218.9,394.2 L220.7,396.7 L218.4,397.2Z M146.2,383.0 L148.7,384.8 L146.7,386.0Z M158.0,393.5 L161.0,394.0 L159.8,395.9Z M170.3,398.2 L173.3,397.9 L172.6,400.1Z M185.8,395.6 L188.0,397.7 L185.9,398.6Z M200.6,392.3 L202.3,394.8 L200.0,395.3Z M214.9,385.5 L214.8,388.6 L212.7,387.6Z M225.7,376.2 L224.3,378.9 L222.8,377.1Z M230.0,363.7 L230.2,366.7 L228.0,366.0Z M231.4,348.6 L232.7,351.3 L230.4,351.5Z M229.8,340.5 L229.0,337.6 L231.3,337.9Z M227.4,327.6 L224.5,326.5 L226.1,324.8Z M215.9,317.5 L214.6,314.8 L216.9,314.7Z M207.2,303.4 L205.9,306.1 L204.4,304.4Z M188.3,303.5 L189.9,301.0 L191.2,302.9Z M172.5,302.9 L174.7,300.9 L175.5,303.0Z M159.7,305.6 L162.2,303.9 L162.7,306.1Z M147.9,315.0 L149.2,312.2 L150.8,313.9Z M140.3,324.7 L140.5,321.7 L142.6,322.8Z M132.0,334.4 L135.0,333.8 L134.5,336.1Z M130.9,347.3 L133.7,348.3 L132.2,350.0Z M132.7,360.5 L135.2,362.2 L133.3,363.5Z M138.8,371.8 L140.6,374.3 L138.3,374.8Z M155.0,321.0 L157.5,319.3 L158.0,321.6Z M144.0,333.1 L146.2,331.0 L147.0,333.2Z M141.4,342.7 L144.2,343.9 L142.5,345.5Z M141.6,355.5 L144.1,357.1 L142.3,358.5Z M148.1,368.7 L150.4,370.6 L148.4,371.7Z M161.2,380.0 L161.2,383.1 L159.0,382.2Z M173.3,385.8 L174.3,388.6 L172.0,388.6Z M187.4,384.7 L188.6,387.5 L186.3,387.5Z M200.3,381.2 L202.0,383.6 L199.8,384.2Z M216.0,373.0 L214.2,375.4 L213.0,373.5Z M219.9,359.0 L220.4,362.0 L218.2,361.5Z M223.8,349.3 L220.9,349.9 L221.3,347.7Z M221.5,336.9 L218.5,336.5 L219.6,334.5Z M213.8,323.9 L210.8,324.4 L211.3,322.2Z M200.8,317.0 L197.9,316.3 L199.2,314.4Z M181.6,312.7 L183.7,310.6 L184.6,312.7Z M168.0,315.5 L169.1,312.7 L170.8,314.4Z M168.7,375.0 L171.6,375.8 L170.3,377.6Z M185.0,375.1 L186.8,377.6 L184.6,378.1Z M198.8,370.6 L200.7,373.0 L198.5,373.7Z M208.6,358.1 L209.8,360.9 L207.5,360.9Z M214.2,346.5 L211.5,347.9 L211.3,345.6Z M209.1,335.0 L206.1,334.9 L207.0,332.8Z M195.5,327.7 L193.0,326.0 L195.0,324.8Z M175.0,321.0 L178.0,320.8 L177.3,323.0Z M161.5,328.5 L164.0,326.8 L164.5,329.1Z M151.5,339.3 L154.3,338.3 L154.2,340.6Z M151.8,353.0 L154.8,353.4 L153.6,355.4Z M156.0,365.8 L158.9,366.2 L157.8,368.2Z M185.5,334.1 L188.1,332.6 L188.4,334.9Z M172.9,333.5 L175.7,332.3 L175.8,334.6Z M161.6,343.8 L164.2,342.3 L164.5,344.6Z M166.4,354.3 L166.4,357.3 L164.3,356.4Z M173.8,365.4 L176.2,367.2 L174.2,368.4Z M187.1,364.3 L189.5,366.1 L187.6,367.3Z M197.0,356.4 L200.0,356.9 L198.8,358.8Z M197.8,340.7 L200.1,342.7 L198.0,343.7Z M185.0,344.6 L188.1,344.5 L187.3,346.6Z M174.4,343.7 L176.0,346.3 L173.7,346.7Z M180.2,358.0 L183.2,357.9 L182.4,360.1Z" fill="#ea4a44"/>
</g>
<text x="149.50" y="293.20" font-size="9.63" text-anchor="middle" style="" fill="#111" textLength="11.45" lengthAdjust="spacingAndGlyphs">18</text>
<text x="165.00" y="330.70" font-size="9.63" text-anchor="middle" style="" fill="#111" textLength="5.73" lengthAdjust="spacingAndGlyphs">6</text>
<text x="201.80" y="331.90" font-size="9.63" text-anchor="middle" style="" fill="#111" textLength="11.45" lengthAdjust="spacingAndGlyphs">14</text>
<text x="183.40" y="354.80" font-size="9.63" text-anchor="middle" style="" fill="#111" textLength="11.45" lengthAdjust="spacingAndGlyphs">14</text>
<text x="193.90" y="362.70" font-size="9.63" text-anchor="middle" style="" fill="#111" textLength="11.45" lengthAdjust="spacingAndGlyphs">10</text>
<text x="147.90" y="377.80" font-size="9.63" text-anchor="middle" style="" fill="#111" textLength="11.45" lengthAdjust="spacingAndGlyphs">18</text>
<text x="166.30" y="387.70" font-size="9.63" text-anchor="middle" style="" fill="#111" textLength="11.45" lengthAdjust="spacingAndGlyphs">10</text>
<text x="157.00" y="394.90" font-size="9.63" text-anchor="middle" style="" fill="#111" textLength="5.73" lengthAdjust="spacingAndGlyphs">6</text>
<text x="161.50" y="400.90" font-size="9.63" text-anchor="middle" style="" fill="#111" textLength="5.73" lengthAdjust="spacingAndGlyphs">0</text>
<text x="166.00" y="418.50" font-size="9.63" text-anchor="middle" style="" fill="#111" textLength="8.97" lengthAdjust="spacingAndGlyphs">-4</text>
<text x="184.90" y="397.30" font-size="9.63" text-anchor="middle" style="" fill="#111" textLength="11.45" lengthAdjust="spacingAndGlyphs">10</text>
<text x="184.90" y="412.60" font-size="9.63" text-anchor="middle" style="" fill="#111" textLength="5.73" lengthAdjust="spacingAndGlyphs">6</text>
<text x="241.40" y="363.70" font-size="9.63" text-anchor="middle" style="" fill="#111" textLength="5.73" lengthAdjust="spacingAndGlyphs">6</text>
<text x="262.60" y="353.50" font-size="9.63" text-anchor="middle" style="" fill="#111" textLength="11.45" lengthAdjust="spacingAndGlyphs">18</text>
<text x="201.30" y="406.10" font-size="9.63" text-anchor="middle" style="" fill="#111" textLength="11.45" lengthAdjust="spacingAndGlyphs">18</text>
<text x="257.50" y="392.90" font-size="9.63" text-anchor="middle" style="" fill="#111" textLength="5.73" lengthAdjust="spacingAndGlyphs">0</text>
<text x="213.70" y="440.40" font-size="9.63" text-anchor="middle" style="" fill="#111" textLength="11.45" lengthAdjust="spacingAndGlyphs">14</text>
<circle cx="182.2" cy="350.5" r="89.2" fill="none" stroke="#000" stroke-width="1.6"/>
<text x="182.20" y="253.70" font-size="9.63" text-anchor="middle" style="" fill="#1a1a1a" textLength="30.58" lengthAdjust="spacingAndGlyphs">180°W</text>
<text x="181.40" y="453.50" font-size="9.63" text-anchor="middle" style="" fill="#1a1a1a" textLength="10.23" lengthAdjust="spacingAndGlyphs">0°</text>
<text x="98.80" y="306.20" font-size="9.63" text-anchor="end" style="" fill="#1a1a1a" textLength="30.58" lengthAdjust="spacingAndGlyphs">120°W</text>
<text x="98.80" y="401.50" font-size="9.63" text-anchor="end" style="" fill="#1a1a1a" textLength="24.85" lengthAdjust="spacingAndGlyphs">60°W</text>
<text x="265.10" y="306.20" font-size="9.63" text-anchor="start" style="" fill="#1a1a1a" textLength="27.37" lengthAdjust="spacingAndGlyphs">120°E</text>
<text x="264.70" y="401.90" font-size="9.63" text-anchor="start" style="" fill="#1a1a1a" textLength="21.64" lengthAdjust="spacingAndGlyphs">60°E</text>
<clipPath id="clipe"><circle cx="182.2" cy="582.4" r="89.2"/></clipPath>
<g clip-path="url(#clipe)">
<path fill="#f0b048" stroke="#f0b048" stroke-width="0.5" fill-rule="evenodd" d="M245.8,623.2 249.0,623.2 251.9,624.2 255.1,628.2 255.8,630.2 255.4,632.2 252.0,636.4 250.0,636.5 243.9,633.2 241.8,631.2 241.5,629.2 242.0,627.6 244.0,624.7 245.8,623.2Z"/>
<path fill="#f1b84e" stroke="#f1b84e" stroke-width="0.5" fill-rule="evenodd" d="M243.8,620.2 247.0,619.2 253.0,620.3 255.0,622.1 257.9,627.2 258.7,630.2 258.2,633.2 255.0,638.0 253.0,639.6 251.0,640.0 249.0,639.3 242.0,634.4 239.4,631.2 239.0,629.2 239.4,627.2 241.8,622.2 243.8,620.2ZM246.0,623.1 244.0,624.7 242.0,627.6 241.5,629.2 241.8,631.2 243.9,633.2 250.0,636.5 252.0,636.4 255.4,632.2 255.8,630.2 255.1,628.2 251.9,624.2 249.3,623.2 246.0,623.1Z"/>
<path fill="#f2da88" stroke="#f2da88" stroke-width="0.5" fill-rule="evenodd" d="M243.5,617.2 247.0,616.4 254.7,618.2 256.7,620.2 259.9,626.2 260.8,630.2 260.3,633.2 256.2,639.2 253.0,641.4 250.0,641.7 248.0,640.8 241.0,635.9 237.2,631.2 236.7,628.2 238.6,622.2 240.5,619.2 243.5,617.2ZM244.0,620.0 242.0,621.9 239.9,626.2 239.0,629.2 239.4,631.2 242.0,634.4 249.0,639.3 251.0,640.0 253.0,639.6 255.0,638.0 258.2,633.2 258.7,630.2 257.9,627.2 255.0,622.1 253.0,620.3 247.0,619.2 244.0,620.0Z"/>
<path fill="#f3f3b8" stroke="#f3f3b8" stroke-width="0.5" fill-rule="evenodd" d="M99.0,548.2 100.9,548.2 101.5,549.2 101.4,551.2 101.0,552.2 100.0,552.6 99.0,552.3 98.4,551.2 98.2,550.2 99.0,548.2ZM243.3,614.2 247.0,613.4 256.0,616.1 258.0,618.2 262.2,626.2 262.6,630.2 261.6,634.2 257.0,640.3 253.0,642.9 249.0,643.0 242.0,638.9 232.4,629.2 232.1,628.2 237.2,618.2 239.4,616.2 243.3,614.2ZM244.0,617.0 241.0,618.7 239.0,621.4 236.9,627.2 237.2,631.2 241.0,635.9 248.0,640.8 250.0,641.7 253.0,641.4 256.2,639.2 260.3,633.2 260.8,630.2 260.0,626.5 256.7,620.2 255.0,618.4 247.0,616.4 244.0,617.0Z"/>
<path fill="#ffffff" stroke="#ffffff" stroke-width="0.5" fill-rule="evenodd" d="M104.9,541.2 109.0,540.6 113.3,542.2 115.9,545.2 115.8,548.2 113.0,551.2 111.0,551.6 107.0,550.6 106.0,550.9 102.6,555.2 101.0,556.0 99.0,555.7 97.4,554.2 96.4,552.2 96.0,549.2 96.6,547.2 99.0,544.1 104.9,541.2ZM99.0,548.2 98.2,550.2 98.4,551.2 99.0,552.3 100.0,552.6 101.0,552.2 101.4,551.2 101.5,549.2 100.9,548.2 99.0,548.2ZM252.2,558.2 253.0,557.3 254.0,557.4 256.0,561.5 261.0,562.6 262.9,564.2 263.7,568.2 263.0,570.1 262.0,571.0 261.0,571.3 259.0,570.5 252.9,565.2 251.9,562.2 252.2,558.2ZM229.0,599.2 230.0,598.5 232.0,599.0 236.9,605.2 238.0,608.0 241.0,604.6 243.0,604.2 246.0,604.8 252.0,609.0 257.0,610.7 261.2,615.2 266.0,626.0 265.6,632.2 263.8,636.2 258.6,642.2 255.0,644.8 251.0,646.6 247.0,646.1 239.0,641.3 233.8,636.2 222.0,631.5 219.0,628.5 217.8,625.2 217.9,620.2 212.8,611.2 213.2,608.2 214.7,605.2 216.0,604.2 224.0,603.5 226.3,602.2 229.0,599.2ZM244.0,613.8 239.4,616.2 237.2,618.2 232.1,628.2 232.4,629.2 241.0,638.2 248.0,642.6 252.0,643.2 257.0,640.3 261.6,634.2 262.6,630.2 262.2,626.2 258.0,618.2 256.0,616.1 247.0,613.4 244.0,613.8ZM223.0,617.0 220.7,618.2 219.1,620.2 219.8,621.2 222.1,622.2 226.0,622.1 227.0,621.2 227.0,619.2 225.0,617.2 223.0,617.0ZM150.8,632.2 154.1,632.2 161.0,634.9 165.0,635.4 166.6,636.2 167.2,637.2 167.1,639.2 164.4,643.2 165.0,645.2 164.7,646.2 160.0,646.7 155.0,650.2 152.0,650.1 149.0,648.3 148.0,646.2 146.2,637.2 147.6,634.2 150.8,632.2Z"/>
<path fill="#ddf4d4" stroke="#ddf4d4" stroke-width="0.5" fill-rule="evenodd" d="M106.9,538.2 111.0,538.3 115.0,539.4 119.4,544.2 119.9,545.2 119.8,547.2 117.0,552.3 114.0,554.9 111.0,555.3 106.0,554.5 102.0,556.9 99.0,556.9 97.0,555.2 95.5,552.2 95.1,549.2 96.0,546.2 100.1,540.2 102.0,539.2 106.9,538.2ZM105.0,541.2 99.0,544.1 96.6,547.2 96.0,549.2 96.4,552.2 97.4,554.2 99.0,555.7 101.0,556.0 102.6,555.2 106.0,550.9 107.0,550.6 111.0,551.6 113.0,551.2 115.8,548.2 115.9,545.2 113.3,542.2 109.0,540.6 105.0,541.2ZM152.3,541.2 158.0,540.6 162.0,541.5 164.0,542.8 166.0,545.2 170.3,547.2 170.5,548.2 169.8,549.2 168.0,549.9 164.0,547.8 162.0,547.7 160.0,549.2 157.0,554.8 155.0,555.8 153.0,555.5 151.0,553.0 150.4,550.2 150.4,543.2 151.0,541.8 152.3,541.2ZM233.3,542.2 234.4,542.2 234.5,543.2 233.4,543.2 233.3,542.2ZM256.8,549.2 258.0,548.6 260.0,549.0 264.2,552.2 264.8,554.2 264.4,558.2 266.7,566.2 266.8,569.2 266.0,572.2 264.0,574.8 261.0,576.6 259.0,575.8 255.0,572.0 250.0,570.9 247.8,565.2 247.8,562.2 249.4,554.2 256.8,549.2ZM253.0,557.3 252.0,558.7 251.8,560.2 252.0,562.9 252.9,565.2 259.0,570.5 261.0,571.3 262.0,571.0 263.0,570.1 263.7,568.2 262.9,564.2 261.0,562.6 256.0,561.5 254.0,557.4 253.0,557.3ZM191.6,570.2 193.0,569.9 195.0,570.5 196.3,573.2 196.2,575.2 191.5,583.2 189.0,584.3 186.0,583.8 183.1,581.2 182.8,580.2 183.4,578.2 186.0,574.2 191.6,570.2ZM174.3,573.2 176.6,573.2 178.3,574.2 180.2,580.2 177.8,583.2 174.0,586.0 173.0,585.8 172.1,584.2 172.3,581.2 171.4,577.2 172.1,575.2 174.3,573.2ZM259.4,581.2 261.0,581.1 261.3,582.2 261.0,583.3 259.0,584.1 258.1,583.2 259.4,581.2ZM222.5,584.2 224.4,584.2 226.4,588.2 229.0,589.9 233.0,590.9 238.0,590.7 240.0,591.6 245.1,597.2 251.3,600.2 254.3,604.2 259.6,608.2 263.3,613.2 265.0,619.2 267.9,626.2 268.0,629.2 266.8,634.2 265.0,637.1 259.4,643.2 251.0,648.7 247.0,648.6 237.4,645.2 234.9,640.2 233.0,638.0 229.0,636.0 222.0,634.1 219.1,632.2 211.6,620.2 207.9,612.2 203.5,607.2 201.2,600.2 202.0,597.9 205.0,597.5 210.0,599.1 216.0,596.7 221.0,599.0 222.8,598.2 223.0,597.2 220.7,594.2 220.2,592.2 221.3,586.2 222.5,584.2ZM229.0,599.2 226.3,602.2 224.0,603.5 216.0,604.2 214.7,605.2 213.2,608.2 212.8,611.2 217.9,620.2 217.8,625.2 219.0,628.5 222.0,631.5 233.8,636.2 239.0,641.3 247.0,646.1 251.0,646.6 255.0,644.8 258.6,642.2 263.8,636.2 265.6,632.2 266.0,626.0 261.2,615.2 257.0,610.7 252.0,609.0 246.0,604.8 243.0,604.2 241.0,604.6 238.0,608.0 236.9,605.2 232.0,599.0 230.0,598.5 229.0,599.2ZM198.3,592.2 199.0,591.4 199.9,592.2 199.0,593.0 198.3,592.2ZM222.5,617.2 225.0,617.2 227.0,619.2 227.0,621.2 226.0,622.1 223.0,622.4 219.8,621.2 219.1,620.2 219.7,619.2 222.5,617.2ZM153.1,629.2 162.0,629.2 167.0,630.8 170.0,633.1 171.3,637.2 170.9,642.2 171.6,647.2 170.5,649.2 157.0,653.8 150.0,652.8 144.8,650.2 142.3,641.2 142.8,637.2 146.0,632.0 149.0,630.3 153.1,629.2ZM151.0,632.1 147.6,634.2 146.2,637.2 148.0,646.2 149.0,648.3 152.0,650.1 155.0,650.2 160.0,646.7 164.7,646.2 165.0,645.2 164.4,643.2 167.1,639.2 167.2,637.2 166.6,636.2 165.0,635.4 161.0,634.9 155.0,632.4 151.0,632.1Z"/>
<path fill="#c4eab8" stroke="#c4eab8" stroke-width="0.5" fill-rule="evenodd" d="M108.0,536.2 112.0,536.2 116.0,537.5 122.8,544.2 122.8,547.2 119.7,553.2 117.0,556.2 115.3,557.2 113.0,557.6 106.0,557.2 101.0,558.3 99.0,558.1 96.6,556.2 94.5,552.2 94.0,549.2 94.6,546.2 97.4,540.2 99.0,538.3 101.0,537.4 108.0,536.2ZM107.0,538.2 102.0,539.2 100.1,540.2 96.0,546.2 95.1,549.2 95.5,552.2 97.0,555.2 99.0,556.9 102.0,556.9 106.0,554.5 111.0,555.3 114.0,554.9 117.0,552.3 119.8,547.2 119.9,545.2 119.4,544.2 115.0,539.4 111.0,538.3 107.0,538.2ZM151.9,536.2 157.0,535.3 161.0,536.0 169.0,540.2 174.0,541.2 182.0,546.0 187.0,550.9 191.0,553.0 191.8,554.2 191.6,557.2 188.8,561.2 189.4,563.2 191.0,564.3 196.0,564.4 198.7,565.2 200.0,566.6 202.1,571.2 211.0,577.6 216.0,579.4 226.0,579.6 231.0,580.8 235.0,578.6 239.0,574.0 244.0,571.5 244.9,570.2 245.0,564.2 246.2,558.2 246.1,553.2 247.2,551.2 251.4,548.2 251.7,546.2 251.3,543.2 251.8,542.2 254.0,541.5 260.0,543.8 267.0,552.2 267.9,558.2 269.8,564.2 269.7,571.2 266.1,578.2 265.6,584.2 264.0,586.8 258.0,591.1 254.0,588.4 251.0,588.0 249.0,589.5 248.2,592.2 249.3,594.2 255.0,597.9 258.0,601.8 262.2,604.2 266.6,611.2 267.2,613.2 267.0,618.2 269.6,624.2 270.5,628.2 269.7,633.2 267.5,637.2 260.8,644.2 251.0,652.0 244.0,651.7 241.0,652.2 236.0,657.9 232.0,659.2 229.0,659.0 227.3,657.2 226.0,654.2 225.7,648.2 227.0,645.6 231.0,643.2 231.5,642.2 231.2,640.2 228.3,638.2 223.0,636.9 220.0,635.4 213.6,629.2 207.0,621.5 201.4,618.2 199.3,610.2 194.0,603.3 189.2,594.2 186.0,592.1 182.0,592.6 180.2,594.2 179.1,598.2 172.5,608.2 173.7,612.2 173.0,614.2 172.0,615.1 168.0,616.0 166.3,615.2 165.0,613.6 164.0,613.6 164.0,617.2 163.0,619.1 159.0,618.9 157.0,617.7 154.7,613.2 154.7,607.2 157.5,601.2 159.5,593.2 159.6,587.2 162.1,584.2 163.2,581.2 162.5,579.2 157.4,576.2 155.9,574.2 158.0,568.5 161.4,565.2 161.2,563.2 159.6,561.2 158.0,560.4 152.0,560.0 150.0,559.3 147.4,553.2 147.0,547.8 145.5,540.2 147.0,538.0 151.9,536.2ZM153.0,541.1 151.0,541.8 150.4,544.2 150.7,552.2 153.0,555.5 155.0,555.8 157.0,554.8 160.0,549.2 162.0,547.7 164.0,547.8 168.0,549.9 169.8,549.2 170.5,548.2 170.3,547.2 166.0,545.2 164.0,542.8 162.0,541.5 158.0,540.6 153.0,541.1ZM175.0,573.0 173.0,574.0 171.4,577.2 172.3,581.2 172.1,584.2 173.0,585.8 174.0,586.0 177.8,583.2 180.2,580.2 178.3,574.2 175.0,573.0ZM178.0,551.6 176.6,553.2 176.8,554.2 179.0,555.1 180.0,554.2 180.1,552.2 179.0,551.4 178.0,551.6ZM192.0,570.0 186.0,574.2 183.4,578.2 182.8,580.2 183.1,581.2 186.0,583.8 189.0,584.3 191.5,583.2 196.2,575.2 196.3,573.2 195.6,571.2 194.0,570.0 192.0,570.0ZM199.0,591.4 198.3,592.2 199.0,593.0 199.9,592.2 199.0,591.4ZM223.0,583.9 221.7,585.2 220.2,591.2 220.7,594.2 223.0,597.2 222.8,598.2 221.0,599.0 216.0,596.7 210.0,599.1 205.0,597.5 202.0,597.9 201.2,600.2 203.5,607.2 207.9,612.2 211.6,620.2 219.1,632.2 222.0,634.1 229.0,636.0 233.0,638.0 234.9,640.2 237.4,645.2 247.0,648.6 251.0,648.7 259.4,643.2 265.0,637.1 266.8,634.2 268.0,629.2 267.9,626.2 265.0,619.2 263.3,613.2 259.6,608.2 254.3,604.2 251.3,600.2 245.1,597.2 240.0,591.6 238.0,590.7 233.0,590.9 229.0,589.9 226.4,588.2 224.4,584.2 223.0,583.9ZM232.0,582.9 230.8,584.2 231.0,585.6 232.0,586.3 233.6,585.2 233.0,583.4 232.0,582.9ZM257.0,549.1 249.4,554.2 247.8,562.2 247.8,565.2 250.0,570.9 255.0,572.0 259.0,575.8 261.0,576.6 264.0,574.8 266.0,572.2 266.8,569.2 266.7,566.2 264.4,558.2 264.8,554.2 264.2,552.2 260.0,549.0 258.0,548.6 257.0,549.1ZM260.0,580.9 258.3,582.2 258.1,583.2 259.0,584.1 261.1,583.2 261.0,581.2 260.0,580.9ZM230.3,537.2 234.0,536.7 237.0,537.5 241.8,540.2 243.6,542.2 243.6,543.2 241.9,545.2 239.0,547.0 231.0,547.7 229.0,545.3 227.8,540.2 228.6,538.2 230.3,537.2ZM234.0,542.0 233.3,542.2 233.4,543.2 234.0,543.4 234.5,543.2 234.0,542.0ZM156.8,621.2 160.0,621.4 164.0,620.4 172.0,630.7 174.0,636.2 174.9,650.2 173.0,652.7 167.0,653.7 165.3,655.2 165.2,657.2 167.1,662.2 167.3,664.2 165.8,666.2 162.1,668.2 159.0,669.1 154.0,668.1 150.0,669.0 139.0,668.4 137.2,667.2 136.0,665.2 135.9,663.2 137.0,660.5 139.0,659.0 142.0,659.9 144.0,659.7 146.0,658.2 146.3,657.2 145.0,655.9 140.0,655.2 135.7,651.2 135.4,649.2 138.2,644.2 138.9,637.2 143.4,629.2 150.0,626.0 154.2,622.2 156.8,621.2ZM154.0,629.2 151.0,629.6 147.0,631.3 144.9,633.2 143.2,636.2 142.3,641.2 144.8,650.2 150.0,652.8 157.0,653.8 170.5,649.2 171.6,647.2 170.9,642.2 171.3,637.2 170.0,633.1 167.0,630.8 162.0,629.2 154.0,629.2Z"/>
<path fill="#9cd8b8" stroke="#9cd8b8" stroke-width="0.5" fill-rule="evenodd" d="M156.8,532.2 162.0,531.3 164.7,532.2 170.0,535.6 176.0,536.1 178.0,535.9 182.0,533.2 184.2,533.2 187.0,536.7 190.6,544.2 205.0,567.8 212.0,571.6 214.4,571.2 218.0,568.8 222.7,575.2 225.0,576.0 231.0,576.1 234.0,575.1 239.3,569.2 243.3,559.2 242.0,554.6 239.8,551.2 236.0,550.3 230.0,551.8 228.0,550.8 226.5,549.2 224.5,546.2 223.4,541.2 223.9,538.2 225.3,536.2 228.0,534.7 234.0,533.3 237.0,533.7 242.0,535.9 250.0,533.7 252.0,533.8 255.0,535.5 263.1,542.2 268.6,550.2 270.6,557.2 273.0,560.9 273.0,573.1 271.4,576.2 269.5,584.2 268.0,587.2 260.1,597.2 260.7,598.2 264.0,599.0 266.0,600.6 267.3,606.2 273.0,613.9 273.0,616.4 271.7,619.2 273.0,624.7 273.0,635.9 271.0,638.1 266.6,641.2 264.0,646.8 257.0,649.8 253.5,655.2 251.0,657.1 242.0,659.6 236.0,663.8 228.0,664.2 226.0,662.3 221.9,653.2 221.4,646.2 219.6,638.2 215.0,633.8 205.0,629.2 201.0,624.9 198.0,623.7 194.0,623.7 193.5,623.2 191.9,619.2 193.7,614.2 193.7,611.2 191.0,607.3 189.0,602.5 187.0,600.7 185.0,600.2 183.0,601.0 180.5,603.2 179.9,605.2 180.5,608.2 180.0,609.7 177.0,613.6 175.0,617.5 172.0,619.6 171.0,621.2 171.6,623.2 174.5,627.2 177.0,634.7 180.7,637.2 181.1,638.2 179.7,642.2 180.0,649.2 181.1,655.2 178.6,659.2 178.4,663.2 177.6,665.2 163.0,671.6 160.0,672.1 155.0,671.8 151.0,673.2 145.0,671.7 135.0,671.5 133.0,670.4 130.4,667.2 129.6,665.2 130.2,663.2 134.0,657.2 134.0,655.2 131.7,651.2 131.5,649.2 134.7,643.2 134.9,634.2 143.5,624.2 143.8,622.2 143.1,619.2 145.0,615.2 145.3,610.2 150.0,606.1 152.5,602.2 153.5,599.2 153.0,595.6 151.0,593.2 149.0,592.4 145.0,592.6 141.0,591.9 139.5,591.2 139.2,590.2 139.4,587.2 140.9,585.2 147.0,583.2 147.8,582.2 150.3,572.2 152.8,568.2 153.6,565.2 153.0,564.5 151.0,565.0 146.0,568.4 145.0,568.5 143.5,567.2 143.1,565.2 144.5,562.2 144.3,560.2 140.8,557.2 139.6,555.2 140.4,544.2 142.2,537.2 143.9,535.2 150.0,532.6 156.8,532.2ZM231.0,537.0 228.6,538.2 227.8,540.2 229.0,545.3 231.0,547.7 239.0,547.0 241.9,545.2 243.6,543.2 243.6,542.2 241.8,540.2 237.0,537.5 234.0,536.7 231.0,537.0ZM152.0,536.2 147.0,538.0 145.5,540.2 147.0,547.8 147.4,553.2 150.0,559.3 152.0,560.0 158.0,560.4 159.6,561.2 161.2,563.2 161.4,565.2 158.0,568.5 155.9,574.2 157.4,576.2 162.5,579.2 163.2,581.2 162.1,584.2 159.6,587.2 159.5,593.2 157.5,601.2 154.7,607.2 154.7,613.2 157.0,617.7 159.0,618.9 163.0,619.1 164.0,617.2 164.0,613.6 165.0,613.6 166.3,615.2 168.0,616.0 172.0,615.1 173.0,614.2 173.7,612.2 172.5,608.2 179.1,598.2 180.2,594.2 182.0,592.6 186.0,592.1 189.2,594.2 194.0,603.3 199.3,610.2 201.4,618.2 207.0,621.5 213.6,629.2 220.0,635.4 223.0,636.9 228.3,638.2 231.2,640.2 231.5,642.2 231.0,643.2 227.0,645.6 225.7,648.2 226.0,654.2 227.3,657.2 229.0,659.0 232.0,659.2 236.0,657.9 241.0,652.2 244.0,651.7 251.0,652.0 260.8,644.2 267.5,637.2 269.7,633.2 270.5,628.2 269.6,624.2 267.0,618.2 267.2,613.2 266.6,611.2 262.2,604.2 258.0,601.8 255.0,597.9 249.3,594.2 248.2,592.2 249.0,589.5 251.0,588.0 254.0,588.4 258.0,591.1 264.0,586.8 265.6,584.2 266.1,578.2 269.7,571.2 269.8,564.2 267.9,558.2 267.0,552.2 260.0,543.8 254.0,541.5 251.8,542.2 251.3,543.2 251.7,546.2 251.4,548.2 247.2,551.2 246.1,553.2 246.2,558.2 245.0,564.2 244.9,570.2 244.0,571.5 239.0,574.0 235.0,578.6 231.0,580.8 226.0,579.6 216.0,579.4 211.0,577.6 202.1,571.2 200.0,566.6 198.7,565.2 196.0,564.4 191.0,564.3 189.4,563.2 188.8,561.2 191.6,557.2 191.8,554.2 191.0,553.0 187.0,550.9 182.0,546.0 174.0,541.2 169.0,540.2 161.0,536.0 157.0,535.3 152.0,536.2ZM157.0,621.2 155.0,621.6 150.0,626.0 143.4,629.2 138.9,637.2 138.2,644.2 135.4,649.2 135.7,651.2 140.0,655.2 145.0,655.9 146.3,657.2 146.0,658.2 144.0,659.7 142.0,659.9 139.0,659.0 137.0,660.5 135.9,663.2 136.0,665.2 137.2,667.2 139.0,668.4 150.0,669.0 154.0,668.1 159.0,669.1 162.1,668.2 165.8,666.2 167.3,664.2 167.1,662.2 165.2,657.2 165.3,655.2 167.0,653.7 173.0,652.7 174.9,650.2 174.0,636.2 172.0,630.7 164.0,620.4 160.0,621.4 157.0,621.2ZM108.0,534.2 112.0,533.9 117.0,536.0 121.0,540.1 125.4,543.2 125.8,546.2 122.2,554.2 119.0,557.8 117.0,559.0 107.0,559.8 99.0,559.5 96.0,557.3 92.5,551.2 91.6,548.2 92.4,545.2 95.6,539.2 98.0,536.6 100.0,535.7 108.0,534.2ZM108.0,536.2 101.0,537.4 99.0,538.3 97.4,540.2 94.6,546.2 94.0,549.2 94.5,552.2 96.6,556.2 99.0,558.1 101.0,558.3 106.0,557.2 113.0,557.6 115.3,557.2 117.0,556.2 119.7,553.2 122.8,547.2 122.8,544.2 116.0,537.5 112.0,536.2 108.0,536.2ZM177.1,552.2 179.0,551.4 180.0,552.1 180.0,554.3 179.0,555.1 177.0,554.4 176.6,553.2 177.1,552.2ZM231.5,583.2 232.0,582.9 233.5,584.2 233.0,586.0 232.0,586.3 230.8,585.2 231.5,583.2Z"/>
<path fill="#74cac8" stroke="#74cac8" stroke-width="0.5" fill-rule="evenodd" d="M91.0,491.2 95.6,491.2 97.0,492.8 101.0,493.1 103.0,494.2 104.3,502.2 105.4,505.2 105.1,507.2 103.0,506.5 100.0,503.3 96.0,496.3 94.0,496.8 91.3,500.2 91.4,501.2 93.7,504.2 93.0,505.2 91.0,505.6 91.0,491.2ZM172.7,491.2 176.7,491.2 175.0,492.4 172.7,491.2ZM245.6,491.2 252.0,491.2 249.9,495.2 247.0,496.4 245.5,495.2 245.6,491.2ZM268.4,491.2 273.0,491.2 273.0,494.1 270.0,493.5 268.4,491.2ZM271.8,499.2 273.0,498.8 273.0,507.3 270.3,506.2 269.2,504.2 269.6,501.2 271.8,499.2ZM101.5,519.2 103.0,518.3 104.1,519.2 102.0,521.4 100.8,521.2 101.5,519.2ZM271.9,520.2 273.0,519.6 273.0,524.0 271.2,522.2 271.9,520.2ZM259.9,523.2 262.7,523.2 263.5,525.2 262.0,526.4 260.0,526.3 259.1,525.2 259.9,523.2ZM228.6,525.2 231.2,525.2 235.0,528.7 243.0,531.8 251.0,530.2 254.0,530.7 257.0,532.5 262.0,537.0 267.0,537.7 272.1,540.2 273.0,541.2 271.1,546.2 273.0,554.4 273.0,560.9 270.6,557.2 268.6,550.2 263.9,543.2 253.0,534.2 250.0,533.7 242.0,535.9 237.0,533.7 234.0,533.3 228.0,534.7 225.3,536.2 223.9,538.2 223.4,541.2 224.5,546.2 226.5,549.2 228.0,550.8 230.0,551.8 236.0,550.3 239.8,551.2 241.4,553.2 243.3,558.2 242.8,561.2 240.5,565.2 239.3,569.2 235.0,574.2 232.0,576.0 225.0,576.0 223.0,575.4 218.0,568.8 214.4,571.2 212.0,571.6 205.0,567.8 190.6,544.2 186.0,535.1 184.0,533.1 182.0,533.2 178.0,535.9 172.0,535.9 169.0,535.1 164.0,531.9 161.0,531.3 155.0,532.5 150.0,532.6 143.0,535.9 140.6,543.2 139.6,554.2 140.0,556.2 144.3,560.2 144.5,562.2 143.1,566.2 144.0,567.9 145.0,568.5 152.0,564.6 153.0,564.5 153.6,565.2 152.8,568.2 150.3,572.2 147.8,582.2 147.0,583.2 140.9,585.2 139.4,587.2 139.2,590.2 139.5,591.2 141.0,591.9 145.0,592.6 149.0,592.4 151.0,593.2 153.0,595.6 153.5,599.2 152.5,602.2 150.0,606.1 145.3,610.2 145.0,615.2 143.1,619.2 143.8,622.2 143.5,624.2 134.9,634.2 134.7,643.2 131.5,649.2 131.7,651.2 134.0,655.2 134.0,657.2 130.2,663.2 129.6,665.2 131.1,668.2 134.0,671.2 145.0,671.7 149.7,673.2 128.9,673.2 126.0,669.4 123.0,667.9 120.7,669.2 118.4,673.2 109.3,673.2 112.6,670.2 112.9,668.2 112.0,666.3 109.0,663.0 105.0,662.0 102.6,660.2 102.9,654.2 102.0,651.5 100.0,650.8 96.0,651.9 94.5,650.2 94.4,648.2 97.0,646.4 102.0,647.3 107.0,646.8 112.9,650.2 113.6,651.2 112.9,655.2 114.0,656.2 119.0,656.6 121.2,655.2 121.8,653.2 121.0,651.3 115.6,649.2 115.2,646.2 113.0,641.2 112.8,639.2 115.5,635.2 118.0,633.0 130.0,628.4 133.4,625.2 131.0,619.2 132.9,614.2 135.0,605.2 134.7,604.2 130.1,599.2 129.5,597.2 132.0,593.3 133.4,588.2 139.2,581.2 139.0,579.2 135.5,576.2 135.6,575.2 139.4,573.2 140.1,572.2 140.2,570.2 138.0,562.1 136.0,560.9 133.3,561.2 131.6,563.2 129.8,568.2 130.5,574.2 129.2,578.2 130.2,583.2 129.7,585.2 128.0,585.8 126.0,585.5 119.0,582.3 114.0,583.3 112.9,581.2 114.0,579.2 117.0,578.1 121.0,577.8 123.3,576.2 124.0,570.2 126.5,566.2 126.0,563.2 127.3,559.2 127.0,557.2 126.0,556.6 125.0,556.8 121.0,560.5 117.0,562.0 111.0,562.0 107.0,563.2 97.0,561.6 93.0,556.5 91.0,555.0 91.0,540.1 98.0,533.8 105.0,532.7 111.0,530.7 113.0,531.2 117.0,533.8 123.0,538.9 132.0,541.9 135.0,541.3 137.8,539.2 139.6,533.2 140.9,531.2 149.0,527.7 155.0,528.8 161.0,527.9 165.2,529.2 171.0,532.0 173.0,532.3 177.0,531.5 182.0,528.8 186.0,528.6 188.5,530.2 191.4,538.2 193.0,540.7 196.0,544.2 201.0,547.9 205.0,554.6 207.9,562.2 210.0,563.9 213.0,564.6 217.8,562.2 218.6,557.2 221.0,554.6 222.0,554.4 222.9,555.2 225.0,558.8 227.3,559.2 229.8,558.2 229.5,557.2 222.0,552.7 215.0,546.2 217.0,539.1 220.2,535.2 222.0,530.4 227.0,528.3 228.6,525.2ZM235.0,554.8 233.3,557.2 235.0,558.6 237.0,558.9 237.7,558.2 237.5,556.2 237.0,555.2 235.0,554.8ZM143.0,597.8 141.1,599.2 139.1,602.2 138.9,603.2 139.9,604.2 142.0,604.5 145.0,604.0 147.0,602.8 148.2,601.2 148.0,598.2 146.0,597.5 143.0,597.8ZM128.0,642.0 128.0,642.6 129.3,642.2 129.0,641.3 128.0,642.0ZM109.0,534.0 100.0,535.7 98.0,536.6 95.6,539.2 92.4,545.2 91.6,548.2 92.0,550.2 95.3,556.2 98.0,559.1 106.0,559.8 116.0,559.4 119.6,557.2 123.4,552.2 125.8,546.2 125.4,543.2 121.0,540.1 116.0,535.4 112.0,533.9 109.0,534.0ZM128.0,551.1 128.0,552.2 129.0,552.5 130.1,551.2 129.0,550.3 128.0,551.1ZM272.9,573.2 273.0,585.5 269.3,590.2 268.2,594.2 268.5,596.2 271.1,600.2 270.9,605.2 273.0,607.8 273.0,613.9 267.3,606.2 266.0,600.6 264.0,599.0 260.7,598.2 260.1,597.2 268.7,586.2 271.4,576.2 272.9,573.2ZM91.0,578.2 91.0,577.7 92.0,578.9 92.8,581.2 92.4,582.2 91.0,582.6 91.0,578.2ZM97.0,587.2 98.0,586.5 101.0,587.1 102.2,588.2 102.3,590.2 101.0,591.0 98.5,590.2 97.4,589.2 97.0,587.2ZM184.9,600.2 187.0,600.7 189.0,602.5 191.0,607.3 193.7,611.2 193.7,614.2 191.9,619.2 193.5,623.2 194.0,623.7 198.0,623.7 201.0,624.9 205.0,629.2 215.0,633.8 219.6,638.2 221.4,646.2 221.9,653.2 226.0,662.3 228.0,664.2 236.0,663.8 242.0,659.6 252.0,656.6 257.0,649.8 264.0,646.8 266.6,641.2 271.0,638.1 273.0,635.9 273.0,647.7 270.0,648.6 268.0,650.0 265.7,652.2 264.0,655.3 259.0,656.3 256.9,658.2 256.0,660.2 255.4,666.2 261.1,668.2 262.4,670.2 262.9,673.2 255.7,673.2 255.0,666.2 250.0,663.6 243.0,664.2 241.7,665.2 240.1,669.2 239.0,670.1 234.0,669.1 229.0,669.2 226.0,668.0 223.7,665.2 218.9,654.2 218.6,648.2 216.9,644.2 216.0,638.2 214.0,636.7 207.0,635.5 202.0,638.7 199.0,639.3 195.8,638.2 194.0,635.9 192.0,635.6 191.1,636.2 191.5,643.2 190.5,648.2 191.3,657.2 191.9,658.2 199.7,661.2 201.3,663.2 201.2,665.2 196.7,670.2 197.1,673.2 189.1,673.2 188.6,672.2 187.0,671.6 184.0,672.2 182.4,673.2 176.1,673.2 173.0,672.3 168.0,673.2 150.9,673.2 155.0,671.8 160.0,672.1 163.0,671.6 176.1,666.2 178.2,664.2 178.6,659.2 181.1,655.2 180.0,649.2 179.7,642.2 181.1,638.2 180.7,637.2 177.0,634.7 174.5,627.2 171.6,623.2 171.0,621.2 172.0,619.6 175.0,617.5 177.0,613.6 180.0,609.7 180.5,608.2 179.9,605.2 180.5,603.2 183.0,601.0 184.9,600.2ZM91.0,610.2 93.0,611.5 95.2,618.2 95.0,619.5 94.0,619.9 91.0,618.3 91.0,610.2ZM272.6,617.2 273.0,616.4 273.0,624.7 271.7,620.2 272.6,617.2ZM94.4,629.2 96.0,628.7 98.0,629.2 100.0,631.0 101.0,633.2 100.2,636.2 96.0,638.8 94.0,638.4 92.7,637.2 93.3,631.2 94.4,629.2ZM267.4,658.2 270.1,659.2 270.1,660.2 269.0,660.7 267.1,660.2 266.6,659.2 267.4,658.2ZM214.5,670.2 216.0,669.3 217.0,670.0 218.6,673.2 213.6,673.2 214.5,670.2Z"/>
<path fill="#72c4c8" stroke="#72c4c8" stroke-width="0.5" fill-rule="evenodd" d="M95.6,491.2 124.6,491.2 125.3,492.2 127.0,492.6 128.0,491.2 137.1,491.2 135.9,495.2 132.2,499.2 129.7,503.2 127.0,505.3 122.7,507.2 123.2,512.2 122.7,515.2 125.8,519.2 125.0,522.7 123.0,524.5 118.0,525.5 116.2,527.2 116.2,529.2 117.6,531.2 122.0,534.9 124.0,535.7 125.4,535.2 128.5,532.2 133.0,530.5 136.0,528.2 142.0,526.4 147.0,523.8 151.0,523.3 160.0,524.1 166.0,526.4 170.0,527.1 172.0,526.6 180.0,520.8 182.0,521.0 184.8,523.2 186.0,523.2 187.0,521.3 187.5,517.2 185.4,514.2 184.9,512.2 186.0,510.2 190.0,507.8 192.0,507.6 197.0,509.4 200.9,512.2 201.0,513.2 196.0,516.2 195.4,517.2 196.0,518.2 199.0,519.5 200.8,519.2 202.2,518.2 204.4,513.2 208.0,510.0 212.3,514.2 212.9,516.2 212.6,518.2 205.9,524.2 205.4,526.2 206.1,530.2 204.8,534.2 203.0,536.0 198.2,537.2 197.3,538.2 199.0,540.2 203.0,541.6 206.0,543.8 208.0,544.4 210.0,543.6 211.1,542.2 211.1,538.2 212.5,533.2 210.3,529.2 209.9,527.2 211.0,524.2 213.0,522.3 219.0,521.6 226.0,518.7 234.0,519.1 239.0,520.4 241.0,520.2 244.0,519.1 245.5,517.2 246.2,509.2 247.0,508.7 253.0,512.6 255.0,513.1 257.1,512.2 258.2,509.2 258.4,500.2 257.0,499.2 253.0,499.6 249.6,501.2 247.1,503.2 245.0,506.7 241.0,504.6 236.0,500.9 230.0,500.2 226.4,497.2 222.0,496.0 216.0,493.2 213.6,491.2 245.6,491.2 245.5,495.2 247.0,496.4 249.9,495.2 252.0,491.2 259.8,491.2 262.0,493.9 263.2,493.2 263.5,491.2 268.4,491.2 270.0,493.5 273.0,494.1 273.0,498.8 270.3,500.2 269.1,503.2 270.3,506.2 273.0,507.3 273.0,519.6 271.9,520.2 271.2,522.2 273.0,524.0 273.0,554.4 271.1,547.2 271.3,545.2 273.0,541.2 272.1,540.2 267.0,537.7 262.0,537.0 257.0,532.5 254.0,530.7 251.0,530.2 245.0,531.7 242.0,531.5 235.0,528.7 232.0,525.6 230.0,525.0 228.0,525.7 227.1,528.2 226.0,529.0 223.0,529.6 222.0,530.4 220.2,535.2 217.0,539.1 215.0,546.2 222.0,552.7 229.5,557.2 229.8,558.2 227.3,559.2 225.0,558.8 222.9,555.2 222.0,554.4 221.0,554.6 218.6,557.2 217.8,562.2 213.0,564.6 210.0,563.9 207.9,562.2 205.0,554.6 201.0,547.9 196.0,544.2 193.0,540.7 191.4,538.2 188.5,530.2 186.0,528.6 182.0,528.8 177.0,531.5 173.0,532.3 171.0,532.0 165.2,529.2 161.0,527.9 155.0,528.8 149.0,527.7 140.9,531.2 139.6,533.2 137.8,539.2 135.0,541.3 132.0,541.9 123.0,538.9 117.0,533.8 113.0,531.2 111.0,530.7 105.0,532.7 98.0,533.8 91.0,540.1 91.0,535.3 92.0,534.2 92.3,532.2 91.0,529.9 91.0,505.6 93.0,505.2 93.7,504.2 91.4,501.2 91.3,500.2 94.0,496.8 96.0,496.3 99.2,502.2 102.0,505.5 104.0,507.2 105.0,507.3 105.6,506.2 104.3,502.2 103.0,494.2 101.0,493.1 97.0,492.8 95.6,491.2ZM213.0,551.7 211.2,554.2 211.8,556.2 213.0,556.6 215.0,555.5 216.1,553.2 215.0,551.6 213.0,551.7ZM260.0,523.1 259.1,524.2 259.8,526.2 262.0,526.4 263.0,525.9 263.5,524.2 263.0,523.5 262.0,522.9 260.0,523.1ZM102.0,518.9 100.7,520.2 101.0,521.4 103.0,520.8 104.1,519.2 103.0,518.3 102.0,518.9ZM144.9,491.2 160.0,491.2 158.6,495.2 156.0,496.2 151.0,494.6 146.0,494.6 144.9,491.2ZM167.4,491.2 172.7,491.2 175.0,492.4 176.7,491.2 193.6,491.2 192.0,494.6 191.0,494.9 186.0,491.9 184.0,491.4 180.8,494.2 173.0,498.0 171.0,497.4 170.0,496.2 167.4,491.2ZM127.9,551.2 129.0,550.3 130.1,551.2 129.0,552.5 128.0,552.2 127.9,551.2ZM91.0,555.2 93.0,556.5 97.0,561.6 102.0,562.0 106.0,563.2 111.0,562.0 118.0,561.8 121.0,560.5 125.0,556.8 126.0,556.6 127.0,557.2 127.3,559.2 126.0,563.2 126.5,566.2 124.0,570.2 123.3,576.2 121.0,577.8 117.0,578.1 114.0,579.2 112.9,581.2 114.0,583.3 119.0,582.3 126.0,585.5 128.0,585.8 129.7,585.2 130.2,583.2 129.2,578.2 130.5,574.2 129.8,568.2 131.6,563.2 133.3,561.2 136.0,560.9 138.0,562.1 140.2,570.2 140.1,572.2 139.4,573.2 135.6,575.2 135.5,576.2 139.0,579.2 139.2,581.2 133.4,588.2 132.0,593.3 129.5,597.2 130.1,599.2 134.7,604.2 135.0,605.2 132.9,614.2 131.0,619.2 133.4,625.2 130.0,628.4 118.0,633.0 115.5,635.2 112.8,639.2 113.0,641.2 115.2,646.2 115.6,649.2 121.0,651.3 121.8,653.2 121.2,655.2 119.0,656.6 114.0,656.2 112.9,655.2 113.6,651.2 112.9,650.2 107.0,646.8 102.0,647.3 97.0,646.4 94.4,648.2 94.5,650.2 96.0,651.9 100.0,650.8 102.0,651.5 102.9,654.2 102.6,660.2 105.0,662.0 109.0,663.0 112.0,666.3 112.9,668.2 112.6,670.2 109.3,673.2 91.0,673.2 91.0,618.3 94.0,619.9 95.0,619.5 95.2,618.2 93.0,611.5 91.0,610.2 91.0,582.6 92.4,582.2 92.8,581.2 91.0,577.7 91.0,555.2ZM97.0,587.2 97.4,589.2 98.5,590.2 101.0,591.0 102.3,590.2 102.2,588.2 101.2,587.2 98.0,586.5 97.0,587.2ZM112.0,568.7 111.0,569.7 111.0,571.2 112.0,572.2 113.3,572.2 114.6,571.2 114.9,570.2 114.0,569.1 112.0,568.7ZM121.0,601.2 119.0,602.8 117.2,607.2 116.2,615.2 114.0,617.0 103.0,622.7 102.0,624.0 102.6,627.2 106.0,631.5 108.0,632.1 111.0,631.9 117.0,628.6 118.7,626.2 119.4,622.2 122.1,616.2 128.0,613.6 129.0,612.4 130.2,606.2 129.1,603.2 126.0,601.3 121.0,601.2ZM95.0,628.9 93.3,631.2 92.7,637.2 94.0,638.4 96.0,638.8 100.2,636.2 101.0,633.2 99.0,629.9 97.0,628.8 95.0,628.9ZM234.4,555.2 236.0,554.6 237.0,555.2 237.8,557.2 237.0,558.9 235.0,558.6 233.3,557.2 234.4,555.2ZM272.3,586.2 273.0,585.5 273.0,607.8 270.9,605.2 270.8,599.2 268.2,595.2 268.9,591.2 272.3,586.2ZM142.2,598.2 145.0,597.4 148.0,598.2 148.5,600.2 147.6,602.2 144.0,604.3 139.9,604.2 138.9,603.2 139.1,602.2 142.2,598.2ZM191.1,636.2 192.0,635.6 194.0,635.9 195.8,638.2 199.0,639.3 202.0,638.7 207.0,635.5 215.0,637.2 216.4,639.2 216.6,643.2 218.6,648.2 218.9,654.2 225.1,667.2 229.0,669.2 234.0,669.1 239.0,670.1 240.1,669.2 241.7,665.2 243.0,664.2 250.0,663.6 255.0,666.2 255.7,673.2 218.6,673.2 218.0,671.3 216.0,669.3 214.5,670.2 213.6,673.2 197.1,673.2 196.7,670.2 201.2,665.2 201.3,663.2 199.7,661.2 191.9,658.2 191.3,657.2 190.5,648.2 191.5,643.2 191.1,636.2ZM204.0,640.9 196.0,644.5 194.0,647.2 193.5,651.2 194.5,654.2 196.0,656.3 204.0,660.9 206.0,661.1 211.0,658.9 213.0,657.3 215.1,653.2 215.8,649.2 211.5,641.2 208.0,640.2 204.0,640.9ZM215.0,661.8 216.0,663.2 217.3,663.2 217.6,662.2 217.0,661.8 215.0,661.8ZM127.9,642.2 129.0,641.3 129.0,642.7 127.9,642.2ZM271.2,648.2 273.0,647.7 273.0,673.2 262.9,673.2 262.4,670.2 261.1,668.2 255.4,666.2 256.0,660.2 258.0,657.1 260.0,655.8 264.0,655.3 266.6,651.2 271.2,648.2ZM268.0,658.2 267.0,658.2 266.6,659.2 267.1,660.2 269.0,660.7 270.1,660.2 270.1,659.2 268.0,658.2ZM122.0,668.2 123.0,667.9 125.0,668.6 128.9,673.2 118.4,673.2 119.9,670.2 122.0,668.2ZM184.0,672.2 188.0,671.8 189.1,673.2 182.4,673.2 184.0,672.2ZM168.0,673.2 173.0,672.3 176.1,673.2 168.0,673.2Z"/>
<path fill="#4ba0c8" stroke="#4ba0c8" stroke-width="0.5" fill-rule="evenodd" d="M124.6,491.2 128.0,491.2 127.0,492.6 125.3,492.2 124.6,491.2ZM136.9,492.2 137.1,491.2 144.9,491.2 146.0,494.6 151.0,494.6 156.3,496.2 158.6,495.2 160.0,491.2 167.4,491.2 170.0,496.2 171.0,497.4 173.0,498.0 180.8,494.2 184.0,491.4 186.0,491.9 191.0,494.9 192.0,494.6 193.6,491.2 213.6,491.2 216.0,493.2 222.0,496.0 226.4,497.2 230.0,500.2 236.0,500.9 241.0,504.6 245.0,506.7 247.1,503.2 251.0,500.4 255.0,499.2 258.0,499.7 258.5,501.2 258.1,510.2 257.0,512.3 254.0,513.0 247.0,508.7 246.0,509.7 245.8,516.2 245.0,518.2 241.0,520.2 239.0,520.4 234.0,519.1 226.0,518.7 219.0,521.6 213.0,522.3 211.0,524.2 209.9,527.2 210.3,529.2 212.5,533.2 211.1,538.2 211.1,542.2 210.0,543.6 208.0,544.4 206.0,543.8 203.0,541.6 199.0,540.2 197.3,538.2 198.2,537.2 203.0,536.0 204.8,534.2 206.1,530.2 205.5,525.2 208.0,522.1 212.1,519.2 212.8,517.2 212.3,514.2 208.0,510.0 204.4,513.2 202.0,518.4 200.0,519.5 198.0,519.3 196.0,518.2 195.4,517.2 196.0,516.2 201.0,513.2 200.9,512.2 198.7,510.2 192.0,507.6 189.0,508.2 185.2,511.2 185.0,513.2 187.5,517.2 187.0,521.3 186.0,523.2 184.8,523.2 182.0,521.0 180.0,520.8 172.0,526.6 170.0,527.1 166.0,526.4 160.0,524.1 151.0,523.3 147.0,523.8 142.0,526.4 136.0,528.2 133.0,530.5 128.5,532.2 125.4,535.2 124.0,535.7 122.0,534.9 117.6,531.2 116.2,529.2 116.2,527.2 118.0,525.5 123.0,524.5 125.0,522.7 125.8,519.2 122.7,515.2 123.2,512.2 122.7,507.2 129.0,503.9 132.2,499.2 135.9,495.2 136.9,492.2ZM179.0,497.9 176.5,499.2 172.0,503.0 170.0,502.3 167.0,499.6 165.0,498.6 160.0,500.7 152.0,499.5 141.0,500.9 134.0,503.9 130.6,507.2 130.4,509.2 135.0,511.9 140.4,516.2 140.7,517.2 140.0,518.3 134.0,520.2 132.9,522.2 134.0,523.3 139.0,523.7 144.0,520.9 151.0,519.2 157.0,521.2 166.0,521.7 175.0,519.0 177.3,517.2 178.4,515.2 179.1,509.2 185.0,506.0 186.8,504.2 187.0,503.2 186.1,501.2 183.0,498.5 181.0,497.8 179.0,497.9ZM198.0,491.8 197.8,494.2 200.0,500.5 210.0,505.7 216.0,512.2 218.7,516.2 220.0,516.3 225.0,514.7 233.0,514.6 238.0,515.4 239.6,514.2 239.6,511.2 235.0,505.2 220.0,499.7 212.9,496.2 209.0,492.9 203.0,493.9 199.0,491.7 198.0,491.8ZM259.8,491.2 263.5,491.2 263.0,493.5 262.0,493.9 261.0,493.3 259.8,491.2ZM91.0,530.2 92.3,532.2 92.0,534.2 91.0,535.3 91.0,530.2ZM212.2,552.2 214.0,551.4 215.9,552.2 215.8,554.2 214.0,556.4 212.0,556.4 211.3,555.2 212.2,552.2ZM91.0,565.2 91.0,565.7 91.0,565.2ZM111.3,569.2 113.0,568.7 114.0,569.1 114.9,570.2 114.6,571.2 113.3,572.2 112.0,572.2 111.0,571.1 111.3,569.2ZM120.9,601.2 126.0,601.3 129.1,603.2 130.2,606.2 129.0,612.4 128.0,613.6 122.1,616.2 119.4,622.2 118.7,626.2 117.0,628.6 111.0,631.9 108.0,632.1 106.0,631.5 102.6,627.2 102.0,624.0 103.0,622.7 114.0,617.0 116.2,615.2 117.2,607.2 119.0,602.8 120.9,601.2ZM203.3,641.2 208.0,640.2 211.5,641.2 215.8,649.2 215.1,653.2 213.0,657.3 211.0,658.9 206.0,661.1 204.0,660.9 196.0,656.3 194.5,654.2 193.5,651.2 193.7,648.2 195.3,645.2 198.0,643.3 203.3,641.2ZM202.0,644.1 199.0,645.3 196.7,647.2 195.9,649.2 196.1,652.2 197.1,654.2 199.0,656.0 204.0,658.6 206.0,658.7 209.6,656.2 212.1,651.2 212.0,649.2 210.0,645.9 208.0,644.1 205.0,643.4 202.0,644.1ZM272.9,653.2 273.0,654.3 272.9,653.2ZM214.9,662.2 216.0,661.4 217.6,662.2 217.0,663.3 214.9,662.2Z"/>
<path fill="#3670b6" stroke="#3670b6" stroke-width="0.5" fill-rule="evenodd" d="M197.8,492.2 199.0,491.7 203.0,493.9 209.0,492.9 212.9,496.2 220.0,499.7 235.0,505.2 239.6,511.2 239.6,514.2 238.0,515.4 233.0,514.6 225.0,514.7 220.0,516.3 218.7,516.2 216.0,512.2 210.0,505.7 200.0,500.5 198.9,498.2 197.8,492.2ZM211.0,501.1 212.9,504.2 221.0,510.9 228.0,512.1 231.0,511.3 232.3,510.2 232.2,508.2 231.4,507.2 226.0,504.3 223.0,503.4 218.0,503.5 213.0,500.7 211.0,501.1ZM178.3,498.2 181.0,497.8 183.0,498.5 186.1,501.2 187.0,503.2 186.8,504.2 185.0,506.0 179.1,509.2 178.4,515.2 177.3,517.2 175.0,519.0 166.0,521.7 157.0,521.2 151.0,519.2 144.0,520.9 139.0,523.7 134.0,523.3 132.9,522.2 134.0,520.2 140.0,518.3 140.7,517.2 140.4,516.2 135.0,511.9 130.4,509.2 130.6,507.2 134.0,503.9 141.0,500.9 152.0,499.5 160.0,500.7 165.0,498.6 167.0,499.6 170.0,502.3 172.0,503.0 178.3,498.2ZM180.0,501.1 178.1,502.2 178.0,503.3 179.0,504.2 181.2,503.2 181.3,502.2 180.0,501.1ZM148.0,503.2 142.8,505.2 140.5,507.2 139.9,509.2 146.0,510.8 150.0,513.4 153.0,513.8 158.0,517.4 164.0,517.7 173.0,515.9 175.0,514.2 175.3,512.2 174.0,509.7 169.0,507.6 165.0,504.4 157.0,504.0 151.0,502.9 148.0,503.2ZM201.6,644.2 205.0,643.4 208.0,644.1 210.0,645.9 212.0,649.2 212.1,651.2 210.2,655.2 207.0,658.4 204.0,658.6 200.0,656.6 197.1,654.2 196.1,652.2 195.9,649.2 196.7,647.2 199.0,645.3 201.6,644.2ZM203.0,646.2 199.0,647.7 198.0,649.2 198.0,651.2 198.9,653.2 201.0,654.9 204.0,656.4 206.0,656.3 207.2,655.2 207.8,653.2 207.4,649.2 206.0,647.0 203.0,646.2Z"/>
<path fill="#24458c" stroke="#24458c" stroke-width="0.5" fill-rule="evenodd" d="M179.1,501.2 180.4,501.2 181.3,502.2 181.2,503.2 180.0,504.1 179.0,504.2 178.0,503.2 179.1,501.2ZM211.0,501.2 213.0,500.7 218.0,503.5 223.0,503.4 225.7,504.2 231.4,507.2 232.2,508.2 232.3,510.2 231.0,511.3 228.0,512.1 221.0,510.9 212.9,504.2 211.0,501.2ZM147.9,503.2 151.0,502.9 157.0,504.0 165.0,504.4 169.0,507.6 174.0,509.7 175.3,512.2 175.0,514.2 173.0,515.9 164.0,517.7 158.0,517.4 153.0,513.8 150.0,513.4 146.0,510.8 139.9,509.2 140.5,507.2 142.8,505.2 147.9,503.2ZM202.8,646.2 206.0,647.0 207.4,649.2 207.8,653.2 207.2,655.2 206.0,656.3 204.0,656.4 201.0,654.9 198.9,653.2 198.0,651.4 198.0,649.2 199.0,647.7 202.8,646.2Z"/>
<clipPath id="clipeh"><path d="M93.00,528.00 L112.00,526.00 L132.00,540.00 L128.00,565.00 L110.00,575.00 L93.00,572.00 ZM225.00,540.00 L245.00,525.00 L272.00,535.00 L272.00,625.00 L262.00,645.00 L245.00,648.00 L222.00,640.00 L208.00,630.00 L205.00,605.00 L215.00,585.00 L228.00,570.00 ZM160.00,550.00 L180.00,545.00 L198.00,552.00 L196.00,568.00 L178.00,574.00 L165.00,568.00 ZM135.00,620.00 L150.00,612.00 L175.00,614.00 L185.00,627.00 L185.00,657.00 L170.00,669.00 L140.00,667.00 L130.00,652.00 Z"/></clipPath>
<g clip-path="url(#clipeh)"><path d="M-85.8,671.6 L92.6,493.2 M-69.8,671.6 L108.6,493.2 M-53.8,671.6 L124.6,493.2 M-37.8,671.6 L140.6,493.2 M-21.8,671.6 L156.6,493.2 M-5.8,671.6 L172.6,493.2 M10.2,671.6 L188.6,493.2 M26.2,671.6 L204.6,493.2 M42.2,671.6 L220.6,493.2 M58.2,671.6 L236.6,493.2 M74.2,671.6 L252.6,493.2 M90.2,671.6 L268.6,493.2 M106.2,671.6 L284.6,493.2 M122.2,671.6 L300.6,493.2 M138.2,671.6 L316.6,493.2 M154.2,671.6 L332.6,493.2 M170.2,671.6 L348.6,493.2 M186.2,671.6 L364.6,493.2 M202.2,671.6 L380.6,493.2 M218.2,671.6 L396.6,493.2 M234.2,671.6 L412.6,493.2 M250.2,671.6 L428.6,493.2 M266.2,671.6 L444.6,493.2" fill="none" stroke="#aaa4bb" stroke-width="1.0"/></g>
<circle cx="182.2" cy="582.4" r="69.62" fill="none" stroke="#8c8c8c" stroke-width="0.6" stroke-dasharray="1.2,1.8"/>
<circle cx="182.2" cy="582.4" r="51.26" fill="none" stroke="#8c8c8c" stroke-width="0.6" stroke-dasharray="1.2,1.8"/>
<circle cx="182.2" cy="582.4" r="16.74" fill="none" stroke="#8c8c8c" stroke-width="0.6" stroke-dasharray="1.2,1.8"/>
<line x1="182.2" y1="582.4" x2="182.20" y2="671.60" stroke="#8c8c8c" stroke-width="0.6" stroke-dasharray="1.2,1.8"/>
<line x1="182.2" y1="582.4" x2="226.80" y2="659.65" stroke="#8c8c8c" stroke-width="0.6" stroke-dasharray="1.2,1.8"/>
<line x1="182.2" y1="582.4" x2="259.45" y2="627.00" stroke="#8c8c8c" stroke-width="0.6" stroke-dasharray="1.2,1.8"/>
<line x1="182.2" y1="582.4" x2="271.40" y2="582.40" stroke="#8c8c8c" stroke-width="0.6" stroke-dasharray="1.2,1.8"/>
<line x1="182.2" y1="582.4" x2="259.45" y2="537.80" stroke="#8c8c8c" stroke-width="0.6" stroke-dasharray="1.2,1.8"/>
<line x1="182.2" y1="582.4" x2="226.80" y2="505.15" stroke="#8c8c8c" stroke-width="0.6" stroke-dasharray="1.2,1.8"/>
<line x1="182.2" y1="582.4" x2="182.20" y2="493.20" stroke="#8c8c8c" stroke-width="0.6" stroke-dasharray="1.2,1.8"/>
<line x1="182.2" y1="582.4" x2="137.60" y2="505.15" stroke="#8c8c8c" stroke-width="0.6" stroke-dasharray="1.2,1.8"/>
<line x1="182.2" y1="582.4" x2="104.95" y2="537.80" stroke="#8c8c8c" stroke-width="0.6" stroke-dasharray="1.2,1.8"/>
<line x1="182.2" y1="582.4" x2="93.00" y2="582.40" stroke="#8c8c8c" stroke-width="0.6" stroke-dasharray="1.2,1.8"/>
<line x1="182.2" y1="582.4" x2="104.95" y2="627.00" stroke="#8c8c8c" stroke-width="0.6" stroke-dasharray="1.2,1.8"/>
<line x1="182.2" y1="582.4" x2="137.60" y2="659.65" stroke="#8c8c8c" stroke-width="0.6" stroke-dasharray="1.2,1.8"/>
<circle cx="182.2" cy="582.4" r="33.73" fill="none" stroke="#9c8fd6" stroke-width="0.8"/>
<path d="M108.4,532.3 110.0,533.5 111.6,534.8 113.4,535.7 115.3,536.3 116.7,537.7 118.1,539.2 120.3,540.2 122.5,541.0 122.2,543.4 123.8,542.0 126.1,541.9 127.7,540.6 129.4,541.1 131.4,540.7 132.9,542.0 134.6,542.4 136.9,541.7 138.8,542.9 140.8,543.8 142.7,542.5 144.7,543.6 147.0,543.2 149.3,543.1 151.0,542.6 152.6,541.8 154.2,540.9 155.0,538.2 157.5,539.6 157.3,537.6 157.3,535.6 156.2,533.7 157.8,532.3 158.5,530.1 160.6,529.0 162.4,528.3 162.0,525.9 163.6,525.0 165.4,524.8 166.4,523.3 M161.3,533.1 163.4,532.0 165.5,531.1 167.3,532.5 169.2,533.8 169.6,535.5 170.1,537.2 170.0,539.9 172.2,542.1 173.6,541.9 172.6,543.9 170.8,545.2 171.7,546.9 173.5,547.7 172.3,550.1 170.7,551.5 169.9,553.4 167.0,553.8 164.9,554.4 162.9,554.8 160.1,556.0 157.5,557.7 156.4,559.6 155.6,561.6 153.9,562.6 151.5,564.7 150.3,566.1 148.5,566.7 147.1,567.9 147.3,569.7 148.4,571.4 147.1,573.0 145.6,574.8 145.0,577.2 146.9,579.3 146.5,580.9 145.9,582.4 143.8,583.3 142.5,585.2 144.8,585.3 146.9,586.1 145.4,587.6 143.8,588.5 142.0,588.8 141.3,587.2 139.9,586.1 139.0,584.7 138.0,582.4 136.3,581.5 134.4,581.0 132.8,579.8 131.3,578.5 129.3,578.2 127.1,578.8 125.6,580.4 124.2,582.2 124.7,584.4 123.6,585.8 124.7,588.0 122.7,589.1 122.5,590.8 121.8,593.2 119.6,592.6 118.3,593.9 116.4,594.0 118.1,596.0 119.7,593.2 121.3,593.4 123.0,593.9 124.8,594.4 126.7,593.8 128.6,593.7 130.4,594.6 132.3,593.9 133.5,592.3 135.5,592.3 136.2,593.9 136.9,595.4 136.1,597.3 135.7,599.3 134.9,601.7 135.7,604.1 134.7,605.4 134.3,607.0 133.0,608.1 133.5,610.4 131.0,610.8 129.9,612.1 131.1,614.7 127.9,614.9 129.2,617.5 127.0,618.3 127.1,620.2 125.7,618.6 123.7,618.1 121.9,617.2 122.1,615.1 121.4,613.4 119.4,612.4 118.6,610.7 116.7,610.2 114.7,610.3 113.5,607.9 111.4,608.2 112.7,609.4 114.4,610.1 115.6,611.4 116.5,613.0 114.5,613.3 114.1,615.3 112.7,616.3 113.2,618.3 113.8,620.3 112.3,619.7 110.8,619.0 109.8,617.6 108.3,617.0 107.1,615.8 105.3,614.5 105.0,612.6 105.0,610.5 102.2,611.5 100.3,611.0 100.0,608.9 99.5,607.0 97.4,606.7 M119.3,620.2 121.1,619.9 123.0,619.4 124.8,618.3 126.8,619.8 126.3,621.7 125.6,623.5 125.1,625.4 123.3,626.3 122.0,627.7 121.2,625.9 120.5,624.0 118.9,622.5 119.3,620.2 M139.3,603.3 138.6,601.7 139.0,600.0 138.4,598.4 138.2,596.7 138.3,594.8 139.8,593.3 139.9,591.4 141.5,591.8 143.1,592.6 144.8,593.1 146.6,591.9 147.6,590.1 148.6,588.3 147.8,586.2 149.4,584.7 151.2,584.2 151.9,582.4 153.1,584.0 154.9,584.8 153.7,586.7 154.0,588.9 153.3,591.1 151.9,592.8 152.1,594.9 150.4,595.9 149.1,597.3 148.0,598.7 147.8,600.7 145.7,599.9 144.7,602.7 143.2,603.7 140.8,602.1 139.3,603.3 M170.4,588.7 171.2,586.4 170.7,584.6 167.9,584.7 168.0,582.4 165.6,580.7 163.8,581.3 162.2,582.3 160.4,582.8 160.9,584.7 159.9,586.3 161.8,586.9 163.7,587.7 165.6,586.5 167.0,588.6 168.7,588.4 170.4,588.7 M149.0,576.5 149.0,574.6 150.1,573.2 150.7,571.5 151.6,570.0 153.3,569.0 153.9,567.4 155.3,568.5 157.0,569.0 154.5,570.1 155.3,572.6 153.3,573.9 152.6,576.1 150.8,576.3 149.0,576.5 M155.5,570.0 155.5,568.1 156.9,566.5 156.7,564.5 158.0,565.6 159.6,566.3 160.9,567.5 159.7,569.2 158.5,570.8 155.5,570.0 M156.6,586.9 154.7,585.2 153.4,583.5 156.2,581.5 158.3,582.8 160.4,581.6 161.0,583.5 160.3,585.1 159.1,586.5 156.6,586.9 M152.0,579.8 154.0,577.4 155.7,578.0 157.3,578.6 158.9,579.1 157.9,580.7 156.0,580.2 153.8,581.0 152.0,579.8 M158.7,576.1 158.8,574.2 161.0,573.0 160.7,571.0 162.2,571.8 163.5,572.9 163.4,575.3 161.2,576.4 158.7,576.1 M137.3,585.5 137.0,587.4 135.3,588.7 135.2,590.7 135.3,587.8 138.2,588.9 139.4,587.7 140.9,586.7 138.8,587.1 137.3,585.5 M163.0,588.3 164.9,588.3 166.7,589.7 168.7,589.2 170.6,589.1 171.6,591.0 173.9,590.0 175.4,590.8 176.8,591.8 175.8,593.8 177.6,595.0 176.4,596.4 176.2,598.1 176.2,599.8 175.7,601.4 175.5,603.1 174.8,604.7 173.7,606.1 171.7,607.0 171.7,608.9 171.3,610.7 170.9,612.4 169.6,613.7 167.7,612.3 166.0,613.3 164.3,613.8 162.5,613.9 161.3,615.6 159.3,615.4 157.3,615.4 156.2,617.2 154.5,617.8 152.8,618.5 151.1,618.9 150.1,621.1 147.9,620.5 146.4,619.2 147.0,616.8 145.4,615.5 146.6,614.3 148.1,613.2 147.3,611.1 147.8,609.5 149.2,608.4 149.7,606.9 150.3,605.0 152.5,604.7 154.7,604.4 154.5,601.7 155.7,600.5 157.1,599.3 158.1,598.0 157.5,595.9 158.4,594.5 161.0,593.9 160.7,592.0 162.7,590.6 163.0,588.3 M165.3,620.3 167.2,619.5 168.6,620.4 169.8,622.1 171.9,620.8 172.3,623.6 170.7,625.6 168.2,625.4 167.4,623.3 165.2,623.5 165.3,620.3 M186.0,602.1 188.4,604.2 189.7,602.8 191.4,602.2 190.9,599.6 189.4,598.3 187.6,597.3 185.5,599.2 186.0,602.1 M207.4,602.1 208.9,601.1 210.1,599.8 208.5,598.3 206.4,597.5 206.1,595.6 204.9,594.2 202.6,593.2 203.2,590.9 201.4,592.6 203.0,594.3 202.1,596.4 203.0,598.2 204.9,599.1 207.2,599.6 207.4,602.1 M194.4,593.8 195.2,591.5 195.5,589.5 193.8,589.7 193.7,592.1 194.4,593.8 M200.5,580.8 202.0,578.9 199.2,577.9 197.0,579.8 199.1,579.3 200.5,580.8 M199.4,564.0 198.8,561.2 196.9,559.9 194.8,560.6 195.7,563.2 197.6,563.2 199.4,564.0 M187.0,637.0 186.7,635.3 186.3,633.5 186.2,631.7 186.4,629.9 186.5,627.7 189.2,627.7 189.9,625.9 190.4,624.3 191.5,622.8 189.5,620.6 191.4,619.3 192.3,617.4 192.9,615.3 193.6,613.8 195.5,613.3 195.7,611.4 197.6,610.3 199.6,611.3 201.3,612.1 203.1,611.8 204.9,609.8 206.7,611.5 205.8,613.3 206.1,615.3 206.4,618.3 208.8,616.5 208.4,614.6 212.1,614.0 210.4,611.6 211.6,609.3 209.8,607.3 210.8,605.6 211.6,603.7 211.9,601.8 212.9,600.1 213.0,598.1 215.7,597.9 215.9,596.0 213.8,595.6 212.5,594.0 211.0,592.8 209.7,591.3 209.1,589.3 209.5,587.2 209.0,585.5 209.0,583.8 207.1,583.7 206.5,581.8 205.8,580.2 203.2,580.8 202.8,578.8 202.4,577.0 203.0,575.2 205.3,575.2 205.6,573.2 207.1,572.3 206.3,570.2 207.0,568.1 206.7,566.0 206.1,563.9 206.7,561.8 204.8,561.3 203.2,560.0 201.1,559.8 199.3,558.6 199.1,556.4 198.2,554.7 197.5,552.5 194.8,552.0 194.0,549.9 191.9,551.2 190.1,548.8 188.1,549.2 185.5,550.0 184.1,547.7 182.2,546.9 179.7,546.8 178.9,544.5 177.2,543.8 176.5,542.1 178.8,541.4 180.7,540.0 182.2,540.0 183.5,538.0 183.8,535.6 185.8,534.9 187.0,532.8 189.2,532.5 191.4,531.0 193.3,534.4 195.5,532.9 197.0,531.6 198.2,529.9 198.9,528.3 199.3,526.5 202.0,526.4 201.9,523.0 204.1,522.3 205.5,520.7 207.1,519.8 209.2,520.3 207.9,521.7 208.7,524.0 208.4,525.9 206.9,527.3 204.7,528.5 205.2,530.6 205.4,532.4 207.4,533.6 207.1,535.6 209.0,535.8 209.9,537.3 211.9,537.4 213.0,538.8 213.8,540.5 215.6,540.7 216.8,539.1 218.2,538.2 219.4,536.8 221.4,537.6 223.0,537.4 224.6,536.9 223.5,534.8 222.5,532.7 223.8,531.3 225.2,530.0 227.4,529.6 229.2,528.7 229.4,526.1 231.1,525.2 233.0,525.5 234.8,524.7 236.6,524.2 238.5,524.5 240.3,524.3 241.9,525.7 244.0,526.1 245.7,527.2 247.8,527.2 249.9,527.5 251.5,526.4 253.3,526.9 M229.8,521.5 228.6,523.1 226.6,523.9 225.2,525.3 225.1,527.5 222.9,528.2 222.8,530.5 221.2,531.6 219.6,532.8 221.0,530.2 223.7,531.2 224.6,529.9 225.3,528.4 226.0,526.8 226.9,525.5 227.3,523.8 228.7,522.8 229.8,521.5 M236.4,515.4 234.7,515.3 232.8,516.3 231.1,515.0 229.3,515.1 229.8,516.9 230.4,518.8 230.4,520.7 230.9,518.5 233.4,519.1 234.5,517.8 236.4,515.4 M239.5,514.1 237.7,513.5 235.9,513.7 237.6,516.4 M187.0,637.0 189.8,636.7 191.4,634.6 193.1,636.2 195.0,637.4 194.4,639.6 196.6,640.0 198.1,637.7 198.4,635.8 196.8,633.9 198.3,632.0 196.7,629.7 194.7,627.6 197.5,626.3 196.1,624.3 197.7,622.8 198.3,621.1 199.8,620.0 199.7,622.2 199.1,624.2 198.0,626.7 199.9,628.6 202.2,629.6 204.0,628.5 205.5,626.7 207.8,626.8 206.1,627.6 204.7,628.8 203.5,630.2 202.3,631.7 203.5,633.7 202.5,635.3 202.5,637.2 203.8,638.7 201.7,638.9 200.3,640.4 199.0,641.9 197.2,642.7 195.0,643.6 192.8,642.7 192.5,641.0 191.3,639.9 190.6,638.4 192.2,640.0 191.1,641.6 191.4,643.2 191.0,644.9 190.1,647.4 187.8,646.2 186.3,647.5 186.3,649.5 184.0,650.5 182.5,651.7 181.0,653.0 179.6,656.1 176.5,654.6 177.3,656.6 178.5,658.4 180.2,659.7 179.1,661.3 179.8,662.9 180.0,664.6 178.2,663.8 176.4,665.0 174.6,664.6 172.8,663.7 171.0,662.8 169.2,664.6 168.9,666.5 168.4,668.5 168.2,670.5 M176.1,651.8 177.7,651.4 179.5,652.4 180.7,649.9 182.4,650.3 184.0,650.1 184.6,648.2 183.9,646.4 181.7,645.9 181.7,643.6 181.5,642.0 180.1,640.7 180.2,639.0 179.4,636.1 177.5,636.0 176.4,637.7 176.2,639.7 176.9,642.5 178.9,644.5 178.9,645.8 177.1,646.6 176.4,648.6 178.7,649.3 177.9,651.0 176.1,651.8 M175.3,647.9 175.8,645.8 175.8,643.7 173.9,641.8 171.4,643.6 170.2,645.7 170.6,648.0 173.0,647.6 175.3,647.9 M183.0,671.6 185.7,671.6 186.8,670.0 186.7,667.5 186.5,665.1 188.8,665.9 190.3,664.0 192.2,663.6 194.1,661.9 195.5,662.9 197.2,663.2 199.5,663.4 199.9,665.7 201.4,667.2 203.8,667.0 205.3,668.6 M210.5,667.0 210.4,664.9 209.9,662.9 208.2,662.7 206.7,661.5 204.7,662.1 203.2,660.8 201.2,660.1 200.4,658.1 200.1,659.9 199.8,661.7 201.4,662.6 202.6,664.1 204.1,665.2 206.0,665.2 208.2,665.2 209.6,666.8 M212.7,666.2 216.0,666.8 216.7,663.6 218.6,662.3 220.6,661.1 223.5,661.4 224.5,658.6 225.5,657.1 227.9,656.8 228.7,655.1 230.2,653.9 231.1,652.2 233.5,652.9 235.0,652.0 236.3,650.2 238.0,649.5 239.4,648.2 239.3,646.9 237.3,646.6 235.4,645.6 233.3,645.5 231.6,645.9 229.9,645.7 228.5,646.7 228.1,648.5 226.5,649.3 224.3,647.2 222.7,648.0 220.9,648.2 219.8,650.1 220.8,652.0 220.0,654.1 221.2,655.8 222.7,658.5 M240.1,636.4 238.7,634.6 239.7,633.0 240.7,631.5 241.1,629.4 242.4,627.7 245.0,627.5 245.5,630.1 247.4,631.0 246.7,633.2 247.7,634.5 248.4,636.0 248.9,637.8 249.3,639.7 247.2,638.9 245.2,640.3 243.5,638.6 242.7,636.1 240.1,636.4 M197.3,668.3 197.7,665.9 195.9,664.4 196.1,666.6 195.1,668.6 M165.3,523.5 166.7,522.5 168.2,521.4 169.5,520.2 171.1,519.4 172.7,518.4 174.6,518.0 176.0,516.5 178.0,516.5 179.9,516.2 181.5,516.4 183.1,516.6 184.6,517.6 186.1,518.0 187.9,517.7 M138.1,585.5 138.1,587.5 137.7,589.4 140.4,589.4 141.1,587.7 141.7,585.9 139.8,583.9 138.1,585.5 M153.0,578.3 154.2,576.5 155.8,577.3 155.2,579.1 153.0,578.3 M151.9,580.8 150.4,579.1 152.3,580.1 154.6,580.0 155.0,581.9 152.8,582.4 151.9,580.8 M159.1,578.3 158.6,576.5 161.0,577.5 159.1,578.3 M158.2,574.6 158.2,572.2 160.2,570.5 161.9,572.5 160.6,574.5 158.2,574.6 M161.3,571.7 162.3,570.0 164.1,571.9 162.6,572.8 161.3,571.7 M163.0,583.7 162.1,581.7 164.7,580.6 167.2,581.9 165.5,583.6 163.0,583.7 M157.1,580.2 157.3,578.9 159.8,579.2 159.6,580.8 157.1,580.2 M146.1,578.6 145.5,576.6 148.1,576.4 148.3,578.8 146.1,578.6 M148.7,586.5 148.5,583.6 151.0,582.4 152.0,584.5 150.4,586.3 148.7,586.5 M138.1,591.8 136.6,592.9 138.1,595.1 139.5,593.8 M157.0,600.7 155.9,603.0 153.9,602.2 154.4,604.9 153.0,606.4 151.1,605.8 150.7,607.4 149.8,608.8 149.0,610.2 M172.1,607.3 172.9,609.4 169.9,610.1 170.7,612.3 168.3,612.2 M154.9,614.9 157.5,615.2 160.1,615.1 162.2,617.1 163.6,614.6 166.3,615.0 M162.2,593.0 162.8,590.2 162.9,589.1 M154.5,575.5 153.1,574.0 155.8,573.8 154.5,575.5 M148.5,568.8 150.9,567.8 150.9,565.8 M205.5,595.8 202.8,595.3 201.2,596.2 201.4,594.4 203.3,592.7 202.4,590.6 M213.7,588.0 214.7,589.3 216.8,589.9 216.3,592.2 214.2,591.1 212.0,591.5 210.3,589.4 M193.7,614.1 195.2,611.6 197.4,611.0 199.2,611.9 M190.7,622.2 191.6,620.2 190.4,617.8 192.2,617.3 192.7,614.8" fill="none" stroke="#686868" stroke-width="0.95" stroke-linejoin="round"/>
<path d="M156.40,504.60 C158.47,504.55 165.63,503.62 168.80,504.30 C171.97,504.98 174.30,506.95 175.40,508.70 C176.50,510.45 176.25,513.30 175.40,514.80 C174.55,516.30 173.33,517.08 170.30,517.70 C167.27,518.32 160.85,517.88 157.20,518.50 C153.55,519.12 151.08,520.32 148.40,521.40 C145.72,522.48 143.53,523.67 141.10,525.00 C138.67,526.33 136.23,527.93 133.80,529.40 C131.37,530.87 128.57,533.07 126.50,533.80 C124.43,534.53 122.50,534.28 121.40,533.80 C120.30,533.32 119.78,532.37 119.90,530.90 C120.02,529.43 120.52,527.20 122.10,525.00 C123.68,522.80 126.72,520.00 129.40,517.70 C132.08,515.40 135.72,512.88 138.20,511.20 C140.68,509.52 143.28,508.20 144.30,507.60 M158.00,495.40 C159.80,495.82 165.53,497.35 168.80,497.90 C172.07,498.45 175.10,498.33 177.60,498.70 C180.10,499.07 181.57,499.73 183.80,500.10 C186.03,500.47 189.07,501.13 191.00,500.90 C192.93,500.67 194.17,499.62 195.40,498.70 C196.63,497.78 197.90,495.95 198.40,495.40 M93.50,545.70 C95.35,545.65 100.80,545.70 104.60,545.40 C108.40,545.10 112.40,544.88 116.30,543.90 C120.20,542.92 124.35,541.45 128.00,539.50 C131.65,537.55 134.80,534.38 138.20,532.20 C141.60,530.02 144.77,527.73 148.40,526.40 C152.03,525.07 156.35,524.32 160.00,524.20 C163.65,524.08 167.13,524.60 170.30,525.70 C173.47,526.80 176.82,528.98 179.00,530.80 C181.18,532.62 182.17,534.65 183.40,536.60 C184.63,538.55 184.88,539.82 186.40,542.50 C187.92,545.18 190.82,550.30 192.50,552.70 C194.18,555.10 195.83,556.20 196.50,556.90 M205.00,563.40 C205.60,563.80 206.30,564.92 208.60,565.80 C210.90,566.68 215.40,567.85 218.80,568.70 C222.20,569.55 225.83,569.92 229.00,570.90 C232.17,571.88 235.37,573.27 237.80,574.60 C240.23,575.93 241.42,577.45 243.60,578.90 C245.78,580.35 248.70,582.07 250.90,583.30 C253.10,584.53 254.95,585.37 256.80,586.30 C258.65,587.23 259.47,587.97 262.00,588.90 C264.53,589.83 270.33,591.40 272.00,591.90 M93.00,556.50 C95.83,556.32 104.42,555.80 110.00,555.40 C115.58,555.00 122.05,555.53 126.50,554.10 C130.95,552.67 133.53,549.47 136.70,546.80 C139.87,544.13 142.58,540.28 145.50,538.10 C148.42,535.92 150.80,534.55 154.20,533.70 C157.60,532.85 162.73,532.52 165.90,533.00 C169.07,533.48 171.73,534.78 173.20,536.60 C174.67,538.42 174.58,541.22 174.70,543.90 C174.82,546.58 174.63,550.27 173.90,552.70 C173.17,555.13 172.12,556.55 170.30,558.50 C168.48,560.45 166.17,562.70 163.00,564.40 C159.83,566.10 155.43,567.00 151.30,568.70 C147.17,570.40 142.08,572.65 138.20,574.60 C134.32,576.55 130.68,578.45 128.00,580.40 C125.32,582.35 123.08,585.32 122.10,586.30 M146.00,550.00 C146.08,548.50 145.50,543.33 146.50,541.00 C147.50,538.67 149.75,536.92 152.00,536.00 C154.25,535.08 157.50,535.00 160.00,535.50 C162.50,536.00 165.42,537.08 167.00,539.00 C168.58,540.92 169.42,544.17 169.50,547.00 C169.58,549.83 168.92,553.33 167.50,556.00 C166.08,558.67 163.58,561.75 161.00,563.00 C158.42,564.25 154.42,564.33 152.00,563.50 C149.58,562.67 147.42,558.92 146.50,558.00 M213.70,494.90 C213.70,496.02 214.68,499.03 213.70,501.60 C212.72,504.17 208.65,507.13 207.80,510.30 C206.95,513.47 207.62,517.55 208.60,520.60 C209.58,523.65 211.52,525.68 213.70,528.60 C215.88,531.52 218.67,535.55 221.70,538.10 C224.73,540.65 228.25,542.57 231.90,543.90 C235.55,545.23 239.45,545.85 243.60,546.10 C247.75,546.35 253.88,546.13 256.80,545.40 C259.72,544.67 259.23,542.95 261.10,541.70 C262.97,540.45 266.85,538.53 268.00,537.90 M218.80,519.10 C219.77,518.37 222.17,515.55 224.60,514.70 C227.03,513.85 230.23,513.63 233.40,514.00 C236.57,514.37 240.68,515.32 243.60,516.90 C246.52,518.48 249.68,521.43 250.90,523.50 C252.12,525.57 252.12,527.72 250.90,529.30 C249.68,530.88 246.52,532.27 243.60,533.00 C240.68,533.73 236.57,534.07 233.40,533.70 C230.23,533.33 226.92,532.27 224.60,530.80 C222.28,529.33 220.47,526.85 219.50,524.90 C218.53,522.95 218.92,520.07 218.80,519.10 M270.00,549.90 C269.25,550.37 267.70,552.23 265.50,552.70 C263.30,553.17 259.72,552.00 256.80,552.70 C253.88,553.40 249.97,554.95 248.00,556.90 C246.03,558.85 245.25,561.93 245.00,564.40 C244.75,566.87 245.27,569.52 246.50,571.70 C247.73,573.88 250.73,576.30 252.40,577.50 C254.07,578.70 255.82,578.67 256.50,578.90 M185.00,579.90 C186.50,579.50 190.80,578.38 194.00,577.50 C197.20,576.62 200.80,575.08 204.20,574.60 C207.60,574.12 211.23,574.12 214.40,574.60 C217.57,575.08 220.03,575.80 223.20,577.50 C226.37,579.20 230.73,582.73 233.40,584.80 C236.07,586.87 238.23,589.05 239.20,589.90 M94.00,604.90 C96.00,604.03 102.28,601.53 106.00,599.70 C109.72,597.87 112.63,595.37 116.30,593.90 C119.97,592.43 124.35,591.75 128.00,590.90 C131.65,590.05 134.32,589.77 138.20,588.80 C142.08,587.83 147.42,586.45 151.30,585.10 C155.18,583.75 158.58,582.15 161.50,580.70 C164.42,579.25 166.55,577.87 168.80,576.40 C171.05,574.93 173.97,572.65 175.00,571.90 M97.00,593.90 C98.75,593.40 103.80,592.12 107.50,590.90 C111.20,589.68 115.30,588.05 119.20,586.60 C123.10,585.15 127.25,583.67 130.90,582.20 C134.55,580.73 137.70,579.02 141.10,577.80 C144.50,576.58 148.15,575.88 151.30,574.90 C154.45,573.92 158.55,572.40 160.00,571.90 M142.00,602.90 C141.60,602.23 139.75,600.25 139.60,598.90 C139.45,597.55 139.63,595.93 141.10,594.80 C142.57,593.67 145.72,592.67 148.40,592.10 C151.08,591.53 155.02,591.03 157.20,591.40 C159.38,591.77 161.03,593.08 161.50,594.30 C161.97,595.52 161.22,597.52 160.00,598.70 C158.78,599.88 155.17,600.95 154.20,601.40 M97.00,641.90 C99.48,640.72 107.47,636.47 111.90,634.80 C116.33,633.13 119.95,633.62 123.60,631.90 C127.25,630.18 129.67,626.95 133.80,624.50 C137.93,622.05 144.37,618.90 148.40,617.20 C152.43,615.50 156.40,614.78 158.00,614.30 M173.00,616.90 C173.83,617.40 176.50,618.73 178.00,619.90 C179.50,621.07 181.33,623.23 182.00,623.90 M151.50,623.70 C150.50,623.83 147.72,622.90 145.50,624.50 C143.28,626.10 139.42,629.90 138.20,633.30 C136.98,636.70 136.98,641.50 138.20,644.90 C139.42,648.30 142.10,651.50 145.50,653.70 C148.90,655.90 154.22,657.62 158.60,658.10 C162.98,658.58 168.15,657.82 171.80,656.60 C175.45,655.38 178.67,652.58 180.50,650.80 C182.33,649.02 182.42,646.72 182.80,645.90 M182.50,635.90 C182.08,634.73 181.08,630.73 180.00,628.90 C178.92,627.07 176.67,625.57 176.00,624.90 M129.40,636.20 C129.65,638.15 129.20,644.25 130.90,647.90 C132.60,651.55 135.72,655.43 139.60,658.10 C143.48,660.77 148.83,662.93 154.20,663.90 C159.57,664.87 166.68,665.12 171.80,663.90 C176.92,662.68 182.20,658.93 184.90,656.60 C187.60,654.27 187.48,651.02 188.00,649.90 M120.00,636.90 C120.25,639.07 120.17,646.07 121.50,649.90 C122.83,653.73 124.92,656.90 128.00,659.90 C131.08,662.90 136.00,665.98 140.00,667.90 C144.00,669.82 150.00,670.82 152.00,671.40 M101.70,618.70 C103.15,617.73 107.00,614.37 110.40,612.90 C113.80,611.43 118.20,610.88 122.10,609.90 C126.00,608.92 130.82,608.08 133.80,607.00 C136.78,605.92 138.97,604.00 140.00,603.40 M217.30,589.50 C218.52,589.38 221.92,588.57 224.60,588.80 C227.28,589.03 231.93,590.55 233.40,590.90 M249.00,593.90 C250.30,594.13 253.30,594.57 256.80,595.30 C260.30,596.03 267.80,597.80 270.00,598.30 M217.30,589.50 C218.03,590.72 219.83,594.37 221.70,596.80 C223.57,599.23 225.82,601.92 228.50,604.10 C231.18,606.28 235.28,607.72 237.80,609.90 C240.32,612.08 241.65,614.77 243.60,617.20 C245.55,619.63 247.77,622.30 249.50,624.50 C251.23,626.70 252.58,628.50 254.00,630.40 C255.42,632.30 257.33,634.98 258.00,635.90 M196.90,601.90 C198.85,602.63 204.95,605.08 208.60,606.30 C212.25,607.52 215.63,608.10 218.80,609.20 C221.97,610.30 224.68,611.32 227.60,612.90 C230.52,614.48 234.12,616.52 236.30,618.70 C238.48,620.88 239.48,623.32 240.70,626.00 C241.92,628.68 242.88,631.82 243.60,634.80 C244.32,637.78 244.77,642.38 245.00,643.90 M192.50,617.20 C194.45,616.83 200.07,615.12 204.20,615.00 C208.33,614.88 213.65,615.63 217.30,616.50 C220.95,617.37 223.42,618.62 226.10,620.20 C228.78,621.78 231.45,623.82 233.40,626.00 C235.35,628.18 236.83,630.65 237.80,633.30 C238.77,635.95 238.72,639.47 239.20,641.90 C239.68,644.33 240.45,646.90 240.70,647.90 M206.00,626.00 C207.17,625.65 210.38,624.15 213.00,623.90 C215.62,623.65 219.03,623.67 221.70,624.50 C224.37,625.33 227.05,626.95 229.00,628.90 C230.95,630.85 232.43,633.77 233.40,636.20 C234.37,638.63 234.80,641.05 234.80,643.50 C234.80,645.95 233.63,649.67 233.40,650.90 M192.50,617.90 C192.25,620.47 191.48,628.80 191.00,633.30 C190.52,637.80 190.08,640.77 189.60,644.90 C189.12,649.03 188.10,653.60 188.10,658.10 C188.10,662.60 189.35,669.60 189.60,671.90 M196.90,629.90 C197.07,631.90 197.90,638.17 197.90,641.90 C197.90,645.63 196.58,649.35 196.90,652.30 C197.22,655.25 198.10,657.90 199.80,659.60 C201.50,661.30 205.57,661.87 207.10,662.50 C208.63,663.13 208.68,663.25 209.00,663.40 M240.70,574.90 C242.40,576.12 248.52,580.70 250.90,582.20 C253.28,583.70 254.32,583.62 255.00,583.90 M245.00,589.50 C246.97,589.87 252.63,590.97 256.80,591.70 C260.97,592.43 267.80,593.53 270.00,593.90 M111.90,574.70 C111.17,574.58 109.45,573.77 107.50,574.00 C105.55,574.23 101.90,575.02 100.20,576.10 C98.50,577.18 97.53,579.03 97.30,580.50 C97.07,581.97 98.55,584.17 98.80,584.90" fill="none" stroke="#000" stroke-width="1.1"/>
<path d="M167.7,630.5 A13.1,13.1 0 1 1 156.6,630.0" fill="none" stroke="#000" stroke-width="2.4"/>
<path d="M250.90,615.80 C251.02,614.58 250.62,610.08 251.60,608.50 C252.58,606.92 255.22,606.30 256.80,606.30 C258.38,606.30 260.13,607.17 261.10,608.50 C262.07,609.83 262.35,613.33 262.60,614.30" fill="none" stroke="#000" stroke-width="2.4"/>
<circle cx="163" cy="643.5" r="6.6" fill="none" stroke="#000" stroke-width="1.0" stroke-dasharray="2.2,1.6"/>
<circle cx="194" cy="535.2" r="2.2" fill="none" stroke="#000" stroke-width="1.1"/>
<circle cx="215.1" cy="554.9" r="3.6" fill="none" stroke="#000" stroke-width="1.1"/>
<path d="M267.6,581.5 L263.2,582.4 M266.6,567.1 L261.6,568.7 M262.9,556.7 L258.0,551.9 M257.6,544.1 L251.6,538.9 M247.9,531.0 L245.4,528.6 M238.8,519.4 L234.8,519.9 M227.7,509.7 L223.2,513.0 M215.5,504.0 L210.1,506.1 M199.0,498.6 L199.6,503.4 M183.9,502.4 L186.7,496.2 M174.2,502.6 L168.2,497.3 M158.9,504.2 L155.9,501.8 M147.1,510.3 L141.6,506.3 M133.9,518.1 L130.9,513.5 M118.1,524.9 L125.6,525.4 M113.1,539.9 L113.0,532.5 M105.2,550.4 L107.2,546.7 M99.8,561.5 L103.4,562.2 M97.4,574.9 L101.2,576.7 M99.9,587.1 L98.9,592.6 M104.0,603.7 L99.6,603.8 M110.3,618.7 L102.9,615.4 M116.6,630.4 L110.5,628.2 M121.1,637.5 L123.8,643.0 M133.5,645.5 L132.7,653.5 M143.7,658.7 L146.5,655.0 M157.8,666.1 L158.8,658.0 M169.9,668.0 L174.2,661.9 M185.8,669.6 L186.5,661.4 M199.0,667.4 L201.3,659.8 M215.2,661.8 L212.0,657.0 M229.1,654.5 L223.2,651.5 M240.0,644.5 L235.0,644.6 M251.0,634.5 L243.4,634.1 M257.1,620.8 L252.9,624.4 M264.7,609.8 L256.8,609.6 M266.6,596.0 L261.9,596.1 M137.4,636.1 L137.1,639.9 M146.8,646.5 L151.0,644.9 M159.8,653.8 L164.0,648.2 M175.0,657.0 L176.3,650.2 M189.7,657.5 L189.7,649.6 M205.5,653.8 L201.4,647.6 M217.1,648.0 L215.6,642.4 M230.4,640.7 L225.5,634.1 M240.8,627.0 L234.8,627.7 M247.4,616.3 L243.6,615.0 M254.6,603.7 L246.9,601.6 M255.8,586.0 L251.1,591.8 M252.6,571.9 L254.1,577.9 M250.5,558.7 L250.4,563.6 M245.4,550.4 L244.7,546.1 M238.7,537.8 L235.6,535.5 M231.1,525.8 L223.3,527.8 M218.5,517.3 L212.4,520.9 M205.7,515.0 L199.2,512.6 M190.9,513.1 L186.5,509.2 M175.7,513.4 L173.7,509.1 M162.6,515.6 L159.3,512.6 M149.6,523.3 L146.5,515.8 M136.3,529.7 L136.6,525.2 M124.9,538.0 L128.3,536.8 M115.5,548.4 L122.3,549.8 M112.2,563.2 L115.0,561.0 M108.5,577.5 L113.4,574.2 M113.6,588.3 L108.6,591.6 M115.8,603.6 L112.0,603.7 M121.7,616.6 L117.1,616.5 M128.3,625.6 L126.2,630.7 M244.1,574.8 L240.6,581.3 M240.4,560.1 L239.1,568.5 M231.6,551.0 L236.4,552.0 M228.3,540.6 L222.6,540.2 M217.5,531.4 L211.8,531.7 M204.6,528.5 L199.5,522.4 M189.2,525.4 L187.5,519.4 M176.0,523.4 L172.7,521.8 M161.4,528.3 L160.1,523.8 M148.9,535.9 L147.8,529.1 M136.2,543.7 L139.3,539.6 M128.1,554.1 L131.0,551.8 M121.5,568.7 L126.9,563.2 M121.2,583.0 L122.7,576.4 M124.2,595.6 L121.7,591.8 M129.4,607.1 L125.0,607.0 M136.0,617.0 L132.7,621.2 M144.1,626.7 L144.1,631.6 M152.4,639.1 L159.4,634.3 M166.9,643.2 L171.3,639.3 M185.6,644.7 L180.5,640.8 M196.1,643.5 L197.8,638.3 M210.6,638.0 L209.4,633.8 M223.7,628.8 L219.5,627.3 M233.4,618.2 L228.7,617.3 M242.0,606.1 L233.8,604.9 M244.9,589.2 L238.6,594.9 M230.5,599.9 L225.7,601.9 M233.4,585.9 L229.5,588.6 M230.3,570.3 L231.3,576.1 M223.5,557.1 L229.0,562.6 M216.8,544.6 L219.4,552.1 M211.0,541.1 L203.1,538.1 M197.4,536.5 L190.6,532.2 M183.2,535.3 L176.7,530.7 M168.0,538.4 L164.3,532.8 M153.2,545.5 L154.0,538.6 M141.1,553.1 L145.7,550.4 M134.6,565.7 L138.1,562.1 M132.1,581.4 L133.8,573.7 M135.5,594.3 L131.7,588.9 M140.0,604.1 L136.3,605.8 M146.4,612.7 L146.2,620.2 M156.9,622.2 L157.8,628.1 M170.0,632.7 L170.8,628.2 M182.3,634.8 L186.5,628.9 M198.2,632.0 L198.3,626.4 M212.7,624.2 L208.8,621.3 M223.1,612.4 L218.9,613.7 M173.6,545.5 L170.0,544.3 M158.0,554.9 L160.0,547.5 M149.6,563.7 L148.9,559.6 M144.8,578.3 L143.2,571.6 M144.9,593.1 L142.9,585.5 M151.1,600.0 L146.8,605.3 M159.0,609.6 L158.1,617.0 M171.5,617.3 L171.1,622.2 M181.5,622.3 L189.6,620.1 M202.1,617.4 L196.5,617.3 M213.6,606.7 L207.9,611.0 M221.6,594.8 L215.1,598.6 M223.0,579.8 L219.2,585.6 M215.3,566.9 L221.9,570.3 M208.4,553.8 L213.9,559.0 M202.8,550.6 L196.8,544.7 M187.0,545.4 L185.2,541.9 M155.8,579.6 L152.3,574.8 M158.1,593.3 L152.4,590.7 M165.8,602.4 L161.5,605.9 M177.8,607.1 L176.2,614.0 M191.7,605.4 L191.9,613.3 M203.7,596.9 L204.2,605.0 M208.3,586.3 L212.3,588.9 M206.1,571.9 L212.2,573.8 M200.0,562.2 L201.5,559.0 M188.1,558.4 L186.7,550.2 M172.9,559.5 L172.4,551.5 M159.1,566.4 L161.7,561.3 M172.5,568.3 L173.3,564.7 M167.1,579.8 L161.7,575.7 M168.0,595.4 L164.6,588.0 M177.7,598.4 L177.4,602.0 M188.9,596.3 L194.1,600.3 M196.3,585.2 L203.8,589.0 M194.3,574.2 L201.9,572.0 M188.7,568.1 L185.0,561.1 M184.3,591.7 L190.0,586.6 M183.6,576.4 L187.5,573.1 M174.0,585.4 L173.8,581.3" stroke="#ea4a44" stroke-width="1.0" fill="none"/>
<path d="M262.6,582.5 L265.1,580.8 L265.6,583.1Z M261.0,568.9 L263.4,566.9 L264.0,569.1Z M257.6,551.5 L260.4,552.6 L258.8,554.3Z M251.1,538.5 L254.0,539.4 L252.5,541.2Z M244.9,528.2 L247.8,529.3 L246.2,531.0Z M234.2,520.0 L236.9,518.5 L237.1,520.8Z M222.7,513.4 L224.3,510.8 L225.7,512.6Z M209.5,506.3 L211.7,504.3 L212.6,506.4Z M199.7,504.0 L198.2,501.4 L200.5,501.0Z M186.9,495.6 L186.8,498.6 L184.7,497.7Z M167.7,496.9 L170.6,497.9 L169.1,499.6Z M155.5,501.4 L158.4,502.3 L156.9,504.1Z M141.2,506.0 L144.1,506.7 L142.7,508.6Z M130.5,513.0 L133.0,514.7 L131.1,515.9Z M126.2,525.4 L123.3,526.4 L123.5,524.1Z M113.0,531.9 L114.2,534.7 L111.9,534.7Z M107.5,546.2 L107.2,549.2 L105.2,548.1Z M104.0,562.3 L101.0,562.9 L101.4,560.7Z M101.7,577.0 L98.7,576.8 L99.7,574.7Z M98.8,593.2 L98.1,590.3 L100.4,590.7Z M99.0,603.8 L101.8,602.6 L101.9,604.9Z M102.4,615.1 L105.4,615.2 L104.4,617.3Z M109.9,628.0 L112.9,627.9 L112.2,630.1Z M124.1,643.6 L121.8,641.6 L123.9,640.6Z M132.6,654.1 L131.8,651.2 L134.0,651.5Z M146.9,654.6 L146.1,657.5 L144.3,656.1Z M158.8,657.4 L159.6,660.3 L157.3,660.0Z M174.6,661.4 L173.9,664.4 L172.0,663.0Z M186.5,660.8 L187.5,663.7 L185.2,663.5Z M201.5,659.2 L201.8,662.2 L199.6,661.6Z M211.7,656.5 L214.2,658.2 L212.3,659.5Z M222.7,651.2 L225.7,651.5 L224.7,653.5Z M234.4,644.6 L237.2,643.4 L237.2,645.7Z M242.8,634.1 L245.7,633.1 L245.5,635.4Z M252.4,624.7 L253.9,622.1 L255.3,623.8Z M256.2,609.6 L259.1,608.5 L259.0,610.8Z M261.3,596.1 L264.1,594.9 L264.1,597.2Z M137.0,640.5 L136.1,637.6 L138.4,637.8Z M151.6,644.7 L149.4,646.8 L148.5,644.6Z M164.3,647.7 L163.6,650.7 L161.8,649.3Z M176.5,649.6 L177.1,652.6 L174.8,652.1Z M189.7,649.0 L190.9,651.8 L188.6,651.8Z M201.0,647.1 L203.5,648.8 L201.6,650.1Z M215.5,641.9 L217.3,644.3 L215.1,644.9Z M225.2,633.6 L227.8,635.2 L225.9,636.5Z M234.2,627.8 L236.8,626.3 L237.1,628.6Z M243.0,614.8 L246.1,614.6 L245.3,616.8Z M246.4,601.5 L249.4,601.1 L248.8,603.3Z M250.7,592.3 L251.6,589.4 L253.3,590.8Z M254.2,578.5 L252.4,576.0 L254.7,575.5Z M250.4,564.2 L249.3,561.4 L251.6,561.5Z M244.6,545.5 L246.2,548.0 L243.9,548.4Z M235.1,535.2 L238.1,535.9 L236.7,537.7Z M222.7,527.9 L225.1,526.1 L225.7,528.4Z M211.9,521.2 L213.7,518.8 L214.9,520.8Z M198.7,512.4 L201.7,512.3 L200.9,514.5Z M186.0,508.8 L188.9,509.8 L187.4,511.5Z M173.4,508.6 L175.7,510.6 L173.6,511.6Z M158.9,512.2 L161.7,513.2 L160.2,514.9Z M146.2,515.2 L148.4,517.4 L146.3,518.3Z M136.6,524.6 L137.6,527.5 L135.3,527.3Z M128.8,536.6 L126.6,538.6 L125.8,536.5Z M122.9,550.0 L119.9,550.5 L120.4,548.3Z M115.5,560.6 L114.0,563.3 L112.6,561.5Z M113.9,573.9 L112.3,576.4 L111.0,574.5Z M108.1,591.9 L109.8,589.4 L111.0,591.3Z M111.4,603.7 L114.1,602.5 L114.2,604.8Z M116.5,616.5 L119.3,615.4 L119.2,617.7Z M125.9,631.3 L126.0,628.2 L128.1,629.1Z M240.3,581.8 L240.6,578.8 L242.6,579.9Z M239.0,569.1 L238.3,566.1 L240.6,566.5Z M237.0,552.2 L234.0,552.7 L234.5,550.4Z M222.0,540.2 L224.9,539.2 L224.8,541.5Z M211.2,531.8 L213.9,530.4 L214.1,532.7Z M199.1,521.9 L201.8,523.3 L200.0,524.8Z M187.3,518.8 L189.2,521.2 L187.0,521.9Z M172.2,521.5 L175.2,521.7 L174.1,523.8Z M159.9,523.2 L161.8,525.6 L159.6,526.2Z M147.7,528.5 L149.3,531.1 L147.0,531.4Z M139.7,539.1 L138.9,542.0 L137.1,540.6Z M131.5,551.5 L130.0,554.1 L128.6,552.3Z M127.3,562.7 L126.2,565.5 L124.5,563.9Z M122.9,575.9 L123.3,578.9 L121.1,578.3Z M121.3,591.3 L123.9,593.0 L121.9,594.3Z M124.4,607.0 L127.2,605.9 L127.1,608.2Z M132.3,621.6 L133.1,618.7 L134.9,620.2Z M144.1,632.2 L142.9,629.4 L145.2,629.4Z M159.9,633.9 L158.2,636.5 L156.9,634.6Z M171.8,638.9 L170.4,641.6 L168.9,639.9Z M180.1,640.4 L183.0,641.2 L181.6,643.0Z M198.0,637.7 L198.2,640.8 L196.0,640.0Z M209.3,633.2 L211.1,635.6 L208.9,636.2Z M218.9,627.1 L221.9,626.9 L221.2,629.1Z M228.1,617.1 L231.1,616.6 L230.7,618.8Z M233.2,604.8 L236.2,604.1 L235.8,606.4Z M238.2,595.3 L239.5,592.6 L241.0,594.3Z M225.1,602.1 L227.3,600.0 L228.2,602.1Z M229.0,588.9 L230.6,586.4 L231.9,588.3Z M231.5,576.7 L229.8,574.1 L232.1,573.7Z M229.4,563.1 L226.6,561.9 L228.3,560.3Z M219.6,552.7 L217.6,550.4 L219.8,549.7Z M202.5,537.9 L205.6,537.8 L204.7,540.0Z M190.1,531.8 L193.1,532.4 L191.9,534.3Z M176.2,530.3 L179.2,531.0 L177.9,532.9Z M163.9,532.3 L166.5,534.0 L164.5,535.3Z M154.1,538.0 L154.9,540.9 L152.6,540.7Z M146.2,550.1 L144.4,552.5 L143.2,550.5Z M138.5,561.7 L137.4,564.5 L135.7,562.9Z M134.0,573.1 L134.5,576.1 L132.2,575.6Z M131.4,588.4 L133.9,590.1 L132.0,591.4Z M135.7,606.1 L137.8,603.8 L138.8,605.9Z M146.2,620.8 L145.1,617.9 L147.4,618.0Z M157.8,628.7 L156.3,626.1 L158.6,625.8Z M170.9,627.6 L171.6,630.5 L169.3,630.1Z M186.8,628.4 L186.2,631.3 L184.3,630.0Z M198.3,625.8 L199.4,628.6 L197.1,628.6Z M208.4,621.0 L211.3,621.7 L209.9,623.6Z M218.4,613.9 L220.7,612.0 L221.4,614.2Z M169.5,544.1 L172.5,543.9 L171.7,546.1Z M160.1,546.9 L160.5,549.9 L158.3,549.3Z M148.8,559.0 L150.4,561.6 L148.1,562.0Z M143.0,571.0 L144.8,573.5 L142.6,574.0Z M142.7,584.9 L144.6,587.3 L142.3,587.9Z M146.4,605.8 L147.3,602.9 L149.1,604.4Z M158.0,617.6 L157.2,614.7 L159.5,614.9Z M171.1,622.8 L170.1,619.9 L172.4,620.1Z M190.2,619.9 L187.8,621.8 L187.2,619.5Z M195.9,617.3 L198.7,616.2 L198.7,618.5Z M207.5,611.3 L209.0,608.7 L210.4,610.6Z M214.6,598.9 L216.5,596.5 L217.6,598.5Z M218.9,586.1 L219.5,583.1 L221.4,584.4Z M222.4,570.6 L219.4,570.3 L220.5,568.3Z M214.4,559.4 L211.5,558.3 L213.1,556.7Z M196.3,544.3 L199.1,545.4 L197.5,547.1Z M184.9,541.4 L187.2,543.4 L185.2,544.4Z M152.0,574.3 L154.5,575.9 L152.7,577.3Z M151.9,590.4 L154.9,590.6 L154.0,592.6Z M161.1,606.3 L162.5,603.6 L164.0,605.4Z M176.1,614.5 L175.6,611.6 L177.8,612.1Z M191.9,613.9 L190.7,611.1 L193.0,611.1Z M204.3,605.6 L202.9,602.8 L205.2,602.7Z M212.8,589.2 L209.8,588.6 L211.1,586.7Z M212.8,573.9 L209.8,574.2 L210.4,572.0Z M201.7,558.5 L201.6,561.5 L199.5,560.6Z M186.6,549.6 L188.2,552.2 L185.9,552.5Z M172.3,550.9 L173.7,553.6 L171.4,553.7Z M162.0,560.8 L161.8,563.8 L159.7,562.8Z M173.5,564.1 L174.0,567.1 L171.7,566.6Z M161.2,575.3 L164.1,576.1 L162.7,577.9Z M164.4,587.4 L166.6,589.5 L164.5,590.5Z M177.3,602.6 L176.4,599.7 L178.7,599.9Z M194.5,600.7 L191.6,599.9 L193.0,598.0Z M204.3,589.2 L201.3,589.0 L202.3,587.0Z M202.5,571.9 L200.1,573.7 L199.5,571.5Z M184.7,560.5 L187.1,562.5 L185.0,563.6Z M190.5,586.2 L189.2,588.9 L187.6,587.2Z M187.9,572.7 L186.5,575.4 L185.0,573.7Z M173.8,580.7 L175.1,583.4 L172.8,583.5Z" fill="#ea4a44"/>
</g>
<text x="150.60" y="510.00" font-size="9.63" text-anchor="middle" style="" fill="#111" textLength="11.45" lengthAdjust="spacingAndGlyphs">18</text>
<text x="149.90" y="549.40" font-size="9.63" text-anchor="middle" style="" fill="#111" textLength="5.73" lengthAdjust="spacingAndGlyphs">6</text>
<text x="196.00" y="554.20" font-size="9.63" text-anchor="middle" style="" fill="#111" textLength="11.45" lengthAdjust="spacingAndGlyphs">14</text>
<text x="172.00" y="576.20" font-size="9.63" text-anchor="middle" style="" fill="#111" textLength="11.45" lengthAdjust="spacingAndGlyphs">14</text>
<text x="191.00" y="582.20" font-size="9.63" text-anchor="middle" style="" fill="#111" textLength="11.45" lengthAdjust="spacingAndGlyphs">10</text>
<text x="106.80" y="588.70" font-size="9.63" text-anchor="middle" style="" fill="#111" textLength="5.73" lengthAdjust="spacingAndGlyphs">6</text>
<text x="161.50" y="596.20" font-size="9.63" text-anchor="middle" style="" fill="#111" textLength="11.45" lengthAdjust="spacingAndGlyphs">18</text>
<text x="232.00" y="591.70" font-size="9.63" text-anchor="middle" style="" fill="#111" textLength="5.73" lengthAdjust="spacingAndGlyphs">6</text>
<text x="165.90" y="619.80" font-size="9.63" text-anchor="middle" style="" fill="#111" textLength="11.45" lengthAdjust="spacingAndGlyphs">10</text>
<text x="156.40" y="627.10" font-size="9.63" text-anchor="middle" style="" fill="#111" textLength="5.73" lengthAdjust="spacingAndGlyphs">6</text>
<text x="161.50" y="632.90" font-size="9.63" text-anchor="middle" style="" fill="#111" textLength="5.73" lengthAdjust="spacingAndGlyphs">0</text>
<text x="184.90" y="629.30" font-size="9.63" text-anchor="middle" style="" fill="#111" textLength="11.45" lengthAdjust="spacingAndGlyphs">10</text>
<text x="157.20" y="641.70" font-size="9.63" text-anchor="middle" style="" fill="#111" textLength="8.97" lengthAdjust="spacingAndGlyphs">-4</text>
<text x="202.70" y="637.20" font-size="9.63" text-anchor="middle" style="" fill="#111" textLength="11.45" lengthAdjust="spacingAndGlyphs">18</text>
<text x="184.90" y="644.80" font-size="9.63" text-anchor="middle" style="" fill="#111" textLength="5.73" lengthAdjust="spacingAndGlyphs">6</text>
<text x="257.50" y="624.90" font-size="9.63" text-anchor="middle" style="" fill="#111" textLength="5.73" lengthAdjust="spacingAndGlyphs">0</text>
<text x="213.70" y="672.20" font-size="9.63" text-anchor="middle" style="" fill="#111" textLength="11.45" lengthAdjust="spacingAndGlyphs">14</text>
<circle cx="182.2" cy="582.4" r="89.2" fill="none" stroke="#000" stroke-width="1.6"/>
<text x="182.20" y="485.60" font-size="9.63" text-anchor="middle" style="" fill="#1a1a1a" textLength="30.58" lengthAdjust="spacingAndGlyphs">180°W</text>
<text x="181.40" y="685.40" font-size="9.63" text-anchor="middle" style="" fill="#1a1a1a" textLength="10.23" lengthAdjust="spacingAndGlyphs">0°</text>
<text x="98.80" y="538.10" font-size="9.63" text-anchor="end" style="" fill="#1a1a1a" textLength="30.58" lengthAdjust="spacingAndGlyphs">120°W</text>
<text x="98.80" y="633.40" font-size="9.63" text-anchor="end" style="" fill="#1a1a1a" textLength="24.85" lengthAdjust="spacingAndGlyphs">60°W</text>
<text x="265.10" y="538.10" font-size="9.63" text-anchor="start" style="" fill="#1a1a1a" textLength="27.37" lengthAdjust="spacingAndGlyphs">120°E</text>
<text x="264.70" y="633.80" font-size="9.63" text-anchor="start" style="" fill="#1a1a1a" textLength="21.64" lengthAdjust="spacingAndGlyphs">60°E</text>
<line x1="198.9" y1="688.7" x2="207.5" y2="688.7" stroke="#e8403a" stroke-width="1.1"/>
<path d="M209.2,688.7 L206.3,687.2 L206.3,690.2Z" fill="#e8403a"/>
<text x="218" y="692.2" font-size="9.45" fill="#1a1a1a" textLength="128.5" lengthAdjust="spacingAndGlyphs">IVT: 10 kg m<tspan font-size="6.3" dy="-3.2">−1</tspan><tspan dy="3.2"> s</tspan><tspan font-size="6.3" dy="-3.2">−1</tspan><tspan dy="3.2"> decade</tspan><tspan font-size="6.3" dy="-3.2">−1</tspan></text>
<clipPath id="cd"><rect x="355.9" y="261.4" width="290.4" height="178.3"/></clipPath>
<g clip-path="url(#cd)">
<path fill="#d65c1c" stroke="#d65c1c" stroke-width="0.5" fill-rule="evenodd" d="M485.6,439.4 487.9,438.7 491.1,439.4 485.6,439.4Z"/>
<path fill="#ec8a30" stroke="#ec8a30" stroke-width="0.5" fill-rule="evenodd" d="M484.4,438.4 489.9,437.8 492.3,438.4 493.5,439.4 487.9,438.7 483.4,439.4 484.4,438.4Z"/>
<path fill="#f0b048" stroke="#f0b048" stroke-width="0.5" fill-rule="evenodd" d="M484.3,437.4 490.9,437.1 493.9,438.0 495.4,439.4 493.5,439.4 491.9,438.2 487.9,437.7 484.9,438.2 483.4,439.4 481.6,439.4 482.2,438.4 484.3,437.4Z"/>
<path fill="#f2da88" stroke="#f2da88" stroke-width="0.5" fill-rule="evenodd" d="M485.1,436.4 492.9,436.7 495.9,437.8 497.0,439.4 495.4,439.4 494.7,438.4 492.4,437.4 487.9,436.9 484.3,437.4 482.2,438.4 481.6,439.4 479.7,439.4 480.0,438.4 481.4,437.4 485.1,436.4Z"/>
<path fill="#f3f3b8" stroke="#f3f3b8" stroke-width="0.5" fill-rule="evenodd" d="M448.1,420.4 450.9,419.7 457.9,420.1 461.5,422.4 461.7,424.4 460.1,426.4 456.9,428.2 447.9,427.9 445.0,426.4 443.7,424.4 444.5,422.4 448.1,420.4ZM491.8,421.4 493.9,421.3 495.2,422.4 493.9,423.6 491.9,423.5 490.8,422.4 491.8,421.4ZM487.7,435.4 495.5,436.4 497.9,437.5 498.9,439.4 497.0,439.4 496.7,438.4 493.9,436.9 487.9,436.2 482.9,436.9 480.0,438.4 479.7,439.4 477.3,439.4 477.4,438.4 479.9,436.7 487.7,435.4Z"/>
<path fill="#ddf4d4" stroke="#ddf4d4" stroke-width="0.5" fill-rule="evenodd" d="M520.6,362.4 524.9,362.8 529.9,361.7 536.9,363.8 543.9,364.9 548.9,368.2 559.9,371.5 565.1,379.4 567.9,381.4 570.9,381.9 574.9,381.5 582.9,383.0 586.9,382.0 589.9,382.3 592.1,383.4 593.9,385.7 600.9,386.8 607.2,391.4 609.9,392.6 612.9,392.1 616.0,387.4 618.9,385.9 620.9,386.8 622.9,390.3 624.4,391.4 631.9,392.6 637.9,395.6 639.9,395.3 642.9,393.1 645.9,392.6 645.9,411.3 642.9,409.1 637.9,410.7 635.9,410.0 632.9,407.4 627.9,408.2 621.9,403.8 617.9,404.1 613.9,406.4 611.9,406.7 608.9,406.3 604.7,404.4 600.4,403.4 597.4,400.4 595.9,399.8 587.9,401.6 583.9,399.7 579.9,396.5 575.9,395.4 572.2,393.4 566.9,387.4 555.9,381.1 551.9,377.6 545.9,376.4 541.9,373.9 530.9,371.8 522.9,375.3 511.9,375.8 505.9,381.0 503.9,385.4 499.9,386.5 497.8,389.4 497.6,391.4 498.4,395.4 495.9,399.9 494.9,404.4 495.1,407.4 495.9,409.7 499.1,413.4 498.9,418.4 500.4,422.4 500.8,425.4 503.5,430.4 504.3,434.4 506.6,439.4 503.9,439.4 503.2,437.4 501.9,436.3 492.9,432.7 479.9,432.7 479.4,432.4 480.0,431.4 487.9,425.7 493.9,425.9 495.9,425.1 497.7,423.4 497.5,421.4 495.9,420.0 490.2,418.4 489.2,415.4 486.7,411.4 487.3,408.4 486.9,405.2 484.5,399.4 489.9,383.4 492.9,381.2 495.4,378.4 497.9,373.4 502.2,371.4 502.9,367.0 509.9,364.7 513.9,364.3 520.6,362.4ZM425.2,433.4 428.9,433.3 433.9,434.9 435.0,436.4 434.6,438.4 433.9,439.4 422.6,439.4 420.7,437.4 420.5,436.4 421.9,434.8 425.2,433.4Z"/>
<path fill="#c4eab8" stroke="#c4eab8" stroke-width="0.5" fill-rule="evenodd" d="M528.9,372.4 531.9,371.8 540.9,373.7 545.9,376.4 551.9,377.6 555.9,381.1 566.9,387.4 572.2,393.4 575.9,395.4 579.9,396.5 583.9,399.7 587.9,401.6 595.9,399.8 597.4,400.4 600.4,403.4 604.7,404.4 608.9,406.3 612.9,406.7 616.8,404.4 620.9,403.7 622.9,404.3 627.9,408.2 632.9,407.4 636.9,410.5 638.9,410.5 641.9,409.1 643.9,409.3 645.9,411.3 645.9,421.1 642.9,419.9 633.9,420.0 628.9,417.8 624.9,419.8 622.9,419.9 617.9,418.5 613.9,418.2 607.9,415.8 601.9,415.9 595.9,417.9 590.9,416.3 585.9,418.0 579.9,417.0 578.2,415.4 577.1,411.4 573.9,407.1 571.9,405.4 567.5,403.4 566.8,398.4 559.4,389.4 549.9,383.5 543.9,383.9 537.9,379.8 534.9,379.5 525.9,383.1 518.7,384.4 515.9,388.0 511.9,389.6 505.9,396.7 505.1,400.4 505.8,408.4 505.3,413.4 505.7,416.4 512.9,430.7 516.1,433.4 514.9,434.2 511.9,433.5 509.9,435.4 510.9,436.8 514.8,439.4 506.6,439.4 504.3,434.4 503.5,430.4 500.8,425.4 500.4,422.4 498.9,418.4 499.1,413.4 495.9,409.7 495.1,407.4 494.9,404.4 495.9,399.9 498.4,395.4 497.6,391.4 497.8,389.4 499.9,386.5 503.9,385.4 505.9,381.0 511.9,375.8 522.9,375.3 528.9,372.4Z"/>
<path fill="#9cd8b8" stroke="#9cd8b8" stroke-width="0.5" fill-rule="evenodd" d="M535.6,379.4 538.9,380.3 543.9,383.9 549.9,383.5 559.4,389.4 566.8,398.4 567.5,403.4 571.9,405.4 573.9,407.1 577.1,411.4 578.2,415.4 579.9,417.0 585.9,418.0 590.9,416.3 595.9,417.9 601.9,415.9 606.9,415.7 609.9,416.3 614.9,418.5 617.9,418.5 622.9,419.9 624.9,419.8 628.9,417.8 633.9,420.0 642.9,419.9 645.9,421.1 645.9,431.0 642.9,427.6 633.9,427.1 624.9,429.2 620.5,431.4 615.9,432.7 604.9,431.2 599.9,431.9 583.9,431.7 579.9,432.4 574.9,431.8 569.9,432.7 565.9,432.2 559.9,430.3 554.9,433.9 552.9,434.1 549.1,433.4 546.5,431.4 546.9,428.4 548.9,426.2 553.8,424.4 555.9,418.7 558.6,415.4 558.4,413.4 554.5,403.4 554.5,399.4 553.7,397.4 550.9,394.7 544.9,391.7 537.9,390.1 530.9,391.0 524.9,389.3 521.9,390.5 518.9,393.7 516.5,397.4 513.8,399.4 512.3,401.4 511.7,404.4 512.4,409.4 511.6,414.4 512.9,418.4 515.9,423.7 518.7,426.4 525.5,430.4 528.9,433.4 528.9,434.4 527.3,436.4 530.7,439.4 514.8,439.4 510.9,436.8 509.9,435.4 511.9,433.5 514.9,434.2 516.1,433.4 512.9,430.7 505.7,416.4 505.3,413.4 505.8,408.4 505.1,400.4 505.6,397.4 511.9,389.6 515.9,388.0 518.7,384.4 525.9,383.1 535.6,379.4ZM639.5,439.4 640.3,439.4 639.5,439.4Z"/>
<path fill="#74cac8" stroke="#74cac8" stroke-width="0.5" fill-rule="evenodd" d="M523.8,389.4 526.9,389.4 531.9,391.1 537.9,390.1 544.9,391.7 550.9,394.7 553.7,397.4 554.5,399.4 554.5,403.4 558.4,413.4 558.6,415.4 555.9,418.7 553.8,424.4 548.9,426.2 546.9,428.4 546.5,431.4 549.1,433.4 552.9,434.1 554.9,433.9 559.9,430.3 565.9,432.2 569.9,432.7 574.9,431.8 579.9,432.4 583.9,431.7 599.9,431.9 604.9,431.2 615.9,432.7 620.5,431.4 624.9,429.2 631.5,427.4 640.9,427.2 643.9,428.2 645.9,431.0 645.9,439.4 618.5,439.4 619.7,437.4 618.9,436.7 612.9,436.3 605.9,434.1 599.9,435.4 595.2,437.4 595.5,438.4 597.8,439.4 589.0,439.4 589.9,438.4 589.2,437.4 587.9,437.2 587.2,438.4 587.9,439.4 570.9,439.4 571.0,438.4 569.7,437.4 561.9,435.2 551.9,437.0 544.9,434.7 540.9,434.3 535.9,434.8 533.1,436.4 532.9,437.4 533.7,438.4 536.3,439.4 530.7,439.4 527.3,436.4 528.9,434.4 528.9,433.4 525.5,430.4 520.9,427.9 516.9,424.8 513.9,420.5 511.8,415.4 512.4,408.4 511.7,404.4 512.3,401.4 513.8,399.4 516.5,397.4 518.9,393.7 521.9,390.5 523.8,389.4ZM535.9,397.3 531.9,398.1 524.9,400.7 520.7,405.4 519.2,408.4 519.9,418.6 525.9,424.4 528.9,425.8 536.9,426.6 538.9,426.1 545.7,421.4 547.9,418.4 549.1,415.4 549.1,408.4 546.9,402.7 539.9,397.9 535.9,397.3Z"/>
<path fill="#4ba0c8" stroke="#4ba0c8" stroke-width="0.5" fill-rule="evenodd" d="M535.2,397.4 537.9,397.2 539.9,397.9 546.6,402.4 548.3,405.4 549.4,410.4 549.1,415.4 546.6,420.4 542.9,423.7 536.9,426.6 527.9,425.5 520.9,420.0 519.6,417.4 519.1,410.4 520.1,406.4 524.9,400.7 535.2,397.4ZM533.9,406.4 527.2,409.4 526.3,415.4 527.7,418.4 529.9,420.3 535.9,422.0 537.9,421.9 540.9,420.3 542.9,418.4 543.9,416.4 543.9,414.4 539.4,407.4 536.9,406.2 533.9,406.4ZM538.9,434.4 543.9,434.5 551.9,437.0 561.9,435.2 569.7,437.4 571.0,438.4 570.9,439.4 536.3,439.4 533.7,438.4 532.9,437.4 533.1,436.4 534.9,435.1 538.9,434.4ZM536.9,436.1 535.8,437.4 538.1,438.4 542.9,438.7 544.5,438.4 545.5,437.4 544.9,436.4 541.9,435.5 536.9,436.1ZM603.3,434.4 606.9,434.1 612.9,436.3 618.1,436.4 619.7,437.4 619.5,438.4 618.5,439.4 597.8,439.4 595.5,438.4 595.2,437.4 603.3,434.4ZM587.6,437.4 588.9,437.3 589.9,438.4 589.0,439.4 587.9,439.4 587.2,438.4 587.6,437.4Z"/>
<path fill="#3670b6" stroke="#3670b6" stroke-width="0.5" fill-rule="evenodd" d="M533.8,406.4 536.9,406.2 538.9,407.0 543.9,414.4 543.9,416.4 542.9,418.4 540.9,420.3 537.9,421.9 535.9,422.0 529.9,420.3 527.7,418.4 526.3,415.4 527.2,409.4 533.8,406.4ZM536.1,436.4 541.9,435.5 544.9,436.4 545.5,437.4 543.9,438.6 538.9,438.5 535.9,437.5 536.1,436.4Z"/>
<clipPath id="cdh"><path d="M356.00,330.00 L383.00,328.00 L400.00,325.00 L408.00,310.00 L413.00,290.00 L420.00,261.40 L646.00,261.40 L646.00,385.00 L628.00,362.00 L605.00,340.00 L585.00,330.00 L565.00,330.00 L545.00,318.00 L520.00,305.00 L495.00,305.00 L475.00,320.00 L470.00,340.00 L480.00,356.00 L490.00,372.00 L478.00,400.00 L484.00,440.00 L356.00,440.00 ZM498.00,396.00 L522.00,394.00 L512.00,440.00 L494.00,440.00 Z"/></clipPath>
<g clip-path="url(#cdh)" stroke="#b0b0b0" stroke-width="1.0">
<path d="M173.2,439.7 L351.5,261.4 M189.2,439.7 L367.5,261.4 M205.2,439.7 L383.5,261.4 M221.2,439.7 L399.5,261.4 M237.2,439.7 L415.5,261.4 M253.2,439.7 L431.5,261.4 M269.2,439.7 L447.5,261.4 M285.2,439.7 L463.5,261.4 M301.2,439.7 L479.5,261.4 M317.2,439.7 L495.5,261.4 M333.2,439.7 L511.5,261.4 M349.2,439.7 L527.5,261.4 M365.2,439.7 L543.5,261.4 M381.2,439.7 L559.5,261.4 M397.2,439.7 L575.5,261.4 M413.2,439.7 L591.5,261.4 M429.2,439.7 L607.5,261.4 M445.2,439.7 L623.5,261.4 M461.2,439.7 L639.5,261.4 M477.2,439.7 L655.5,261.4 M493.2,439.7 L671.5,261.4 M509.2,439.7 L687.5,261.4 M525.2,439.7 L703.5,261.4 M541.2,439.7 L719.5,261.4 M557.2,439.7 L735.5,261.4 M573.2,439.7 L751.5,261.4 M589.2,439.7 L767.5,261.4 M605.2,439.7 L783.5,261.4 M621.2,439.7 L799.5,261.4 M637.2,439.7 L815.5,261.4" fill="none"/>
</g>
<line x1="614.0" y1="261.4" x2="614.0" y2="439.7" stroke="#9a6fe0" stroke-width="1.1" stroke-dasharray="4,2.5"/>
<path d="M355.90,277.70 C357.22,277.88 361.03,277.70 363.80,278.80 C366.57,279.90 369.95,281.93 372.50,284.30 C375.05,286.67 377.45,289.72 379.10,293.00 C380.75,296.28 381.75,298.88 382.40,304.00 C383.05,309.12 382.90,316.77 383.00,323.70 C383.10,330.63 383.28,339.55 383.00,345.60 C382.72,351.65 381.73,353.22 381.30,360.00 C380.87,366.78 380.55,381.92 380.40,386.30" fill="none" stroke="#000" stroke-width="2.0"/>
<path d="M380.40,412.50 C379.97,414.55 378.82,421.28 377.80,424.80 C376.78,428.32 375.47,431.78 374.30,433.60 C373.13,435.42 372.27,435.57 370.80,435.70 C369.33,435.83 366.82,434.18 365.50,434.40 C364.18,434.62 363.48,436.12 362.90,437.00 C362.32,437.88 362.15,439.25 362.00,439.70" fill="none" stroke="#000" stroke-width="2.0"/>
<path d="M413.00,261.40 C412.45,263.02 410.97,267.28 409.70,271.10 C408.43,274.92 406.85,279.92 405.40,284.30 C403.95,288.68 401.92,292.67 401.00,297.40 C400.08,302.13 399.90,306.50 399.90,312.70 C399.90,318.90 400.45,327.05 401.00,334.60 C401.55,342.15 402.10,350.85 403.20,358.00 C404.30,365.15 406.38,371.33 407.60,377.50 C408.82,383.67 410.02,392.08 410.50,395.00" fill="none" stroke="#000" stroke-width="2.0"/>
<path d="M415.80,420.00 C415.93,421.67 416.37,426.72 416.60,430.00 C416.83,433.28 417.10,438.08 417.20,439.70" fill="none" stroke="#000" stroke-width="2.0"/>
<path d="M355.90,264.60 C357.93,265.15 364.23,266.27 368.10,267.90 C371.97,269.53 375.45,271.67 379.10,274.40 C382.75,277.13 387.08,282.65 390.00,284.30 C392.92,285.95 394.40,285.40 396.60,284.30 C398.80,283.20 401.37,280.98 403.20,277.70 C405.03,274.42 406.70,267.32 407.60,264.60 C408.50,261.88 408.43,261.93 408.60,261.40" fill="none" stroke="#000" stroke-width="1.0" stroke-dasharray="3,2"/>
<path d="M379.10,261.40 C380.20,262.12 383.52,264.62 385.70,265.70 C387.88,266.78 390.02,268.08 392.20,267.90 C394.38,267.72 397.17,265.68 398.80,264.60 C400.43,263.52 401.47,261.93 402.00,261.40" fill="none" stroke="#000" stroke-width="1.0" stroke-dasharray="3,2"/>
<path d="M418.50,261.40 C417.95,263.75 416.48,270.60 415.20,275.50 C413.92,280.40 411.90,285.68 410.80,290.80 C409.70,295.92 408.85,300.72 408.60,306.20 C408.35,311.68 408.82,318.07 409.30,323.70 C409.78,329.33 410.52,333.63 411.50,340.00 C412.48,346.37 413.67,354.60 415.20,361.90 C416.73,369.20 418.68,376.50 420.70,383.80 C422.72,391.10 425.12,399.13 427.30,405.70 C429.48,412.27 431.62,417.73 433.80,423.20 C435.98,428.67 438.20,437.03 440.40,438.50 C442.60,439.97 445.07,434.42 447.00,432.00 C448.93,429.58 451.17,425.33 452.00,424.00" fill="none" stroke="#000" stroke-width="1.0"/>
<path d="M462.00,416.00 C462.42,415.00 462.63,412.83 464.50,410.00 C466.37,407.17 470.28,402.63 473.20,399.00 C476.12,395.37 479.07,391.28 482.00,388.20 C484.93,385.12 487.80,381.97 490.80,380.50 C493.80,379.03 494.82,379.22 500.00,379.40 C505.18,379.58 516.43,380.32 521.90,381.60 C527.37,382.88 529.15,384.53 532.80,387.10 C536.45,389.67 539.78,393.90 543.80,397.00 C547.82,400.10 551.43,402.80 556.90,405.70 C562.37,408.60 569.67,412.40 576.60,414.40 C583.53,416.40 591.20,417.33 598.50,417.70 C605.80,418.07 614.92,415.68 620.40,416.60 C625.88,417.52 628.12,420.63 631.40,423.20 C634.68,425.77 637.67,429.82 640.10,432.00 C642.53,434.18 645.02,435.58 646.00,436.30" fill="none" stroke="#000" stroke-width="1.0"/>
<path d="M425.00,261.40 C424.47,263.75 422.88,270.60 421.80,275.50 C420.72,280.40 419.42,285.68 418.50,290.80 C417.58,295.92 416.48,300.72 416.30,306.20 C416.12,311.68 416.67,315.90 417.40,323.70 C418.13,331.50 419.05,345.90 420.70,353.00 C422.35,360.10 424.38,362.45 427.30,366.30 C430.22,370.15 433.65,373.48 438.20,376.10 C442.75,378.72 450.58,382.55 454.60,382.00 C458.62,381.45 459.57,376.52 462.30,372.80 C465.03,369.08 468.08,363.70 471.00,359.70 C473.92,355.70 476.87,352.08 479.80,348.80 C482.73,345.52 484.40,342.72 488.60,340.00 C492.80,337.28 501.27,333.58 505.00,332.50 C508.73,331.42 507.83,332.58 511.00,333.50 C514.17,334.42 520.00,335.98 524.00,338.00 C528.00,340.02 531.33,342.88 535.00,345.60 C538.67,348.32 543.42,351.90 546.00,354.30 C548.58,356.70 549.75,359.05 550.50,360.00" fill="none" stroke="#000" stroke-width="1.0"/>
<path d="M561.00,375.00 C562.15,376.10 565.30,379.58 567.90,381.60 C570.50,383.62 572.58,386.37 576.60,387.10 C580.62,387.83 587.25,385.63 592.00,386.00 C596.75,386.37 600.37,388.57 605.10,389.30 C609.83,390.03 616.02,389.50 620.40,390.40 C624.78,391.30 628.12,392.15 631.40,394.70 C634.68,397.25 637.67,402.05 640.10,405.70 C642.53,409.35 645.02,414.78 646.00,416.60" fill="none" stroke="#000" stroke-width="1.0"/>
<path d="M433.80,261.40 C433.25,263.75 431.40,270.23 430.50,275.50 C429.60,280.77 428.75,287.88 428.40,293.00 C428.05,298.12 427.87,302.53 428.40,306.20 C428.93,309.87 429.78,312.08 431.60,315.00 C433.42,317.92 436.73,320.43 439.30,323.70 C441.87,326.97 444.45,331.68 447.00,334.60 C449.55,337.52 452.05,341.20 454.60,341.20 C457.15,341.20 459.57,338.62 462.30,334.60 C465.03,330.58 467.72,322.57 471.00,317.10 C474.28,311.63 478.33,305.63 482.00,301.80 C485.67,297.97 490.00,295.73 493.00,294.10 C496.00,292.47 497.00,292.55 500.00,292.00 C503.00,291.45 507.00,290.45 511.00,290.80 C515.00,291.15 520.00,292.27 524.00,294.10 C528.00,295.93 531.70,298.70 535.00,301.80 C538.30,304.90 541.63,309.67 543.80,312.70 C545.97,315.73 547.30,318.78 548.00,320.00" fill="none" stroke="#000" stroke-width="1.0"/>
<path d="M556.90,339.00 C558.37,341.00 562.42,347.37 565.70,351.00 C568.98,354.63 571.85,359.90 576.60,360.80 C581.35,361.70 589.08,356.03 594.20,356.40 C599.32,356.77 602.93,362.27 607.30,363.00 C611.67,363.73 617.12,359.88 620.40,360.80 C623.68,361.72 624.43,363.57 627.00,368.50 C629.57,373.43 632.63,385.30 635.80,390.40 C638.97,395.50 644.30,397.65 646.00,399.10" fill="none" stroke="#000" stroke-width="1.0"/>
<path d="M449.20,294.10 C448.83,292.47 447.00,287.40 447.00,284.30 C447.00,281.20 448.12,277.52 449.20,275.50 C450.28,273.48 452.23,272.38 453.50,272.20 C454.77,272.02 455.88,273.30 456.80,274.40 C457.72,275.50 458.63,278.07 459.00,278.80" fill="none" stroke="#000" stroke-width="1.0"/>
<path d="M368.60,315.00 C368.70,317.55 368.92,325.20 369.20,330.30 C369.48,335.40 370.30,341.60 370.30,345.60 C370.30,349.60 370.28,352.30 369.20,354.30 C368.12,356.30 366.02,357.32 363.80,357.60 C361.58,357.88 357.22,356.27 355.90,356.00" fill="none" stroke="#000" stroke-width="1.0"/>
<path d="M546.00,261.40 C546.00,264.12 545.08,272.80 546.00,277.70 C546.92,282.60 549.92,286.58 551.50,290.80 C553.08,295.02 554.83,300.97 555.50,303.00" fill="none" stroke="#000" stroke-width="1.0"/>
<path d="M566.50,322.00 C568.00,323.38 572.90,329.65 575.50,330.30 C578.10,330.95 580.52,328.83 582.10,325.90 C583.68,322.97 584.45,318.55 585.00,312.70 C585.55,306.85 585.52,296.63 585.40,290.80 C585.28,284.97 585.20,282.60 584.30,277.70 C583.40,272.80 580.72,264.12 580.00,261.40" fill="none" stroke="#000" stroke-width="1.0"/>
<path d="M646.00,284.30 C644.30,285.38 638.60,287.52 635.80,290.80 C633.00,294.08 630.87,299.80 629.20,304.00 C627.53,308.20 626.23,312.33 625.80,316.00 C625.37,319.67 626.47,324.33 626.60,326.00" fill="none" stroke="#000" stroke-width="1.0"/>
<path d="M628.50,340.00 C628.62,341.67 628.90,347.62 629.20,350.00 C629.50,352.38 629.67,352.63 630.30,354.30 C630.93,355.97 631.38,358.05 633.00,360.00 C634.62,361.95 637.83,364.67 640.00,366.00 C642.17,367.33 645.00,367.67 646.00,368.00" fill="none" stroke="#000" stroke-width="1.0"/>
<path d="M646.00,317.00 C645.25,317.50 642.67,318.50 641.50,320.00 C640.33,321.50 639.42,325.00 639.00,326.00" fill="none" stroke="#000" stroke-width="1.0"/>
</g>
<text x="381.30" y="402.60" font-size="9.63" text-anchor="middle" style="" fill="#1a1a1a" textLength="5.73" lengthAdjust="spacingAndGlyphs">0</text>
<text x="414.60" y="411.70" font-size="9.63" text-anchor="middle" style="" fill="#1a1a1a" textLength="5.73" lengthAdjust="spacingAndGlyphs">0</text>
<text x="368.10" y="307.20" font-size="9.63" text-anchor="middle" style="" fill="#1a1a1a" textLength="5.73" lengthAdjust="spacingAndGlyphs">3</text>
<text x="457.90" y="423.20" font-size="9.63" text-anchor="middle" style="" fill="#1a1a1a" textLength="5.73" lengthAdjust="spacingAndGlyphs">3</text>
<text x="456.80" y="292.90" font-size="9.63" text-anchor="middle" style="" fill="#1a1a1a" textLength="11.45" lengthAdjust="spacingAndGlyphs">12</text>
<text x="561.30" y="318.20" font-size="9.63" text-anchor="middle" style="" fill="#1a1a1a" textLength="11.45" lengthAdjust="spacingAndGlyphs">12</text>
<text x="552.50" y="331.20" font-size="9.63" text-anchor="middle" style="" fill="#1a1a1a" textLength="5.73" lengthAdjust="spacingAndGlyphs">9</text>
<text x="555.80" y="369.00" font-size="9.63" text-anchor="middle" style="" fill="#1a1a1a" textLength="5.73" lengthAdjust="spacingAndGlyphs">6</text>
<text x="633.60" y="366.20" font-size="9.63" text-anchor="middle" style="" fill="#1a1a1a" textLength="11.45" lengthAdjust="spacingAndGlyphs">12</text>
<text x="636.90" y="335.70" font-size="9.63" text-anchor="middle" style="" fill="#1a1a1a" textLength="11.45" lengthAdjust="spacingAndGlyphs">15</text>
<text x="574.40" y="439.50" font-size="9.63" text-anchor="middle" style="" fill="#1a1a1a" textLength="5.73" lengthAdjust="spacingAndGlyphs">0</text>
<rect x="355.9" y="261.4" width="290.4" height="178.3" fill="none" stroke="#000" stroke-width="1.4"/>
<line x1="351.7" y1="261.40" x2="355.9" y2="261.40" stroke="#000" stroke-width="1.0"/>
<line x1="646.3" y1="261.40" x2="650.5" y2="261.40" stroke="#000" stroke-width="1.0"/>
<text x="345.80" y="264.70" font-size="9.63" text-anchor="end" style="" fill="#1a1a1a" textLength="17.18" lengthAdjust="spacingAndGlyphs">100</text>
<line x1="351.7" y1="315.07" x2="355.9" y2="315.07" stroke="#000" stroke-width="1.0"/>
<line x1="646.3" y1="315.07" x2="650.5" y2="315.07" stroke="#000" stroke-width="1.0"/>
<text x="345.80" y="318.37" font-size="9.63" text-anchor="end" style="" fill="#1a1a1a" textLength="17.18" lengthAdjust="spacingAndGlyphs">200</text>
<line x1="351.7" y1="346.47" x2="355.9" y2="346.47" stroke="#000" stroke-width="1.0"/>
<line x1="646.3" y1="346.47" x2="650.5" y2="346.47" stroke="#000" stroke-width="1.0"/>
<text x="345.80" y="349.77" font-size="9.63" text-anchor="end" style="" fill="#1a1a1a" textLength="17.18" lengthAdjust="spacingAndGlyphs">300</text>
<line x1="351.7" y1="368.75" x2="355.9" y2="368.75" stroke="#000" stroke-width="1.0"/>
<line x1="646.3" y1="368.75" x2="650.5" y2="368.75" stroke="#000" stroke-width="1.0"/>
<text x="345.80" y="372.05" font-size="9.63" text-anchor="end" style="" fill="#1a1a1a" textLength="17.18" lengthAdjust="spacingAndGlyphs">400</text>
<line x1="351.7" y1="400.14" x2="355.9" y2="400.14" stroke="#000" stroke-width="1.0"/>
<line x1="646.3" y1="400.14" x2="650.5" y2="400.14" stroke="#000" stroke-width="1.0"/>
<text x="345.80" y="403.44" font-size="9.63" text-anchor="end" style="" fill="#1a1a1a" textLength="17.18" lengthAdjust="spacingAndGlyphs">600</text>
<line x1="351.7" y1="422.42" x2="355.9" y2="422.42" stroke="#000" stroke-width="1.0"/>
<line x1="646.3" y1="422.42" x2="650.5" y2="422.42" stroke="#000" stroke-width="1.0"/>
<text x="345.80" y="425.72" font-size="9.63" text-anchor="end" style="" fill="#1a1a1a" textLength="17.18" lengthAdjust="spacingAndGlyphs">800</text>
<line x1="351.7" y1="439.70" x2="355.9" y2="439.70" stroke="#000" stroke-width="1.0"/>
<line x1="646.3" y1="439.70" x2="650.5" y2="439.70" stroke="#000" stroke-width="1.0"/>
<text x="345.80" y="443.00" font-size="9.63" text-anchor="end" style="" fill="#1a1a1a" textLength="22.91" lengthAdjust="spacingAndGlyphs">1000</text>
<line x1="353.5" y1="386.03" x2="355.9" y2="386.03" stroke="#000" stroke-width="0.9"/>
<line x1="646.3" y1="386.03" x2="648.7" y2="386.03" stroke="#000" stroke-width="0.9"/>
<line x1="353.5" y1="412.08" x2="355.9" y2="412.08" stroke="#000" stroke-width="0.9"/>
<line x1="646.3" y1="412.08" x2="648.7" y2="412.08" stroke="#000" stroke-width="0.9"/>
<line x1="353.5" y1="431.54" x2="355.9" y2="431.54" stroke="#000" stroke-width="0.9"/>
<line x1="646.3" y1="431.54" x2="648.7" y2="431.54" stroke="#000" stroke-width="0.9"/>
<line x1="355.90" y1="439.7" x2="355.90" y2="443.9" stroke="#000" stroke-width="1.0"/>
<text x="355.90" y="455.70" font-size="9.63" text-anchor="middle" style="" fill="#1a1a1a" textLength="21.67" lengthAdjust="spacingAndGlyphs">90°S</text>
<line x1="404.30" y1="439.7" x2="404.30" y2="443.9" stroke="#000" stroke-width="1.0"/>
<text x="404.30" y="455.70" font-size="9.63" text-anchor="middle" style="" fill="#1a1a1a" textLength="21.67" lengthAdjust="spacingAndGlyphs">60°S</text>
<line x1="452.70" y1="439.7" x2="452.70" y2="443.9" stroke="#000" stroke-width="1.0"/>
<text x="452.70" y="455.70" font-size="9.63" text-anchor="middle" style="" fill="#1a1a1a" textLength="21.67" lengthAdjust="spacingAndGlyphs">30°S</text>
<line x1="501.10" y1="439.7" x2="501.10" y2="443.9" stroke="#000" stroke-width="1.0"/>
<text x="501.10" y="455.70" font-size="9.63" text-anchor="middle" style="" fill="#1a1a1a" textLength="10.23" lengthAdjust="spacingAndGlyphs">0°</text>
<line x1="549.50" y1="439.7" x2="549.50" y2="443.9" stroke="#000" stroke-width="1.0"/>
<text x="549.50" y="455.70" font-size="9.63" text-anchor="middle" style="" fill="#1a1a1a" textLength="22.68" lengthAdjust="spacingAndGlyphs">30°N</text>
<line x1="597.90" y1="439.7" x2="597.90" y2="443.9" stroke="#000" stroke-width="1.0"/>
<text x="597.90" y="455.70" font-size="9.63" text-anchor="middle" style="" fill="#1a1a1a" textLength="22.68" lengthAdjust="spacingAndGlyphs">60°N</text>
<line x1="646.30" y1="439.7" x2="646.30" y2="443.9" stroke="#000" stroke-width="1.0"/>
<text x="646.30" y="455.70" font-size="9.63" text-anchor="middle" style="" fill="#1a1a1a" textLength="22.68" lengthAdjust="spacingAndGlyphs">90°N</text>
<text x="501.00" y="470.10" font-size="9.63" text-anchor="middle" style="" fill="#1a1a1a" textLength="37.04" lengthAdjust="spacingAndGlyphs">Latitude</text>
<text x="0" y="0" font-size="9" fill="#262626" text-anchor="middle" textLength="64.6" lengthAdjust="spacingAndGlyphs" transform="translate(316.6,350.5) rotate(-90)">Pressure [hPa]</text>
<clipPath id="cf"><rect x="355.9" y="493.1" width="290.4" height="178.3"/></clipPath>
<g clip-path="url(#cf)">
<path fill="#ec8a30" stroke="#ec8a30" stroke-width="0.5" fill-rule="evenodd" d="M495.8,664.1 499.8,664.1 501.0,665.1 501.2,666.1 499.9,667.3 496.9,667.4 495.0,665.1 495.8,664.1Z"/>
<path fill="#f0b048" stroke="#f0b048" stroke-width="0.5" fill-rule="evenodd" d="M492.9,662.1 495.9,661.3 500.9,662.2 503.2,664.1 503.4,666.1 500.9,668.4 497.9,668.9 495.9,668.6 492.1,665.1 491.9,663.1 492.9,662.1ZM495.9,664.1 495.0,665.1 496.9,667.4 499.9,667.3 501.2,666.1 501.0,665.1 499.8,664.1 495.9,664.1Z"/>
<path fill="#f2da88" stroke="#f2da88" stroke-width="0.5" fill-rule="evenodd" d="M492.1,660.1 495.9,659.3 502.6,661.1 504.0,662.1 505.3,664.1 504.6,667.1 502.9,668.7 499.9,669.8 496.9,669.9 493.5,669.1 488.5,664.1 489.5,662.1 492.1,660.1ZM492.9,662.1 491.9,663.1 492.1,665.1 495.9,668.6 497.9,668.9 500.9,668.4 503.4,666.1 503.2,664.1 500.9,662.2 495.9,661.3 492.9,662.1Z"/>
<path fill="#f3f3b8" stroke="#f3f3b8" stroke-width="0.5" fill-rule="evenodd" d="M445.3,645.1 448.9,644.7 454.9,646.2 456.9,647.7 458.6,651.1 458.6,654.1 456.9,659.1 454.9,660.7 448.9,663.3 445.9,662.7 440.9,656.8 436.9,655.5 435.7,654.1 436.2,652.1 438.5,649.1 442.9,647.0 445.3,645.1ZM491.9,658.1 493.9,657.5 496.9,657.7 501.4,659.1 504.9,661.0 506.9,664.1 506.8,666.1 505.8,668.1 502.9,670.4 499.9,671.0 484.8,671.1 482.3,670.1 481.4,669.1 481.9,667.1 484.4,665.1 487.9,660.6 491.9,658.1ZM492.9,659.7 489.5,662.1 488.5,664.1 492.9,668.7 495.9,669.8 499.9,669.8 502.9,668.7 504.6,667.1 505.3,664.1 502.9,661.3 496.9,659.4 492.9,659.7Z"/>
<path fill="#ddf4d4" stroke="#ddf4d4" stroke-width="0.5" fill-rule="evenodd" d="M512.2,596.1 513.9,595.5 515.9,595.9 517.8,598.1 518.3,600.1 517.6,605.1 518.3,610.1 517.9,613.1 516.6,615.1 513.9,616.0 511.9,615.5 510.9,614.1 509.4,605.1 509.8,600.1 510.9,597.4 512.2,596.1ZM594.9,600.1 599.9,602.8 604.9,603.4 609.9,606.2 621.9,605.9 626.9,609.0 633.9,610.6 638.9,609.6 641.9,606.1 642.9,606.2 645.9,608.9 645.9,623.7 642.9,623.6 637.9,625.0 635.9,624.5 632.9,622.5 626.9,623.3 624.1,622.1 621.3,618.1 618.9,617.1 615.9,618.1 611.9,622.7 609.9,623.0 601.9,617.9 598.9,617.3 594.9,617.5 591.7,615.1 588.9,614.4 586.8,615.1 584.9,617.9 580.9,616.4 577.9,616.2 574.9,616.9 571.9,619.1 567.9,618.6 562.9,619.3 557.9,618.6 553.7,620.1 551.9,623.1 550.1,624.1 541.9,625.2 536.9,624.9 528.9,628.0 523.9,628.3 518.9,627.1 507.9,628.4 499.9,631.9 497.0,635.1 495.3,640.1 495.8,649.1 498.3,653.1 508.9,659.6 512.9,663.8 517.5,667.1 520.4,671.1 512.8,671.1 511.4,669.1 510.0,663.1 507.9,660.3 491.9,651.2 487.9,653.9 479.1,663.1 476.9,664.5 473.9,664.6 468.9,662.6 467.6,661.1 466.3,657.1 465.8,649.1 463.8,643.1 461.1,639.1 460.8,637.1 462.1,633.1 467.9,627.7 473.9,626.0 477.9,626.5 484.0,631.1 487.9,636.4 490.9,637.7 495.9,630.7 500.1,627.1 500.9,624.1 501.9,623.2 507.9,623.7 512.9,621.8 516.9,621.8 521.9,618.3 528.9,617.7 531.2,616.1 533.9,610.7 535.9,608.7 539.9,608.9 542.5,613.1 543.9,613.7 545.1,613.1 548.3,608.1 557.9,602.5 559.9,602.4 564.9,605.4 567.9,604.8 572.9,602.1 574.9,602.3 577.9,604.5 578.9,604.5 583.9,601.8 588.9,601.8 594.9,600.1ZM473.9,636.9 471.1,639.1 469.0,644.1 469.9,654.8 470.9,657.0 472.3,658.1 477.9,659.3 481.9,657.3 485.3,653.1 486.3,650.1 486.2,644.1 484.9,641.5 480.9,637.5 477.9,636.6 473.9,636.9ZM425.7,668.1 428.9,667.6 432.9,667.9 435.9,669.1 436.3,670.1 435.6,671.1 424.2,671.1 423.6,670.1 424.0,669.1 425.7,668.1Z"/>
<path fill="#c4eab8" stroke="#c4eab8" stroke-width="0.5" fill-rule="evenodd" d="M586.8,615.1 589.9,614.4 594.9,617.5 598.9,617.3 601.9,617.9 609.9,623.0 611.9,622.7 615.9,618.1 618.9,617.1 621.3,618.1 624.1,622.1 626.9,623.3 632.9,622.5 635.9,624.5 637.9,625.0 642.9,623.6 645.9,623.7 645.9,649.8 643.9,647.6 641.9,646.7 637.9,648.5 633.9,647.4 632.4,646.1 630.7,643.1 626.9,640.5 622.9,634.6 620.9,634.1 614.9,634.4 612.4,631.1 610.9,630.3 608.9,631.0 606.9,634.9 605.9,635.2 600.9,634.6 597.9,631.3 594.9,631.1 590.9,633.1 587.9,636.6 586.9,637.0 583.9,636.1 582.3,638.1 579.9,639.2 575.7,636.1 571.9,634.7 559.9,641.7 554.9,642.8 550.9,641.3 546.9,636.0 545.9,635.6 541.9,635.6 535.9,632.7 532.9,632.3 525.9,633.3 517.9,630.7 510.9,630.6 501.9,634.7 498.9,637.7 497.6,641.1 498.5,650.1 502.2,654.1 513.9,661.6 519.9,664.3 525.0,671.1 520.4,671.1 517.5,667.1 512.9,663.8 509.5,660.1 499.6,654.1 497.3,652.1 496.1,650.1 495.2,641.1 496.5,636.1 499.7,632.1 505.9,629.0 509.9,628.0 518.9,627.1 523.9,628.3 528.9,628.0 536.9,624.9 541.9,625.2 550.1,624.1 551.9,623.1 553.7,620.1 557.9,618.6 562.9,619.3 567.9,618.6 571.9,619.1 574.9,616.9 577.9,616.2 580.9,616.4 584.9,617.9 586.8,615.1ZM473.3,637.1 477.9,636.6 480.9,637.5 484.9,641.5 486.2,644.1 486.3,650.1 485.3,653.1 481.9,657.3 477.9,659.3 472.3,658.1 470.9,657.0 469.9,654.8 469.0,644.1 471.1,639.1 473.3,637.1ZM476.9,642.5 474.9,644.2 473.1,647.1 472.7,651.1 474.6,655.1 476.9,656.5 478.9,656.6 480.9,655.9 482.9,654.0 484.1,651.1 484.0,648.1 483.1,645.1 481.9,643.6 478.9,642.4 476.9,642.5ZM645.1,668.1 645.9,667.4 645.9,671.1 635.7,671.1 638.9,669.3 642.9,669.0 645.1,668.1ZM550.7,669.1 552.9,668.7 556.9,670.8 559.8,671.1 546.3,671.1 550.7,669.1Z"/>
<path fill="#9cd8b8" stroke="#9cd8b8" stroke-width="0.5" fill-rule="evenodd" d="M509.2,631.1 512.9,630.4 516.9,630.5 525.9,633.3 532.9,632.3 535.9,632.7 541.9,635.6 545.9,635.6 546.9,636.0 550.9,641.3 554.9,642.8 559.9,641.7 571.9,634.7 575.7,636.1 579.9,639.2 582.3,638.1 583.9,636.1 586.9,637.0 587.9,636.6 590.9,633.1 594.9,631.1 597.9,631.3 600.9,634.6 605.9,635.2 606.9,634.9 608.9,631.0 610.9,630.3 612.4,631.1 614.9,634.4 620.9,634.1 622.9,634.6 626.9,640.5 630.7,643.1 632.4,646.1 633.9,647.4 637.9,648.5 641.9,646.7 644.4,648.1 645.9,649.8 645.9,667.4 643.9,668.7 638.9,669.3 635.7,671.1 620.1,671.1 626.9,669.9 632.4,667.1 633.8,665.1 634.5,659.1 634.0,658.1 627.9,654.8 619.9,652.9 615.9,653.4 610.9,650.5 607.9,649.8 597.9,652.3 588.9,652.6 583.9,652.0 578.9,652.5 577.4,653.1 575.9,656.7 574.9,657.6 565.9,660.2 560.9,659.9 558.9,661.0 558.4,663.1 558.9,665.1 560.9,667.0 562.9,667.0 565.9,665.8 569.9,666.0 574.9,667.6 579.9,668.0 585.1,671.1 557.9,671.0 552.9,668.7 546.3,671.1 538.0,671.1 542.9,666.3 544.5,663.1 544.1,656.1 544.7,649.1 544.1,647.1 538.9,640.0 535.9,637.6 532.9,636.9 527.9,637.7 523.9,637.5 517.9,633.7 513.9,632.9 508.9,634.2 502.5,639.1 501.3,642.1 501.2,650.1 503.5,653.1 511.9,658.3 514.9,659.7 519.9,660.4 521.9,661.5 525.9,668.1 528.9,671.1 525.0,671.1 519.9,664.3 513.9,661.6 502.2,654.1 498.5,650.1 497.6,642.1 498.7,638.1 501.3,635.1 509.2,631.1ZM476.0,643.1 477.9,642.3 480.9,643.0 482.9,644.8 483.9,647.5 484.2,650.1 483.5,653.1 481.9,655.1 478.9,656.6 476.9,656.5 474.6,655.1 472.7,651.1 473.1,647.1 476.0,643.1ZM479.9,647.0 478.4,648.1 477.5,650.1 477.8,653.1 478.9,653.8 480.9,653.2 482.0,651.1 481.6,648.1 479.9,647.0Z"/>
<path fill="#74cac8" stroke="#74cac8" stroke-width="0.5" fill-rule="evenodd" d="M511.8,633.1 516.9,633.3 522.9,637.1 524.9,637.7 532.9,636.9 535.9,637.6 538.9,640.0 543.5,646.1 544.7,649.1 544.1,656.1 544.5,663.1 542.9,666.3 538.0,671.1 528.9,671.1 525.9,668.1 522.9,662.6 521.4,661.1 512.9,658.9 504.9,654.1 501.7,651.1 500.9,648.1 501.8,640.1 507.9,634.9 511.8,633.1ZM512.9,636.0 508.9,638.0 504.9,642.7 503.8,647.1 504.7,651.1 509.6,655.1 514.9,657.3 518.9,656.5 522.9,653.7 523.9,653.7 526.9,664.1 528.4,667.1 531.9,670.2 533.9,670.6 535.2,670.1 537.9,667.1 540.5,662.1 540.2,657.1 540.9,650.1 538.4,644.1 535.9,641.3 532.9,640.4 528.9,641.6 524.9,644.8 523.9,644.5 518.9,638.2 515.9,636.6 512.9,636.0ZM479.6,647.1 480.9,647.3 481.6,648.1 482.0,651.1 480.9,653.2 478.9,653.8 477.8,653.1 477.3,651.1 477.9,648.9 479.6,647.1ZM606.5,650.1 609.9,650.0 615.9,653.4 619.9,652.9 627.9,654.8 634.0,658.1 634.5,659.1 633.4,666.1 626.9,669.9 620.1,671.1 585.1,671.1 579.9,668.0 575.9,667.8 570.9,666.2 566.9,665.7 561.3,667.1 559.9,666.5 558.9,665.1 558.5,662.1 559.9,660.2 565.9,660.2 574.9,657.6 577.9,652.8 583.9,652.0 588.9,652.6 597.9,652.3 606.5,650.1ZM603.9,656.0 597.9,658.3 592.8,659.1 590.2,661.1 587.8,664.1 587.4,665.1 587.9,666.2 590.9,666.0 601.9,668.7 606.9,669.0 608.9,668.6 613.9,666.2 618.9,667.1 622.5,666.1 623.9,665.1 624.3,664.1 624.0,662.1 621.9,659.6 616.9,659.6 608.3,656.1 603.9,656.0Z"/>
<path fill="#4ba0c8" stroke="#4ba0c8" stroke-width="0.5" fill-rule="evenodd" d="M512.4,636.1 514.9,636.3 518.9,638.2 523.9,644.5 524.9,644.8 528.9,641.6 532.9,640.4 535.6,641.1 537.9,643.3 540.9,650.1 540.2,657.1 540.5,662.1 537.9,667.1 535.2,670.1 533.9,670.6 531.9,670.2 528.4,667.1 526.9,664.1 523.9,653.7 522.9,653.7 518.9,656.5 514.9,657.3 509.6,655.1 504.7,651.1 503.8,647.1 504.9,642.7 508.9,638.0 512.4,636.1ZM531.9,645.1 529.9,646.6 528.7,649.1 528.8,658.1 529.7,662.1 530.8,664.1 532.1,665.1 533.9,665.4 535.9,663.6 536.9,661.2 537.5,652.1 536.8,649.1 535.2,646.1 533.9,645.2 531.9,645.1ZM511.9,640.7 509.9,641.7 507.5,644.1 506.6,646.1 506.6,649.1 507.7,651.1 510.9,653.7 513.9,654.7 515.9,654.4 518.9,652.1 519.8,650.1 519.8,647.1 518.2,643.1 516.9,641.5 514.9,640.6 511.9,640.7ZM603.1,656.1 607.9,656.0 616.9,659.6 621.9,659.6 623.5,661.1 624.3,664.1 622.9,665.9 620.9,666.6 617.9,667.1 613.9,666.2 608.9,668.6 606.9,669.0 601.9,668.7 590.9,666.0 587.9,666.2 587.4,665.1 587.8,664.1 591.9,659.7 593.9,658.7 597.9,658.3 603.1,656.1Z"/>
<path fill="#3670b6" stroke="#3670b6" stroke-width="0.5" fill-rule="evenodd" d="M511.0,641.1 513.9,640.5 516.2,641.1 517.9,642.6 519.5,646.1 520.0,649.1 519.4,651.1 518.1,653.1 515.9,654.4 513.9,654.7 510.9,653.7 507.7,651.1 506.6,649.1 506.9,645.1 508.9,642.5 511.0,641.1ZM511.9,644.6 509.9,646.5 509.9,649.1 511.9,651.2 514.9,651.2 516.1,649.1 515.4,646.1 513.9,644.5 511.9,644.6ZM531.8,645.1 533.9,645.2 535.2,646.1 536.8,649.1 537.5,652.1 536.9,661.2 535.9,663.6 533.9,665.4 532.1,665.1 530.8,664.1 529.7,662.1 528.8,658.1 528.7,649.1 529.9,646.6 531.8,645.1Z"/>
<path fill="#24458c" stroke="#24458c" stroke-width="0.5" fill-rule="evenodd" d="M510.9,645.1 512.9,644.3 514.9,645.3 516.1,649.1 514.9,651.2 511.9,651.2 509.9,649.2 509.7,647.1 510.9,645.1Z"/>
<clipPath id="cfh"><path d="M356.00,522.00 L372.00,522.00 L392.00,526.00 L404.00,512.00 L410.00,493.30 L418.00,493.30 L411.00,540.00 L418.00,585.00 L438.00,600.00 L470.00,600.00 L498.00,588.00 L525.00,592.00 L525.00,608.00 L505.00,625.00 L480.00,640.00 L478.00,671.00 L356.00,671.00 ZM541.00,493.30 L561.00,493.30 L558.00,526.00 L542.00,526.00 Z"/></clipPath>
<g clip-path="url(#cfh)" stroke="#b0b0b0" stroke-width="1.0">
<path d="M161.8,671.4 L340.1,493.1 M177.8,671.4 L356.1,493.1 M193.8,671.4 L372.1,493.1 M209.8,671.4 L388.1,493.1 M225.8,671.4 L404.1,493.1 M241.8,671.4 L420.1,493.1 M257.8,671.4 L436.1,493.1 M273.8,671.4 L452.1,493.1 M289.8,671.4 L468.1,493.1 M305.8,671.4 L484.1,493.1 M321.8,671.4 L500.1,493.1 M337.8,671.4 L516.1,493.1 M353.8,671.4 L532.1,493.1 M369.8,671.4 L548.1,493.1 M385.8,671.4 L564.1,493.1 M401.8,671.4 L580.1,493.1 M417.8,671.4 L596.1,493.1 M433.8,671.4 L612.1,493.1 M449.8,671.4 L628.1,493.1 M465.8,671.4 L644.1,493.1 M481.8,671.4 L660.1,493.1 M497.8,671.4 L676.1,493.1 M513.8,671.4 L692.1,493.1 M529.8,671.4 L708.1,493.1 M545.8,671.4 L724.1,493.1 M561.8,671.4 L740.1,493.1 M577.8,671.4 L756.1,493.1 M593.8,671.4 L772.1,493.1 M609.8,671.4 L788.1,493.1 M625.8,671.4 L804.1,493.1 M641.8,671.4 L820.1,493.1" fill="none"/>
</g>
<line x1="614.0" y1="493.1" x2="614.0" y2="671.4000000000001" stroke="#9a6fe0" stroke-width="1.1" stroke-dasharray="4,2.5"/>
<path d="M355.90,516.30 C357.22,516.48 360.67,515.95 363.80,517.40 C366.93,518.85 372.15,521.90 374.70,525.00 C377.25,528.10 378.00,532.33 379.10,536.00 C380.20,539.67 380.93,541.90 381.30,547.00 C381.67,552.10 381.48,559.12 381.30,566.60 C381.12,574.08 380.57,584.03 380.20,591.90 C379.83,599.77 379.47,606.50 379.10,613.80 C378.73,621.10 378.73,629.13 378.00,635.70 C377.27,642.27 375.25,650.28 374.70,653.20" fill="none" stroke="#000" stroke-width="2.0"/>
<path d="M375.80,509.70 C377.08,510.98 380.95,515.22 383.50,517.40 C386.05,519.58 388.73,522.25 391.10,522.80 C393.47,523.35 395.50,522.88 397.70,520.70 C399.90,518.52 402.65,513.72 404.30,509.70 C405.95,505.68 406.88,499.33 407.60,496.60 C408.32,493.87 408.43,493.85 408.60,493.30" fill="none" stroke="#000" stroke-width="1.0" stroke-dasharray="3,2"/>
<path d="M413.00,493.30 C412.45,495.67 410.97,502.58 409.70,507.50 C408.43,512.42 406.68,516.60 405.40,522.80 C404.12,529.00 402.37,537.40 402.00,544.70 C401.63,552.00 402.82,562.38 403.20,566.60 C403.58,570.82 403.57,565.78 404.30,570.00 C405.03,574.22 406.73,586.07 407.60,591.90 C408.47,597.73 409.18,602.82 409.50,605.00" fill="none" stroke="#000" stroke-width="2.0"/>
<path d="M413.00,627.00 C413.55,630.27 415.20,639.32 416.30,646.60 C417.40,653.88 419.05,666.68 419.60,670.70" fill="none" stroke="#000" stroke-width="2.0"/>
<path d="M418.50,493.30 C417.77,496.40 415.38,505.15 414.10,511.90 C412.82,518.65 411.17,526.50 410.80,533.80 C410.43,541.10 411.53,549.67 411.90,555.70 C412.27,561.73 411.90,562.15 413.00,570.00 C414.10,577.85 416.50,593.68 418.50,602.80 C420.50,611.92 422.82,618.12 425.00,624.70 C427.18,631.28 429.03,636.45 431.60,642.30 C434.17,648.15 437.83,657.25 440.40,659.80 C442.97,662.35 444.45,659.62 447.00,657.60 C449.55,655.58 453.70,649.97 455.70,647.70 C457.70,645.43 458.45,644.62 459.00,644.00" fill="none" stroke="#000" stroke-width="1.0"/>
<path d="M467.50,634.00 C467.73,633.55 467.22,634.30 468.90,631.30 C470.58,628.30 473.95,620.20 477.60,616.00 C481.25,611.80 487.08,607.77 490.80,606.10 C494.52,604.43 496.32,605.82 499.90,606.00 C503.48,606.18 508.17,606.78 512.30,607.20 C516.43,607.62 520.98,607.25 524.70,608.50 C528.42,609.75 531.30,612.43 534.60,614.70 C537.90,616.97 541.20,619.62 544.50,622.10 C547.80,624.58 550.68,626.92 554.40,629.60 C558.12,632.28 562.65,635.93 566.80,638.20 C570.95,640.47 574.33,641.95 579.30,643.20 C584.27,644.45 591.23,645.07 596.60,645.70 C601.97,646.33 607.37,647.00 611.50,647.00 C615.63,647.00 618.08,645.30 621.40,645.70 C624.72,646.10 627.30,648.37 631.40,649.40 C635.50,650.43 643.57,651.48 646.00,651.90" fill="none" stroke="#000" stroke-width="1.0"/>
<path d="M425.00,493.30 C424.28,496.40 421.97,505.15 420.70,511.90 C419.43,518.65 417.77,526.50 417.40,533.80 C417.03,541.10 417.95,549.67 418.50,555.70 C419.05,561.73 419.78,565.78 420.70,570.00 C421.62,574.22 422.90,577.53 424.00,581.00 C425.10,584.47 426.75,589.17 427.30,590.80" fill="none" stroke="#000" stroke-width="1.0"/>
<path d="M444.80,605.00 C446.25,605.73 450.58,609.40 453.50,609.40 C456.42,609.40 459.02,608.28 462.30,605.00 C465.58,601.72 469.18,595.73 473.20,589.70 C477.22,583.67 482.75,573.37 486.40,568.80 C490.05,564.23 492.00,563.77 495.10,562.30 C498.20,560.83 502.35,560.00 505.00,560.00 C507.65,560.00 508.18,561.57 511.00,562.30 C513.82,563.03 518.27,562.95 521.90,564.40 C525.53,565.85 529.15,568.43 532.80,571.00 C536.45,573.57 540.20,575.83 543.80,579.80 C547.40,583.77 550.57,590.23 554.40,594.80 C558.23,599.37 562.65,603.68 566.80,607.20 C570.95,610.72 574.75,614.65 579.30,615.90 C583.85,617.15 589.98,614.50 594.10,614.70 C598.22,614.90 600.68,616.48 604.00,617.10 C607.32,617.72 611.10,618.40 614.00,618.40 C616.90,618.40 618.92,616.27 621.40,617.10 C623.88,617.93 626.42,620.50 628.90,623.40 C631.38,626.30 633.45,631.82 636.30,634.50 C639.15,637.18 644.38,638.67 646.00,639.50" fill="none" stroke="#000" stroke-width="1.0"/>
<path d="M433.80,493.30 C433.25,496.03 431.23,504.42 430.50,509.70 C429.77,514.98 429.22,519.52 429.40,525.00 C429.58,530.48 429.77,537.48 431.60,542.60 C433.43,547.72 437.47,551.70 440.40,555.70 C443.33,559.70 446.65,564.42 449.20,566.60 C451.75,568.78 453.15,569.90 455.70,568.80 C458.25,567.70 461.40,564.02 464.50,560.00 C467.60,555.98 472.67,547.25 474.30,544.70" fill="none" stroke="#000" stroke-width="1.0"/>
<path d="M483.50,527.00 C483.80,526.67 484.82,527.52 485.30,525.00 C485.78,522.48 486.40,517.18 486.40,511.90 C486.40,506.62 485.48,496.40 485.30,493.30" fill="none" stroke="#000" stroke-width="1.0"/>
<path d="M520.80,493.30 C521.17,496.03 522.08,504.58 523.00,509.70 C523.92,514.82 524.30,519.98 526.30,524.00 C528.30,528.02 532.08,530.35 535.00,533.80 C537.92,537.25 541.42,541.23 543.80,544.70 C546.18,548.17 548.38,552.95 549.30,554.60" fill="none" stroke="#000" stroke-width="1.0"/>
<path d="M559.10,572.10 C560.57,573.75 565.17,579.02 567.90,582.00 C570.63,584.98 572.95,589.10 575.50,590.00 C578.05,590.90 580.45,588.37 583.20,587.40 C585.95,586.43 589.82,584.55 592.00,584.20 C594.18,583.85 594.85,584.58 596.30,585.30 C597.75,586.02 598.58,587.33 600.70,588.50 C602.82,589.67 605.55,592.07 609.00,592.30 C612.45,592.53 618.08,589.48 621.40,589.90 C624.72,590.32 626.42,591.92 628.90,594.80 C631.38,597.68 633.45,604.92 636.30,607.20 C639.15,609.48 644.38,608.28 646.00,608.50" fill="none" stroke="#000" stroke-width="1.0"/>
<path d="M559.10,493.30 C558.55,496.03 556.53,504.42 555.80,509.70 C555.07,514.98 554.58,521.72 554.70,525.00 C554.82,528.28 556.20,528.67 556.50,529.40" fill="none" stroke="#000" stroke-width="1.0"/>
<path d="M565.70,550.20 C567.15,551.12 571.85,555.88 574.40,555.70 C576.95,555.52 579.53,554.22 581.00,549.10 C582.47,543.98 583.93,532.30 583.20,525.00 C582.47,517.70 578.80,510.58 576.60,505.30 C574.40,500.02 571.10,495.30 570.00,493.30" fill="none" stroke="#000" stroke-width="1.0"/>
<path d="M634.70,525.00 C633.78,527.20 630.42,534.18 629.20,538.20 C627.98,542.22 627.58,544.37 627.40,549.10 C627.22,553.83 627.62,560.75 628.10,566.60 C628.58,572.45 629.75,580.30 630.30,584.20 C630.85,588.10 630.40,588.23 631.40,590.00 C632.40,591.77 633.87,591.93 636.30,594.80 C638.73,597.67 644.38,605.13 646.00,607.20" fill="none" stroke="#000" stroke-width="1.0"/>
<path d="M646.00,552.40 C645.02,553.32 641.43,555.53 640.10,557.90 C638.77,560.27 638.35,565.15 638.00,566.60" fill="none" stroke="#000" stroke-width="1.0"/>
<path d="M393.00,613.50 C393.38,614.25 394.87,615.58 395.30,618.00 C395.73,620.42 395.78,625.00 395.60,628.00 C395.42,631.00 394.75,635.00 394.20,636.00 C393.65,637.00 392.83,636.00 392.30,634.00 C391.77,632.00 391.13,626.83 391.00,624.00 C390.87,621.17 391.17,618.75 391.50,617.00 C391.83,615.25 392.75,614.08 393.00,613.50" fill="none" stroke="#000" stroke-width="1.0" stroke-dasharray="2.5,1.5"/>
<path d="M357.00,544.00 C357.50,543.33 359.17,539.67 360.00,540.00 C360.83,540.33 361.67,545.00 362.00,546.00" fill="none" stroke="#000" stroke-width="1.0"/>
<path d="M356.00,556.00 L360.00,562.00" fill="none" stroke="#000" stroke-width="1.0"/>
<path d="M522.00,670.50 C523.27,670.30 527.50,669.30 529.60,669.30 C531.70,669.30 533.77,670.30 534.60,670.50" fill="none" stroke="#000" stroke-width="2.2"/>
<path d="M574.30,665.50 L581.70,669.30" fill="none" stroke="#000" stroke-width="2.2"/>
<path d="M615.20,669.30 L621.40,670.50" fill="none" stroke="#000" stroke-width="2.2"/>
</g>
<text x="368.10" y="503.70" font-size="9.63" text-anchor="middle" style="" fill="#1a1a1a" textLength="8.97" lengthAdjust="spacingAndGlyphs">-3</text>
<text x="389.50" y="506.20" font-size="9.63" text-anchor="middle" style="" fill="#1a1a1a" textLength="8.97" lengthAdjust="spacingAndGlyphs">-6</text>
<text x="367.00" y="566.60" font-size="9.63" text-anchor="middle" style="" fill="#1a1a1a" textLength="5.73" lengthAdjust="spacingAndGlyphs">3</text>
<text x="478.70" y="538.10" font-size="9.63" text-anchor="middle" style="" fill="#1a1a1a" textLength="5.73" lengthAdjust="spacingAndGlyphs">9</text>
<text x="560.20" y="543.20" font-size="9.63" text-anchor="middle" style="" fill="#1a1a1a" textLength="11.45" lengthAdjust="spacingAndGlyphs">12</text>
<text x="555.80" y="565.50" font-size="9.63" text-anchor="middle" style="" fill="#1a1a1a" textLength="5.73" lengthAdjust="spacingAndGlyphs">9</text>
<text x="639.00" y="580.80" font-size="9.63" text-anchor="middle" style="" fill="#1a1a1a" textLength="11.45" lengthAdjust="spacingAndGlyphs">15</text>
<text x="643.50" y="521.70" font-size="9.63" text-anchor="middle" style="" fill="#1a1a1a" textLength="5.73" lengthAdjust="spacingAndGlyphs">1</text>
<text x="436.00" y="600.60" font-size="9.63" text-anchor="middle" style="" fill="#1a1a1a" textLength="5.73" lengthAdjust="spacingAndGlyphs">6</text>
<text x="463.80" y="642.80" font-size="9.63" text-anchor="middle" style="" fill="#1a1a1a" textLength="5.73" lengthAdjust="spacingAndGlyphs">3</text>
<text x="392.20" y="612.60" font-size="9.63" text-anchor="middle" style="" fill="#1a1a1a" textLength="8.97" lengthAdjust="spacingAndGlyphs">-3</text>
<text x="412.00" y="619.60" font-size="9.63" text-anchor="middle" style="" fill="#1a1a1a" textLength="5.73" lengthAdjust="spacingAndGlyphs">0</text>
<text x="374.70" y="666.20" font-size="9.63" text-anchor="middle" style="" fill="#1a1a1a" textLength="5.73" lengthAdjust="spacingAndGlyphs">0</text>
<text x="493.60" y="671.20" font-size="9.63" text-anchor="middle" style="" fill="#1a1a1a" textLength="5.73" lengthAdjust="spacingAndGlyphs">0</text>
<text x="512.30" y="670.00" font-size="9.63" text-anchor="middle" style="" fill="#1a1a1a" textLength="5.73" lengthAdjust="spacingAndGlyphs">0</text>
<text x="564.40" y="670.00" font-size="9.63" text-anchor="middle" style="" fill="#1a1a1a" textLength="5.73" lengthAdjust="spacingAndGlyphs">0</text>
<rect x="355.9" y="493.1" width="290.4" height="178.3" fill="none" stroke="#000" stroke-width="1.4"/>
<line x1="351.7" y1="493.10" x2="355.9" y2="493.10" stroke="#000" stroke-width="1.0"/>
<line x1="646.3" y1="493.10" x2="650.5" y2="493.10" stroke="#000" stroke-width="1.0"/>
<text x="345.80" y="496.40" font-size="9.63" text-anchor="end" style="" fill="#1a1a1a" textLength="17.18" lengthAdjust="spacingAndGlyphs">100</text>
<line x1="351.7" y1="546.77" x2="355.9" y2="546.77" stroke="#000" stroke-width="1.0"/>
<line x1="646.3" y1="546.77" x2="650.5" y2="546.77" stroke="#000" stroke-width="1.0"/>
<text x="345.80" y="550.07" font-size="9.63" text-anchor="end" style="" fill="#1a1a1a" textLength="17.18" lengthAdjust="spacingAndGlyphs">200</text>
<line x1="351.7" y1="578.17" x2="355.9" y2="578.17" stroke="#000" stroke-width="1.0"/>
<line x1="646.3" y1="578.17" x2="650.5" y2="578.17" stroke="#000" stroke-width="1.0"/>
<text x="345.80" y="581.47" font-size="9.63" text-anchor="end" style="" fill="#1a1a1a" textLength="17.18" lengthAdjust="spacingAndGlyphs">300</text>
<line x1="351.7" y1="600.45" x2="355.9" y2="600.45" stroke="#000" stroke-width="1.0"/>
<line x1="646.3" y1="600.45" x2="650.5" y2="600.45" stroke="#000" stroke-width="1.0"/>
<text x="345.80" y="603.75" font-size="9.63" text-anchor="end" style="" fill="#1a1a1a" textLength="17.18" lengthAdjust="spacingAndGlyphs">400</text>
<line x1="351.7" y1="631.84" x2="355.9" y2="631.84" stroke="#000" stroke-width="1.0"/>
<line x1="646.3" y1="631.84" x2="650.5" y2="631.84" stroke="#000" stroke-width="1.0"/>
<text x="345.80" y="635.14" font-size="9.63" text-anchor="end" style="" fill="#1a1a1a" textLength="17.18" lengthAdjust="spacingAndGlyphs">600</text>
<line x1="351.7" y1="654.12" x2="355.9" y2="654.12" stroke="#000" stroke-width="1.0"/>
<line x1="646.3" y1="654.12" x2="650.5" y2="654.12" stroke="#000" stroke-width="1.0"/>
<text x="345.80" y="657.42" font-size="9.63" text-anchor="end" style="" fill="#1a1a1a" textLength="17.18" lengthAdjust="spacingAndGlyphs">800</text>
<line x1="351.7" y1="671.40" x2="355.9" y2="671.40" stroke="#000" stroke-width="1.0"/>
<line x1="646.3" y1="671.40" x2="650.5" y2="671.40" stroke="#000" stroke-width="1.0"/>
<text x="345.80" y="674.70" font-size="9.63" text-anchor="end" style="" fill="#1a1a1a" textLength="22.91" lengthAdjust="spacingAndGlyphs">1000</text>
<line x1="353.5" y1="617.73" x2="355.9" y2="617.73" stroke="#000" stroke-width="0.9"/>
<line x1="646.3" y1="617.73" x2="648.7" y2="617.73" stroke="#000" stroke-width="0.9"/>
<line x1="353.5" y1="643.78" x2="355.9" y2="643.78" stroke="#000" stroke-width="0.9"/>
<line x1="646.3" y1="643.78" x2="648.7" y2="643.78" stroke="#000" stroke-width="0.9"/>
<line x1="353.5" y1="663.24" x2="355.9" y2="663.24" stroke="#000" stroke-width="0.9"/>
<line x1="646.3" y1="663.24" x2="648.7" y2="663.24" stroke="#000" stroke-width="0.9"/>
<line x1="355.90" y1="671.4000000000001" x2="355.90" y2="675.6" stroke="#000" stroke-width="1.0"/>
<text x="355.90" y="687.40" font-size="9.63" text-anchor="middle" style="" fill="#1a1a1a" textLength="21.67" lengthAdjust="spacingAndGlyphs">90°S</text>
<line x1="404.30" y1="671.4000000000001" x2="404.30" y2="675.6" stroke="#000" stroke-width="1.0"/>
<text x="404.30" y="687.40" font-size="9.63" text-anchor="middle" style="" fill="#1a1a1a" textLength="21.67" lengthAdjust="spacingAndGlyphs">60°S</text>
<line x1="452.70" y1="671.4000000000001" x2="452.70" y2="675.6" stroke="#000" stroke-width="1.0"/>
<text x="452.70" y="687.40" font-size="9.63" text-anchor="middle" style="" fill="#1a1a1a" textLength="21.67" lengthAdjust="spacingAndGlyphs">30°S</text>
<line x1="501.10" y1="671.4000000000001" x2="501.10" y2="675.6" stroke="#000" stroke-width="1.0"/>
<text x="501.10" y="687.40" font-size="9.63" text-anchor="middle" style="" fill="#1a1a1a" textLength="10.23" lengthAdjust="spacingAndGlyphs">0°</text>
<line x1="549.50" y1="671.4000000000001" x2="549.50" y2="675.6" stroke="#000" stroke-width="1.0"/>
<text x="549.50" y="687.40" font-size="9.63" text-anchor="middle" style="" fill="#1a1a1a" textLength="22.68" lengthAdjust="spacingAndGlyphs">30°N</text>
<line x1="597.90" y1="671.4000000000001" x2="597.90" y2="675.6" stroke="#000" stroke-width="1.0"/>
<text x="597.90" y="687.40" font-size="9.63" text-anchor="middle" style="" fill="#1a1a1a" textLength="22.68" lengthAdjust="spacingAndGlyphs">60°N</text>
<line x1="646.30" y1="671.4000000000001" x2="646.30" y2="675.6" stroke="#000" stroke-width="1.0"/>
<text x="646.30" y="687.40" font-size="9.63" text-anchor="middle" style="" fill="#1a1a1a" textLength="22.68" lengthAdjust="spacingAndGlyphs">90°N</text>
<text x="501.00" y="701.80" font-size="9.63" text-anchor="middle" style="" fill="#1a1a1a" textLength="37.04" lengthAdjust="spacingAndGlyphs">Latitude</text>
<text x="0" y="0" font-size="9" fill="#262626" text-anchor="middle" textLength="64.6" lengthAdjust="spacingAndGlyphs" transform="translate(316.6,582.2) rotate(-90)">Pressure [hPa]</text>
</svg></body></html>
